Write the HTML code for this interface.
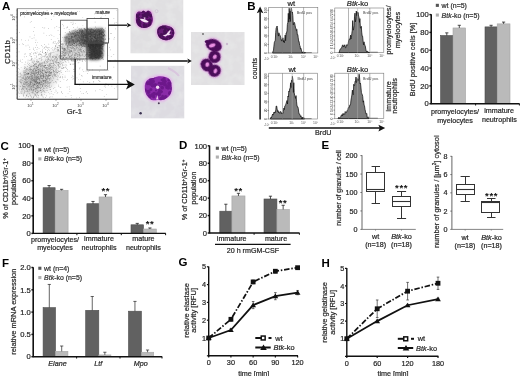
<!DOCTYPE html>
<html><head><meta charset="utf-8"><style>
html,body{margin:0;padding:0;background:#fff;width:520px;height:376px;overflow:hidden}
text[font-size^="6"],text[font-size^="7"],text[font-size^="8"]{stroke:#333;stroke-width:0.22px}
svg{display:block;filter:blur(0.4px)}
text{font-family:"Liberation Sans",sans-serif}
</style></head><body>
<svg width="520" height="376" viewBox="0 0 520 376">
<rect width="520" height="376" fill="#fff"/>
<text x="2.00" y="10.03" font-size="11.5" text-anchor="start" fill="#000" font-weight="bold" >A</text>
<defs><clipPath id="clipA"><rect x="17.8" y="9" width="99.6" height="89.6"/></clipPath><filter id="blur3" x="-50%" y="-50%" width="200%" height="200%"><feGaussianBlur stdDeviation="3"/></filter><filter id="blur2" x="-50%" y="-50%" width="200%" height="200%"><feGaussianBlur stdDeviation="1.8"/></filter><filter id="blur1" x="-50%" y="-50%" width="200%" height="200%"><feGaussianBlur stdDeviation="0.7"/></filter><filter id="blur05" x="-50%" y="-50%" width="200%" height="200%"><feGaussianBlur stdDeviation="0.45"/></filter></defs>
<g clip-path="url(#clipA)">
<g filter="url(#blur3)">
<ellipse cx="38" cy="78" rx="22" ry="15" fill="#d8d8d8" transform="rotate(-35 38 78)"/>
<ellipse cx="35" cy="80" rx="12" ry="9" fill="#c4c4c4" transform="rotate(-35 35 80)"/>
<ellipse cx="55" cy="60" rx="16" ry="7" fill="#e2e2e2" transform="rotate(-45 55 60)"/>
</g>
<g filter="url(#blur2)">
<path d="M64 40 C64 35 70 32 78 30 L101 28 C104 28.5 104.5 31 104.5 34 L104 45 L86 47 L74 47 C68 46.5 64 44 64 40 Z" fill="#8c8c8c"/>
<path d="M80 31 L101 28.5 C103.5 29 104 31 104 34 L104 45 L86 46 L80 44 Z" fill="#6c6c6c"/>
<path d="M87 42 L103 42 L103 55 Q102 60 96 60 L90 60 Q87 58 87 54 Z" fill="#404040"/>
<ellipse cx="75" cy="52" rx="13" ry="8" fill="#d4d4d4"/>
</g>
<path d="M89.6 32.6h.7v.7h-.7zM90.5 48.0h.7v.7h-.7zM45.0 71.6h.7v.7h-.7zM46.3 70.4h.7v.7h-.7zM69.7 42.1h.7v.7h-.7zM45.5 46.6h.7v.7h-.7zM113.5 66.7h.7v.7h-.7zM52.4 49.5h.7v.7h-.7zM48.0 74.5h.7v.7h-.7zM20.6 91.7h.7v.7h-.7zM78.1 29.2h.7v.7h-.7zM97.0 35.9h.7v.7h-.7zM73.3 30.6h.7v.7h-.7zM32.8 80.3h.7v.7h-.7zM85.8 46.5h.7v.7h-.7zM76.7 40.8h.7v.7h-.7zM36.3 70.6h.7v.7h-.7zM84.2 41.3h.7v.7h-.7zM84.2 28.2h.7v.7h-.7zM82.3 29.7h.7v.7h-.7zM95.7 36.8h.7v.7h-.7zM52.9 42.3h.7v.7h-.7zM34.9 81.7h.7v.7h-.7zM101.9 51.8h.7v.7h-.7zM100.9 34.2h.7v.7h-.7zM93.7 44.9h.7v.7h-.7zM48.1 66.7h.7v.7h-.7zM37.2 91.9h.7v.7h-.7zM77.4 38.7h.7v.7h-.7zM20.0 86.3h.7v.7h-.7zM101.8 90.2h.7v.7h-.7zM78.2 51.8h.7v.7h-.7zM61.7 52.7h.7v.7h-.7zM53.6 51.9h.7v.7h-.7zM91.5 52.3h.7v.7h-.7zM95.8 56.9h.7v.7h-.7zM101.9 30.4h.7v.7h-.7zM89.3 42.4h.7v.7h-.7zM59.9 81.3h.7v.7h-.7zM65.3 57.3h.7v.7h-.7zM60.5 70.3h.7v.7h-.7zM95.0 36.7h.7v.7h-.7zM75.7 54.8h.7v.7h-.7zM26.0 88.4h.7v.7h-.7zM54.8 74.2h.7v.7h-.7zM69.0 49.7h.7v.7h-.7zM31.0 73.6h.7v.7h-.7zM99.5 47.8h.7v.7h-.7zM79.7 55.2h.7v.7h-.7zM95.8 31.4h.7v.7h-.7zM36.4 75.6h.7v.7h-.7zM84.6 38.9h.7v.7h-.7zM89.8 38.9h.7v.7h-.7zM82.2 42.9h.7v.7h-.7zM99.8 34.0h.7v.7h-.7zM56.6 73.4h.7v.7h-.7zM97.2 42.1h.7v.7h-.7zM62.2 76.1h.7v.7h-.7zM49.7 54.2h.7v.7h-.7zM104.7 30.1h.7v.7h-.7zM75.9 37.0h.7v.7h-.7zM41.2 70.9h.7v.7h-.7zM36.3 86.0h.7v.7h-.7zM101.1 33.1h.7v.7h-.7zM72.0 31.9h.7v.7h-.7zM24.9 78.0h.7v.7h-.7zM65.9 58.1h.7v.7h-.7zM88.2 50.6h.7v.7h-.7zM93.0 58.2h.7v.7h-.7zM101.9 33.7h.7v.7h-.7zM98.8 53.4h.7v.7h-.7zM82.7 41.6h.7v.7h-.7zM89.3 29.6h.7v.7h-.7zM40.6 56.4h.7v.7h-.7zM41.8 69.7h.7v.7h-.7zM42.1 70.6h.7v.7h-.7zM86.1 31.8h.7v.7h-.7zM62.9 57.8h.7v.7h-.7zM59.1 63.3h.7v.7h-.7zM36.3 80.6h.7v.7h-.7zM18.1 71.7h.7v.7h-.7zM92.7 35.3h.7v.7h-.7zM65.4 60.7h.7v.7h-.7zM86.6 43.9h.7v.7h-.7zM89.3 36.0h.7v.7h-.7zM76.6 30.5h.7v.7h-.7zM86.7 47.2h.7v.7h-.7zM73.3 69.2h.7v.7h-.7zM47.6 47.3h.7v.7h-.7zM86.8 37.9h.7v.7h-.7zM65.7 61.9h.7v.7h-.7zM39.4 84.6h.7v.7h-.7zM60.3 34.5h.7v.7h-.7zM50.5 78.7h.7v.7h-.7zM34.4 80.0h.7v.7h-.7zM100.2 50.7h.7v.7h-.7zM25.5 83.1h.7v.7h-.7zM57.0 49.9h.7v.7h-.7zM28.6 80.1h.7v.7h-.7zM29.7 83.7h.7v.7h-.7zM66.1 50.3h.7v.7h-.7zM40.9 74.8h.7v.7h-.7zM34.6 78.1h.7v.7h-.7zM75.0 55.2h.7v.7h-.7zM74.4 56.8h.7v.7h-.7zM25.1 72.3h.7v.7h-.7zM63.1 25.6h.7v.7h-.7zM99.9 40.9h.7v.7h-.7zM73.8 41.0h.7v.7h-.7zM66.4 80.1h.7v.7h-.7zM78.6 36.3h.7v.7h-.7zM22.3 87.4h.7v.7h-.7zM89.5 28.6h.7v.7h-.7zM99.6 44.9h.7v.7h-.7zM68.5 39.9h.7v.7h-.7zM101.6 54.8h.7v.7h-.7zM59.8 64.6h.7v.7h-.7zM21.6 93.0h.7v.7h-.7zM94.8 53.5h.7v.7h-.7zM97.1 46.3h.7v.7h-.7zM82.0 32.4h.7v.7h-.7zM62.2 64.1h.7v.7h-.7zM78.4 35.9h.7v.7h-.7zM87.7 47.4h.7v.7h-.7zM95.6 55.2h.7v.7h-.7zM91.6 29.4h.7v.7h-.7zM99.6 45.7h.7v.7h-.7zM63.8 58.7h.7v.7h-.7zM97.6 40.5h.7v.7h-.7zM64.8 54.9h.7v.7h-.7zM47.5 69.1h.7v.7h-.7zM40.4 69.9h.7v.7h-.7zM78.5 37.2h.7v.7h-.7zM78.7 48.8h.7v.7h-.7zM81.8 30.1h.7v.7h-.7zM30.6 81.6h.7v.7h-.7zM41.5 64.4h.7v.7h-.7zM88.7 58.4h.7v.7h-.7zM96.3 40.4h.7v.7h-.7zM93.9 38.9h.7v.7h-.7zM97.2 40.8h.7v.7h-.7zM39.7 90.0h.7v.7h-.7zM45.1 77.7h.7v.7h-.7zM79.8 39.9h.7v.7h-.7zM81.7 45.7h.7v.7h-.7zM91.9 36.8h.7v.7h-.7zM49.8 61.4h.7v.7h-.7zM33.6 88.9h.7v.7h-.7zM37.3 90.5h.7v.7h-.7zM93.1 34.1h.7v.7h-.7zM103.4 38.6h.7v.7h-.7zM52.9 76.9h.7v.7h-.7zM75.9 44.9h.7v.7h-.7zM70.4 45.1h.7v.7h-.7zM46.1 79.0h.7v.7h-.7zM45.1 75.7h.7v.7h-.7zM114.2 37.1h.7v.7h-.7zM66.1 27.5h.7v.7h-.7zM82.2 45.6h.7v.7h-.7zM88.7 43.2h.7v.7h-.7zM42.4 85.9h.7v.7h-.7zM70.8 48.0h.7v.7h-.7zM71.6 42.7h.7v.7h-.7zM80.5 44.5h.7v.7h-.7zM102.8 32.5h.7v.7h-.7zM32.8 73.4h.7v.7h-.7zM75.2 34.6h.7v.7h-.7zM72.6 32.5h.7v.7h-.7zM39.1 82.2h.7v.7h-.7zM89.1 30.7h.7v.7h-.7zM73.4 37.2h.7v.7h-.7zM48.2 66.1h.7v.7h-.7zM102.3 47.8h.7v.7h-.7zM36.5 82.4h.7v.7h-.7zM102.5 43.6h.7v.7h-.7zM99.5 54.3h.7v.7h-.7zM36.7 76.7h.7v.7h-.7zM44.4 62.7h.7v.7h-.7zM88.7 33.3h.7v.7h-.7zM102.0 34.0h.7v.7h-.7zM73.8 57.2h.7v.7h-.7zM76.4 42.7h.7v.7h-.7zM102.8 44.2h.7v.7h-.7zM98.4 57.8h.7v.7h-.7zM95.5 47.5h.7v.7h-.7zM88.4 29.3h.7v.7h-.7zM95.0 38.1h.7v.7h-.7zM29.5 67.1h.7v.7h-.7zM83.4 71.2h.7v.7h-.7zM93.2 81.5h.7v.7h-.7zM55.1 65.2h.7v.7h-.7zM48.8 73.3h.7v.7h-.7zM71.2 36.6h.7v.7h-.7zM59.0 66.2h.7v.7h-.7zM45.6 72.3h.7v.7h-.7zM37.9 83.3h.7v.7h-.7zM79.8 31.2h.7v.7h-.7zM97.1 46.7h.7v.7h-.7zM79.2 59.7h.7v.7h-.7zM98.9 33.5h.7v.7h-.7zM42.9 79.8h.7v.7h-.7zM19.9 61.0h.7v.7h-.7zM41.1 72.3h.7v.7h-.7zM26.0 95.5h.7v.7h-.7zM90.8 43.7h.7v.7h-.7zM91.1 28.0h.7v.7h-.7zM56.4 70.9h.7v.7h-.7zM31.3 82.3h.7v.7h-.7zM97.8 35.5h.7v.7h-.7zM72.4 45.8h.7v.7h-.7zM27.4 76.6h.7v.7h-.7zM92.3 35.6h.7v.7h-.7zM35.1 80.7h.7v.7h-.7zM92.2 42.2h.7v.7h-.7zM110.9 33.0h.7v.7h-.7zM97.0 41.1h.7v.7h-.7zM100.6 41.5h.7v.7h-.7zM74.5 40.4h.7v.7h-.7zM84.9 43.8h.7v.7h-.7zM41.8 76.2h.7v.7h-.7zM45.7 74.7h.7v.7h-.7zM62.1 50.9h.7v.7h-.7zM22.9 83.8h.7v.7h-.7zM92.1 32.3h.7v.7h-.7zM81.0 39.8h.7v.7h-.7zM93.6 46.7h.7v.7h-.7zM42.1 78.6h.7v.7h-.7zM92.5 48.2h.7v.7h-.7zM88.1 28.8h.7v.7h-.7zM97.3 43.4h.7v.7h-.7zM96.6 50.9h.7v.7h-.7zM84.4 39.0h.7v.7h-.7zM47.6 57.9h.7v.7h-.7zM99.3 34.0h.7v.7h-.7zM32.5 71.1h.7v.7h-.7zM30.0 53.0h.7v.7h-.7zM35.0 80.6h.7v.7h-.7zM33.2 96.4h.7v.7h-.7zM58.7 50.8h.7v.7h-.7zM86.5 36.8h.7v.7h-.7zM87.0 41.2h.7v.7h-.7zM91.7 43.7h.7v.7h-.7zM45.2 67.2h.7v.7h-.7zM98.8 33.1h.7v.7h-.7zM36.8 66.9h.7v.7h-.7zM30.3 72.6h.7v.7h-.7zM23.9 75.4h.7v.7h-.7zM91.0 31.2h.7v.7h-.7zM95.8 47.7h.7v.7h-.7zM90.0 44.3h.7v.7h-.7zM92.2 58.5h.7v.7h-.7zM96.0 28.0h.7v.7h-.7zM20.3 59.7h.7v.7h-.7zM39.9 75.6h.7v.7h-.7zM87.7 39.2h.7v.7h-.7zM92.4 32.1h.7v.7h-.7zM40.8 66.3h.7v.7h-.7zM95.7 41.8h.7v.7h-.7zM94.9 33.9h.7v.7h-.7zM29.3 84.4h.7v.7h-.7zM86.8 53.5h.7v.7h-.7zM89.5 49.3h.7v.7h-.7zM89.0 29.4h.7v.7h-.7zM88.0 51.7h.7v.7h-.7zM90.7 42.3h.7v.7h-.7zM39.0 78.4h.7v.7h-.7zM59.2 57.7h.7v.7h-.7zM50.3 67.0h.7v.7h-.7zM25.8 70.3h.7v.7h-.7zM32.8 86.9h.7v.7h-.7zM57.5 47.1h.7v.7h-.7zM38.3 74.4h.7v.7h-.7zM101.0 47.6h.7v.7h-.7zM87.2 47.4h.7v.7h-.7zM91.7 41.4h.7v.7h-.7zM101.0 41.9h.7v.7h-.7zM29.2 76.0h.7v.7h-.7zM89.4 46.3h.7v.7h-.7zM95.7 36.3h.7v.7h-.7zM75.3 41.6h.7v.7h-.7zM88.1 31.9h.7v.7h-.7zM38.7 48.4h.7v.7h-.7zM94.8 44.8h.7v.7h-.7zM83.5 46.3h.7v.7h-.7zM101.7 32.1h.7v.7h-.7zM72.2 52.8h.7v.7h-.7zM94.6 44.4h.7v.7h-.7zM53.4 61.5h.7v.7h-.7zM27.0 91.1h.7v.7h-.7zM98.6 29.8h.7v.7h-.7zM71.8 50.9h.7v.7h-.7zM79.0 33.2h.7v.7h-.7zM45.4 49.2h.7v.7h-.7zM35.1 91.3h.7v.7h-.7zM90.9 54.7h.7v.7h-.7zM93.4 42.2h.7v.7h-.7zM69.6 49.8h.7v.7h-.7zM40.3 84.0h.7v.7h-.7zM91.7 44.2h.7v.7h-.7zM65.2 15.4h.7v.7h-.7zM92.0 58.8h.7v.7h-.7zM57.7 49.7h.7v.7h-.7zM25.0 74.2h.7v.7h-.7zM65.6 59.2h.7v.7h-.7zM74.9 44.9h.7v.7h-.7zM65.5 64.5h.7v.7h-.7zM73.0 40.7h.7v.7h-.7zM39.5 53.8h.7v.7h-.7zM84.2 40.2h.7v.7h-.7zM95.7 40.1h.7v.7h-.7zM75.0 52.6h.7v.7h-.7zM26.6 77.9h.7v.7h-.7zM86.5 52.0h.7v.7h-.7zM81.1 28.4h.7v.7h-.7zM89.6 50.0h.7v.7h-.7zM43.2 75.6h.7v.7h-.7zM55.6 51.4h.7v.7h-.7zM87.5 52.4h.7v.7h-.7zM91.4 57.9h.7v.7h-.7zM36.2 79.9h.7v.7h-.7zM90.5 29.0h.7v.7h-.7zM91.7 53.5h.7v.7h-.7zM87.5 48.6h.7v.7h-.7zM96.8 50.0h.7v.7h-.7zM26.5 71.5h.7v.7h-.7zM90.2 51.9h.7v.7h-.7zM54.1 59.0h.7v.7h-.7zM94.0 30.7h.7v.7h-.7zM102.7 48.4h.7v.7h-.7zM30.4 72.5h.7v.7h-.7zM61.2 72.2h.7v.7h-.7zM40.5 81.7h.7v.7h-.7zM34.2 74.8h.7v.7h-.7zM31.6 77.2h.7v.7h-.7zM51.1 65.9h.7v.7h-.7zM66.3 57.0h.7v.7h-.7zM36.8 83.5h.7v.7h-.7zM79.3 11.4h.7v.7h-.7zM66.8 86.7h.7v.7h-.7zM60.9 57.4h.7v.7h-.7zM103.0 40.1h.7v.7h-.7zM93.0 45.3h.7v.7h-.7zM52.3 60.8h.7v.7h-.7zM95.0 57.3h.7v.7h-.7zM93.6 54.3h.7v.7h-.7zM47.3 77.8h.7v.7h-.7zM102.5 35.1h.7v.7h-.7zM58.2 56.6h.7v.7h-.7zM90.0 42.9h.7v.7h-.7zM46.2 71.7h.7v.7h-.7zM80.9 45.3h.7v.7h-.7zM46.0 87.6h.7v.7h-.7zM29.6 88.5h.7v.7h-.7zM86.3 37.2h.7v.7h-.7zM87.7 42.9h.7v.7h-.7zM31.5 58.3h.7v.7h-.7zM36.6 49.0h.7v.7h-.7zM31.6 71.6h.7v.7h-.7zM90.4 32.8h.7v.7h-.7zM38.4 61.3h.7v.7h-.7zM66.4 64.8h.7v.7h-.7zM74.0 32.4h.7v.7h-.7zM47.0 56.4h.7v.7h-.7zM101.2 53.2h.7v.7h-.7zM90.0 41.4h.7v.7h-.7zM91.2 30.4h.7v.7h-.7zM74.7 37.0h.7v.7h-.7zM46.0 95.6h.7v.7h-.7zM84.9 28.8h.7v.7h-.7zM26.6 88.2h.7v.7h-.7zM76.1 37.1h.7v.7h-.7zM37.5 87.6h.7v.7h-.7zM92.3 35.4h.7v.7h-.7zM102.0 28.5h.7v.7h-.7zM87.8 38.4h.7v.7h-.7zM80.9 39.3h.7v.7h-.7zM35.8 69.7h.7v.7h-.7zM54.4 74.7h.7v.7h-.7zM88.9 58.6h.7v.7h-.7zM74.8 46.2h.7v.7h-.7zM62.5 64.9h.7v.7h-.7zM101.3 38.4h.7v.7h-.7zM101.8 58.7h.7v.7h-.7zM53.1 71.7h.7v.7h-.7zM101.8 57.5h.7v.7h-.7zM92.1 38.2h.7v.7h-.7zM92.0 45.3h.7v.7h-.7zM49.2 63.5h.7v.7h-.7zM48.0 75.4h.7v.7h-.7zM96.6 43.9h.7v.7h-.7zM50.1 54.5h.7v.7h-.7zM43.1 65.5h.7v.7h-.7zM86.6 54.2h.7v.7h-.7zM87.8 56.4h.7v.7h-.7zM74.8 56.8h.7v.7h-.7zM71.4 47.5h.7v.7h-.7zM102.3 41.9h.7v.7h-.7zM73.1 45.3h.7v.7h-.7zM38.5 82.8h.7v.7h-.7zM64.2 54.9h.7v.7h-.7zM58.0 71.6h.7v.7h-.7zM90.6 37.5h.7v.7h-.7zM58.3 62.1h.7v.7h-.7zM44.5 61.6h.7v.7h-.7zM30.9 59.8h.7v.7h-.7zM44.8 71.5h.7v.7h-.7zM107.6 55.4h.7v.7h-.7zM101.1 37.1h.7v.7h-.7zM76.4 35.9h.7v.7h-.7zM95.8 45.3h.7v.7h-.7zM44.6 79.8h.7v.7h-.7zM77.6 37.6h.7v.7h-.7zM87.8 45.3h.7v.7h-.7zM80.9 42.3h.7v.7h-.7zM98.8 51.9h.7v.7h-.7zM85.4 37.4h.7v.7h-.7zM101.3 51.6h.7v.7h-.7zM88.9 55.0h.7v.7h-.7zM53.6 74.9h.7v.7h-.7zM37.1 83.3h.7v.7h-.7zM90.4 39.3h.7v.7h-.7zM90.9 39.1h.7v.7h-.7zM91.7 49.3h.7v.7h-.7zM82.3 54.1h.7v.7h-.7zM29.0 60.4h.7v.7h-.7zM85.6 36.9h.7v.7h-.7zM89.9 46.0h.7v.7h-.7zM94.0 51.4h.7v.7h-.7zM71.4 37.5h.7v.7h-.7zM69.5 91.2h.7v.7h-.7zM90.9 43.5h.7v.7h-.7zM98.1 42.0h.7v.7h-.7zM56.8 92.9h.7v.7h-.7zM111.9 79.1h.7v.7h-.7zM92.9 39.8h.7v.7h-.7zM95.0 43.6h.7v.7h-.7zM95.0 43.3h.7v.7h-.7zM97.4 39.4h.7v.7h-.7zM81.8 29.0h.7v.7h-.7zM103.7 50.8h.7v.7h-.7zM43.8 80.7h.7v.7h-.7zM51.3 72.4h.7v.7h-.7zM53.7 71.3h.7v.7h-.7zM39.9 73.7h.7v.7h-.7zM100.3 46.9h.7v.7h-.7zM97.7 38.2h.7v.7h-.7zM97.7 49.3h.7v.7h-.7zM88.3 44.5h.7v.7h-.7zM90.0 36.0h.7v.7h-.7zM46.8 90.0h.7v.7h-.7zM73.1 33.2h.7v.7h-.7zM90.7 43.9h.7v.7h-.7zM98.3 29.9h.7v.7h-.7zM40.2 73.4h.7v.7h-.7zM103.1 39.1h.7v.7h-.7zM34.5 83.5h.7v.7h-.7zM102.9 32.7h.7v.7h-.7zM91.1 39.8h.7v.7h-.7zM98.6 48.6h.7v.7h-.7zM35.0 84.8h.7v.7h-.7zM47.5 56.8h.7v.7h-.7zM41.3 84.4h.7v.7h-.7zM70.6 44.5h.7v.7h-.7zM29.6 83.3h.7v.7h-.7zM79.1 97.2h.7v.7h-.7zM98.6 44.7h.7v.7h-.7zM93.5 32.3h.7v.7h-.7zM43.9 62.8h.7v.7h-.7zM59.9 49.7h.7v.7h-.7zM37.8 71.9h.7v.7h-.7zM100.5 31.9h.7v.7h-.7zM28.3 83.3h.7v.7h-.7zM91.8 31.6h.7v.7h-.7zM102.6 84.0h.7v.7h-.7zM74.0 48.3h.7v.7h-.7zM91.1 32.3h.7v.7h-.7zM96.9 43.8h.7v.7h-.7zM90.2 57.4h.7v.7h-.7zM87.5 35.2h.7v.7h-.7zM69.8 38.2h.7v.7h-.7zM92.4 43.9h.7v.7h-.7zM87.9 44.7h.7v.7h-.7zM70.5 58.9h.7v.7h-.7zM48.1 92.4h.7v.7h-.7zM86.5 48.5h.7v.7h-.7zM50.3 70.3h.7v.7h-.7zM44.7 76.1h.7v.7h-.7zM31.3 56.4h.7v.7h-.7zM92.5 34.7h.7v.7h-.7zM46.8 78.7h.7v.7h-.7zM90.6 47.1h.7v.7h-.7zM43.8 71.3h.7v.7h-.7zM76.9 34.6h.7v.7h-.7zM39.5 68.4h.7v.7h-.7zM34.3 67.5h.7v.7h-.7zM89.8 33.8h.7v.7h-.7zM86.7 34.9h.7v.7h-.7zM88.6 54.3h.7v.7h-.7zM69.3 44.6h.7v.7h-.7zM62.1 93.1h.7v.7h-.7zM87.8 44.8h.7v.7h-.7zM96.1 41.6h.7v.7h-.7zM91.8 29.4h.7v.7h-.7zM94.7 44.0h.7v.7h-.7zM62.0 53.8h.7v.7h-.7zM48.9 68.9h.7v.7h-.7zM70.8 41.2h.7v.7h-.7zM94.4 55.0h.7v.7h-.7zM82.4 55.1h.7v.7h-.7zM79.5 49.8h.7v.7h-.7zM41.5 94.9h.7v.7h-.7zM87.6 28.3h.7v.7h-.7zM94.7 46.7h.7v.7h-.7zM99.4 52.4h.7v.7h-.7zM85.0 44.8h.7v.7h-.7zM74.2 58.3h.7v.7h-.7zM60.7 56.4h.7v.7h-.7zM77.2 58.9h.7v.7h-.7zM31.2 59.4h.7v.7h-.7zM87.6 31.9h.7v.7h-.7zM85.9 29.1h.7v.7h-.7zM96.0 52.8h.7v.7h-.7zM38.8 58.5h.7v.7h-.7zM46.8 61.7h.7v.7h-.7zM91.5 49.9h.7v.7h-.7zM102.6 47.5h.7v.7h-.7zM36.3 86.3h.7v.7h-.7zM96.3 41.5h.7v.7h-.7zM77.4 54.6h.7v.7h-.7zM29.6 94.6h.7v.7h-.7zM104.0 40.9h.7v.7h-.7zM31.8 76.7h.7v.7h-.7zM34.0 34.7h.7v.7h-.7zM94.2 17.5h.7v.7h-.7zM93.9 41.2h.7v.7h-.7zM47.2 68.4h.7v.7h-.7zM34.1 81.2h.7v.7h-.7zM64.2 48.3h.7v.7h-.7zM51.1 73.5h.7v.7h-.7zM30.8 88.1h.7v.7h-.7zM88.1 32.8h.7v.7h-.7zM57.3 58.7h.7v.7h-.7zM88.5 32.7h.7v.7h-.7zM98.0 44.9h.7v.7h-.7zM103.8 35.1h.7v.7h-.7zM79.1 55.6h.7v.7h-.7zM85.6 45.5h.7v.7h-.7zM100.7 43.9h.7v.7h-.7zM37.2 79.4h.7v.7h-.7zM27.7 86.5h.7v.7h-.7zM45.9 82.9h.7v.7h-.7zM31.8 70.1h.7v.7h-.7zM97.9 45.1h.7v.7h-.7zM26.1 77.8h.7v.7h-.7zM30.8 86.0h.7v.7h-.7zM64.5 50.0h.7v.7h-.7zM99.0 43.8h.7v.7h-.7zM20.9 82.4h.7v.7h-.7zM96.3 34.2h.7v.7h-.7zM95.7 35.8h.7v.7h-.7zM85.7 91.9h.7v.7h-.7zM45.4 52.5h.7v.7h-.7zM60.7 43.1h.7v.7h-.7zM37.2 82.4h.7v.7h-.7zM95.2 46.4h.7v.7h-.7zM62.5 43.7h.7v.7h-.7zM42.8 56.1h.7v.7h-.7zM89.8 48.2h.7v.7h-.7zM55.9 82.6h.7v.7h-.7zM53.0 70.8h.7v.7h-.7zM36.3 44.7h.7v.7h-.7zM73.8 36.4h.7v.7h-.7zM55.1 75.4h.7v.7h-.7zM93.4 45.8h.7v.7h-.7zM57.9 65.1h.7v.7h-.7zM28.5 84.9h.7v.7h-.7zM56.4 26.3h.7v.7h-.7zM69.5 31.5h.7v.7h-.7zM97.2 39.4h.7v.7h-.7zM84.1 36.8h.7v.7h-.7zM63.7 45.9h.7v.7h-.7zM101.7 40.9h.7v.7h-.7zM99.0 54.2h.7v.7h-.7zM67.2 49.6h.7v.7h-.7zM45.5 91.9h.7v.7h-.7zM101.2 43.9h.7v.7h-.7zM60.1 58.5h.7v.7h-.7zM65.0 49.9h.7v.7h-.7zM62.2 65.6h.7v.7h-.7zM101.9 14.4h.7v.7h-.7zM81.5 92.9h.7v.7h-.7zM100.6 37.0h.7v.7h-.7zM17.5 84.9h.7v.7h-.7zM103.1 35.5h.7v.7h-.7zM53.5 82.1h.7v.7h-.7zM79.8 55.7h.7v.7h-.7zM93.9 37.3h.7v.7h-.7zM88.0 31.8h.7v.7h-.7zM74.6 36.5h.7v.7h-.7zM62.5 74.4h.7v.7h-.7zM84.2 33.7h.7v.7h-.7zM47.7 83.6h.7v.7h-.7zM89.7 54.1h.7v.7h-.7zM91.2 39.2h.7v.7h-.7zM89.1 52.4h.7v.7h-.7zM73.6 56.4h.7v.7h-.7zM69.8 34.1h.7v.7h-.7zM36.5 77.3h.7v.7h-.7zM92.4 34.8h.7v.7h-.7zM98.0 80.2h.7v.7h-.7zM35.5 88.5h.7v.7h-.7zM24.8 82.5h.7v.7h-.7zM92.4 31.8h.7v.7h-.7zM81.1 35.6h.7v.7h-.7zM81.0 41.5h.7v.7h-.7zM75.7 45.1h.7v.7h-.7zM51.8 96.6h.7v.7h-.7zM97.8 34.4h.7v.7h-.7zM89.7 57.5h.7v.7h-.7zM96.5 43.3h.7v.7h-.7zM87.6 54.1h.7v.7h-.7zM97.0 38.2h.7v.7h-.7zM90.7 34.0h.7v.7h-.7zM94.5 50.8h.7v.7h-.7zM101.8 38.2h.7v.7h-.7zM98.8 34.9h.7v.7h-.7zM63.8 52.5h.7v.7h-.7zM34.5 78.9h.7v.7h-.7zM76.8 47.2h.7v.7h-.7zM69.1 36.2h.7v.7h-.7zM65.5 37.5h.7v.7h-.7zM94.6 44.5h.7v.7h-.7zM35.2 80.7h.7v.7h-.7zM100.0 54.8h.7v.7h-.7zM56.4 43.7h.7v.7h-.7zM91.5 55.9h.7v.7h-.7zM18.3 91.7h.7v.7h-.7zM23.9 74.1h.7v.7h-.7zM74.3 43.3h.7v.7h-.7zM86.6 52.4h.7v.7h-.7zM94.8 38.0h.7v.7h-.7zM101.4 48.1h.7v.7h-.7zM59.0 62.6h.7v.7h-.7zM98.5 46.0h.7v.7h-.7zM56.1 57.5h.7v.7h-.7zM80.9 42.8h.7v.7h-.7zM25.4 76.8h.7v.7h-.7zM79.7 28.8h.7v.7h-.7zM101.5 40.5h.7v.7h-.7zM88.2 40.3h.7v.7h-.7zM42.8 74.7h.7v.7h-.7zM75.3 50.2h.7v.7h-.7zM72.3 43.9h.7v.7h-.7zM90.4 30.9h.7v.7h-.7zM31.4 91.9h.7v.7h-.7zM98.3 34.6h.7v.7h-.7zM20.2 82.3h.7v.7h-.7zM43.5 32.7h.7v.7h-.7zM99.3 58.0h.7v.7h-.7zM37.2 86.6h.7v.7h-.7zM88.1 34.4h.7v.7h-.7zM99.2 43.2h.7v.7h-.7zM92.8 45.6h.7v.7h-.7zM73.1 41.7h.7v.7h-.7zM90.3 40.1h.7v.7h-.7zM101.7 43.9h.7v.7h-.7zM38.4 86.2h.7v.7h-.7zM31.5 89.7h.7v.7h-.7zM18.8 81.4h.7v.7h-.7zM113.4 54.3h.7v.7h-.7zM27.7 74.1h.7v.7h-.7zM88.9 58.6h.7v.7h-.7zM96.8 36.0h.7v.7h-.7zM84.8 50.9h.7v.7h-.7zM52.7 71.7h.7v.7h-.7zM101.7 44.9h.7v.7h-.7zM74.7 36.6h.7v.7h-.7zM51.7 67.3h.7v.7h-.7zM64.9 32.2h.7v.7h-.7zM64.2 49.3h.7v.7h-.7zM81.2 51.2h.7v.7h-.7zM101.6 53.1h.7v.7h-.7zM89.3 54.0h.7v.7h-.7zM68.8 38.5h.7v.7h-.7zM83.9 31.8h.7v.7h-.7zM56.8 49.2h.7v.7h-.7zM26.7 74.1h.7v.7h-.7zM96.3 44.3h.7v.7h-.7zM96.5 45.1h.7v.7h-.7zM39.1 84.5h.7v.7h-.7zM84.6 29.0h.7v.7h-.7zM85.9 38.9h.7v.7h-.7zM20.6 79.4h.7v.7h-.7zM73.8 39.2h.7v.7h-.7zM45.2 78.5h.7v.7h-.7zM97.6 38.1h.7v.7h-.7zM87.8 39.0h.7v.7h-.7zM98.1 44.4h.7v.7h-.7zM20.3 74.6h.7v.7h-.7zM86.7 42.6h.7v.7h-.7zM51.3 58.8h.7v.7h-.7zM54.7 76.1h.7v.7h-.7zM79.2 45.8h.7v.7h-.7zM39.6 62.5h.7v.7h-.7zM96.8 44.8h.7v.7h-.7zM77.1 54.0h.7v.7h-.7zM95.3 34.1h.7v.7h-.7zM43.0 80.3h.7v.7h-.7zM57.3 47.6h.7v.7h-.7zM74.1 42.6h.7v.7h-.7zM74.2 44.6h.7v.7h-.7zM39.1 82.0h.7v.7h-.7zM87.8 29.9h.7v.7h-.7zM100.7 39.7h.7v.7h-.7zM57.3 58.0h.7v.7h-.7zM47.7 78.3h.7v.7h-.7zM99.0 56.6h.7v.7h-.7zM105.1 15.4h.7v.7h-.7zM87.1 31.4h.7v.7h-.7zM90.7 55.8h.7v.7h-.7zM91.4 42.1h.7v.7h-.7zM86.8 55.9h.7v.7h-.7zM91.4 39.7h.7v.7h-.7zM22.3 43.6h.7v.7h-.7zM94.6 44.3h.7v.7h-.7zM42.1 86.2h.7v.7h-.7zM96.7 32.0h.7v.7h-.7zM94.8 58.7h.7v.7h-.7zM75.2 22.9h.7v.7h-.7zM65.4 57.5h.7v.7h-.7zM86.5 58.5h.7v.7h-.7zM73.5 59.6h.7v.7h-.7zM97.2 41.2h.7v.7h-.7zM90.6 44.8h.7v.7h-.7zM35.1 47.2h.7v.7h-.7zM25.8 68.0h.7v.7h-.7zM49.9 63.8h.7v.7h-.7zM81.3 44.1h.7v.7h-.7zM66.2 35.9h.7v.7h-.7zM89.9 43.3h.7v.7h-.7zM35.4 76.3h.7v.7h-.7zM92.2 38.0h.7v.7h-.7zM100.0 33.3h.7v.7h-.7zM96.0 44.4h.7v.7h-.7zM70.1 58.6h.7v.7h-.7zM70.7 59.8h.7v.7h-.7zM74.8 53.8h.7v.7h-.7zM65.2 66.8h.7v.7h-.7zM87.0 45.8h.7v.7h-.7zM40.8 92.0h.7v.7h-.7zM94.3 36.9h.7v.7h-.7zM39.1 81.7h.7v.7h-.7zM77.9 43.5h.7v.7h-.7zM50.4 73.1h.7v.7h-.7zM102.2 53.0h.7v.7h-.7zM98.9 43.4h.7v.7h-.7zM75.8 38.8h.7v.7h-.7zM94.9 49.8h.7v.7h-.7zM87.5 33.5h.7v.7h-.7zM74.7 34.8h.7v.7h-.7zM52.9 69.5h.7v.7h-.7zM82.7 38.5h.7v.7h-.7zM25.0 87.6h.7v.7h-.7zM101.4 33.1h.7v.7h-.7zM28.3 72.9h.7v.7h-.7zM58.6 40.4h.7v.7h-.7zM34.2 83.9h.7v.7h-.7zM82.9 35.5h.7v.7h-.7zM90.6 36.5h.7v.7h-.7zM42.4 69.8h.7v.7h-.7zM87.1 73.2h.7v.7h-.7zM31.6 76.1h.7v.7h-.7zM69.3 41.1h.7v.7h-.7zM29.8 88.7h.7v.7h-.7zM90.4 45.7h.7v.7h-.7zM58.5 41.5h.7v.7h-.7zM88.6 56.4h.7v.7h-.7zM96.9 32.0h.7v.7h-.7zM54.1 71.1h.7v.7h-.7zM103.7 38.8h.7v.7h-.7zM98.2 45.9h.7v.7h-.7zM89.2 50.0h.7v.7h-.7zM100.6 45.0h.7v.7h-.7zM96.4 49.7h.7v.7h-.7zM74.2 55.3h.7v.7h-.7zM99.0 80.8h.7v.7h-.7zM63.5 52.2h.7v.7h-.7zM37.7 76.7h.7v.7h-.7zM84.7 50.9h.7v.7h-.7zM74.2 45.0h.7v.7h-.7zM57.9 44.9h.7v.7h-.7zM40.8 95.4h.7v.7h-.7zM96.4 39.3h.7v.7h-.7zM31.6 59.6h.7v.7h-.7zM48.8 82.5h.7v.7h-.7zM29.2 53.5h.7v.7h-.7zM96.4 58.1h.7v.7h-.7zM86.0 35.5h.7v.7h-.7zM86.7 32.9h.7v.7h-.7zM94.6 43.7h.7v.7h-.7zM49.3 68.3h.7v.7h-.7zM102.8 56.3h.7v.7h-.7zM92.2 42.4h.7v.7h-.7zM50.3 74.4h.7v.7h-.7zM101.7 41.1h.7v.7h-.7zM100.5 53.6h.7v.7h-.7zM49.0 74.7h.7v.7h-.7zM67.2 14.8h.7v.7h-.7zM99.0 30.6h.7v.7h-.7zM76.0 52.7h.7v.7h-.7zM33.6 89.4h.7v.7h-.7zM82.0 39.5h.7v.7h-.7zM70.8 59.9h.7v.7h-.7zM97.0 44.1h.7v.7h-.7zM99.6 81.1h.7v.7h-.7zM75.5 61.3h.7v.7h-.7zM52.9 55.7h.7v.7h-.7zM69.1 31.4h.7v.7h-.7zM83.9 34.5h.7v.7h-.7zM103.0 31.9h.7v.7h-.7zM89.9 42.6h.7v.7h-.7zM85.9 37.7h.7v.7h-.7zM87.8 43.8h.7v.7h-.7zM76.3 34.1h.7v.7h-.7zM100.8 56.9h.7v.7h-.7zM105.2 43.4h.7v.7h-.7zM81.1 28.8h.7v.7h-.7zM37.2 81.7h.7v.7h-.7zM72.9 42.8h.7v.7h-.7zM99.5 42.2h.7v.7h-.7zM33.1 31.2h.7v.7h-.7zM42.2 72.8h.7v.7h-.7zM95.4 43.0h.7v.7h-.7zM80.5 35.3h.7v.7h-.7zM103.6 29.5h.7v.7h-.7zM68.0 54.9h.7v.7h-.7zM41.4 59.4h.7v.7h-.7zM38.1 71.2h.7v.7h-.7zM90.1 29.5h.7v.7h-.7zM83.7 45.3h.7v.7h-.7zM88.6 37.9h.7v.7h-.7zM59.3 67.0h.7v.7h-.7zM40.7 84.4h.7v.7h-.7zM30.2 80.6h.7v.7h-.7zM46.9 59.9h.7v.7h-.7zM85.0 29.3h.7v.7h-.7zM99.6 40.8h.7v.7h-.7zM81.2 40.0h.7v.7h-.7zM101.8 51.7h.7v.7h-.7zM90.4 34.3h.7v.7h-.7zM90.9 38.2h.7v.7h-.7zM77.6 35.4h.7v.7h-.7zM44.6 73.9h.7v.7h-.7zM25.1 61.7h.7v.7h-.7zM85.7 70.7h.7v.7h-.7zM36.2 86.6h.7v.7h-.7zM91.5 51.8h.7v.7h-.7zM73.3 60.4h.7v.7h-.7z" fill="#2a2a2a" fill-opacity="0.38"/>
<path d="M48.9 64.3h.7v.7h-.7zM77.2 11.2h.7v.7h-.7zM31.2 52.4h.7v.7h-.7zM93.7 33.2h.7v.7h-.7zM98.2 40.9h.7v.7h-.7zM40.3 54.3h.7v.7h-.7zM69.9 47.0h.7v.7h-.7zM63.8 50.8h.7v.7h-.7zM18.0 59.9h.7v.7h-.7zM98.4 36.7h.7v.7h-.7zM40.0 71.7h.7v.7h-.7zM80.8 38.6h.7v.7h-.7zM83.1 57.9h.7v.7h-.7zM49.6 60.1h.7v.7h-.7zM97.3 42.8h.7v.7h-.7zM97.9 47.2h.7v.7h-.7zM92.5 30.8h.7v.7h-.7zM95.7 53.9h.7v.7h-.7zM39.2 87.1h.7v.7h-.7zM97.6 31.2h.7v.7h-.7zM88.9 57.8h.7v.7h-.7zM97.2 34.6h.7v.7h-.7zM90.8 45.5h.7v.7h-.7zM89.9 47.3h.7v.7h-.7zM43.4 62.5h.7v.7h-.7zM89.1 47.3h.7v.7h-.7zM87.6 40.7h.7v.7h-.7zM62.1 62.5h.7v.7h-.7zM90.7 44.7h.7v.7h-.7zM81.9 39.2h.7v.7h-.7zM66.9 60.1h.7v.7h-.7zM85.0 35.0h.7v.7h-.7zM65.5 49.4h.7v.7h-.7zM93.8 42.5h.7v.7h-.7zM45.2 84.8h.7v.7h-.7zM88.2 46.2h.7v.7h-.7zM55.1 81.0h.7v.7h-.7zM36.0 76.0h.7v.7h-.7zM50.7 72.1h.7v.7h-.7zM90.4 32.8h.7v.7h-.7zM56.3 62.7h.7v.7h-.7zM94.4 56.6h.7v.7h-.7zM78.3 78.9h.7v.7h-.7zM93.7 36.3h.7v.7h-.7zM27.8 70.4h.7v.7h-.7zM86.9 43.1h.7v.7h-.7zM42.4 89.3h.7v.7h-.7zM88.7 31.8h.7v.7h-.7zM78.7 28.2h.7v.7h-.7zM69.7 50.8h.7v.7h-.7zM83.5 51.8h.7v.7h-.7zM34.6 79.0h.7v.7h-.7zM88.2 45.9h.7v.7h-.7zM34.0 84.5h.7v.7h-.7zM82.1 40.5h.7v.7h-.7zM42.4 90.7h.7v.7h-.7zM78.2 44.9h.7v.7h-.7zM43.0 77.0h.7v.7h-.7zM88.6 36.1h.7v.7h-.7zM32.4 72.9h.7v.7h-.7zM32.7 84.9h.7v.7h-.7zM88.4 28.8h.7v.7h-.7zM32.1 78.7h.7v.7h-.7zM38.7 78.7h.7v.7h-.7zM79.3 32.4h.7v.7h-.7zM89.3 52.1h.7v.7h-.7zM62.0 43.5h.7v.7h-.7zM92.1 52.8h.7v.7h-.7zM34.6 77.8h.7v.7h-.7zM92.8 49.4h.7v.7h-.7zM71.5 77.0h.7v.7h-.7zM48.9 35.1h.7v.7h-.7zM76.2 44.3h.7v.7h-.7zM90.3 31.2h.7v.7h-.7zM88.1 44.9h.7v.7h-.7zM103.1 30.5h.7v.7h-.7zM41.7 94.8h.7v.7h-.7zM82.2 30.7h.7v.7h-.7zM75.3 48.7h.7v.7h-.7zM89.8 28.8h.7v.7h-.7zM43.2 74.3h.7v.7h-.7zM31.1 78.0h.7v.7h-.7zM95.1 41.7h.7v.7h-.7zM26.1 84.7h.7v.7h-.7zM86.9 52.2h.7v.7h-.7zM79.5 30.7h.7v.7h-.7zM97.8 52.4h.7v.7h-.7zM18.7 51.5h.7v.7h-.7zM33.7 73.0h.7v.7h-.7zM44.6 83.8h.7v.7h-.7zM99.5 41.2h.7v.7h-.7zM111.5 85.8h.7v.7h-.7zM104.7 31.5h.7v.7h-.7zM43.1 75.3h.7v.7h-.7zM36.0 66.5h.7v.7h-.7zM91.5 29.1h.7v.7h-.7zM35.5 81.0h.7v.7h-.7zM33.3 47.8h.7v.7h-.7zM36.7 87.6h.7v.7h-.7zM94.3 56.7h.7v.7h-.7zM34.5 87.1h.7v.7h-.7zM97.1 34.0h.7v.7h-.7zM75.7 31.1h.7v.7h-.7zM100.7 43.4h.7v.7h-.7zM95.7 48.4h.7v.7h-.7zM85.8 29.5h.7v.7h-.7zM44.3 90.8h.7v.7h-.7zM31.2 59.3h.7v.7h-.7zM94.7 33.2h.7v.7h-.7zM101.4 44.5h.7v.7h-.7zM102.3 31.2h.7v.7h-.7zM64.5 49.5h.7v.7h-.7zM87.8 39.2h.7v.7h-.7zM45.8 68.1h.7v.7h-.7zM62.5 56.7h.7v.7h-.7zM64.5 36.6h.7v.7h-.7zM47.4 77.1h.7v.7h-.7zM64.3 56.0h.7v.7h-.7zM78.2 32.6h.7v.7h-.7zM82.6 31.4h.7v.7h-.7zM100.6 30.9h.7v.7h-.7zM81.8 32.7h.7v.7h-.7zM94.9 42.1h.7v.7h-.7zM94.7 37.5h.7v.7h-.7zM79.9 29.8h.7v.7h-.7zM89.9 43.6h.7v.7h-.7zM36.7 78.8h.7v.7h-.7zM35.9 87.8h.7v.7h-.7zM36.8 72.4h.7v.7h-.7zM54.5 92.4h.7v.7h-.7zM91.1 38.1h.7v.7h-.7zM64.9 60.9h.7v.7h-.7zM42.4 73.0h.7v.7h-.7zM75.0 35.1h.7v.7h-.7zM40.8 57.6h.7v.7h-.7zM85.1 47.9h.7v.7h-.7zM79.5 31.2h.7v.7h-.7zM98.9 29.5h.7v.7h-.7zM40.4 87.7h.7v.7h-.7zM87.0 44.0h.7v.7h-.7zM24.9 75.8h.7v.7h-.7zM33.7 68.5h.7v.7h-.7zM63.5 51.3h.7v.7h-.7zM39.6 71.3h.7v.7h-.7zM89.2 54.8h.7v.7h-.7zM102.1 48.0h.7v.7h-.7zM91.4 54.8h.7v.7h-.7zM99.7 48.7h.7v.7h-.7zM43.0 77.7h.7v.7h-.7zM78.3 37.8h.7v.7h-.7zM66.0 52.0h.7v.7h-.7zM33.8 83.8h.7v.7h-.7zM101.9 49.5h.7v.7h-.7zM35.6 71.7h.7v.7h-.7zM25.5 77.4h.7v.7h-.7zM45.4 52.0h.7v.7h-.7zM64.4 48.7h.7v.7h-.7zM89.5 33.9h.7v.7h-.7zM67.7 33.5h.7v.7h-.7zM92.3 36.2h.7v.7h-.7zM79.2 84.9h.7v.7h-.7zM96.0 44.1h.7v.7h-.7zM35.2 88.5h.7v.7h-.7zM34.6 57.8h.7v.7h-.7zM68.6 46.8h.7v.7h-.7zM93.0 43.3h.7v.7h-.7zM69.3 42.8h.7v.7h-.7zM84.0 29.1h.7v.7h-.7zM82.5 46.0h.7v.7h-.7zM43.7 67.1h.7v.7h-.7zM100.9 41.1h.7v.7h-.7zM54.4 49.1h.7v.7h-.7zM60.3 52.4h.7v.7h-.7zM66.8 70.7h.7v.7h-.7zM68.8 29.1h.7v.7h-.7zM26.7 84.7h.7v.7h-.7zM94.8 41.1h.7v.7h-.7zM88.3 43.4h.7v.7h-.7zM102.0 38.5h.7v.7h-.7zM69.3 41.5h.7v.7h-.7zM25.8 82.6h.7v.7h-.7zM102.2 44.2h.7v.7h-.7zM92.8 30.1h.7v.7h-.7zM62.6 48.2h.7v.7h-.7zM95.6 44.6h.7v.7h-.7zM86.5 38.2h.7v.7h-.7zM32.3 90.5h.7v.7h-.7zM32.9 65.0h.7v.7h-.7zM49.2 84.6h.7v.7h-.7zM97.1 45.8h.7v.7h-.7zM42.4 27.0h.7v.7h-.7zM65.8 44.1h.7v.7h-.7zM95.0 30.9h.7v.7h-.7zM75.6 57.8h.7v.7h-.7zM102.2 38.9h.7v.7h-.7zM34.5 64.5h.7v.7h-.7zM81.5 34.5h.7v.7h-.7zM99.5 44.4h.7v.7h-.7zM83.3 50.0h.7v.7h-.7zM48.4 65.3h.7v.7h-.7zM88.3 46.4h.7v.7h-.7zM20.4 82.6h.7v.7h-.7zM60.4 66.5h.7v.7h-.7zM44.0 79.9h.7v.7h-.7zM103.3 29.5h.7v.7h-.7zM82.4 32.2h.7v.7h-.7zM95.2 48.1h.7v.7h-.7zM95.2 32.9h.7v.7h-.7zM35.1 95.0h.7v.7h-.7zM70.0 33.6h.7v.7h-.7zM99.2 54.5h.7v.7h-.7zM80.4 42.8h.7v.7h-.7zM78.2 44.2h.7v.7h-.7zM95.1 30.5h.7v.7h-.7zM68.0 38.8h.7v.7h-.7zM97.7 40.6h.7v.7h-.7zM40.6 70.9h.7v.7h-.7zM55.2 56.9h.7v.7h-.7zM73.9 33.1h.7v.7h-.7zM27.7 44.7h.7v.7h-.7zM97.6 43.2h.7v.7h-.7zM47.4 82.5h.7v.7h-.7zM77.9 35.3h.7v.7h-.7zM92.5 36.3h.7v.7h-.7zM63.7 56.9h.7v.7h-.7zM93.1 46.4h.7v.7h-.7zM85.3 40.3h.7v.7h-.7zM85.0 55.4h.7v.7h-.7zM89.2 57.5h.7v.7h-.7zM102.2 38.1h.7v.7h-.7zM69.7 45.3h.7v.7h-.7zM100.5 54.3h.7v.7h-.7zM24.2 68.3h.7v.7h-.7zM96.7 41.9h.7v.7h-.7zM31.1 78.6h.7v.7h-.7zM53.0 63.5h.7v.7h-.7zM87.5 41.6h.7v.7h-.7zM37.7 88.0h.7v.7h-.7zM36.4 89.6h.7v.7h-.7zM56.0 56.6h.7v.7h-.7zM82.7 41.9h.7v.7h-.7zM53.6 41.1h.7v.7h-.7zM38.2 61.1h.7v.7h-.7zM31.7 61.7h.7v.7h-.7zM98.9 46.6h.7v.7h-.7zM37.5 69.8h.7v.7h-.7zM92.7 53.8h.7v.7h-.7zM81.4 34.6h.7v.7h-.7zM97.8 47.1h.7v.7h-.7zM83.1 39.9h.7v.7h-.7zM93.1 42.2h.7v.7h-.7zM87.6 28.3h.7v.7h-.7zM98.2 43.4h.7v.7h-.7zM93.7 43.7h.7v.7h-.7zM95.8 44.2h.7v.7h-.7zM85.1 33.7h.7v.7h-.7zM64.3 54.8h.7v.7h-.7zM22.2 88.3h.7v.7h-.7zM79.7 30.1h.7v.7h-.7zM95.4 27.2h.7v.7h-.7zM57.3 42.4h.7v.7h-.7zM24.8 67.1h.7v.7h-.7zM102.7 55.4h.7v.7h-.7zM32.3 86.4h.7v.7h-.7zM93.5 45.9h.7v.7h-.7zM83.2 38.7h.7v.7h-.7zM37.7 92.1h.7v.7h-.7zM103.3 34.8h.7v.7h-.7zM84.4 41.3h.7v.7h-.7zM103.5 32.5h.7v.7h-.7zM34.8 94.3h.7v.7h-.7zM32.1 75.4h.7v.7h-.7zM86.8 50.9h.7v.7h-.7zM87.6 38.8h.7v.7h-.7zM94.3 49.9h.7v.7h-.7zM68.9 45.6h.7v.7h-.7zM30.3 70.4h.7v.7h-.7zM35.5 81.7h.7v.7h-.7zM28.6 85.1h.7v.7h-.7zM69.7 32.3h.7v.7h-.7zM26.0 80.7h.7v.7h-.7zM93.4 50.7h.7v.7h-.7zM38.0 72.9h.7v.7h-.7zM96.4 57.3h.7v.7h-.7zM35.9 83.0h.7v.7h-.7zM84.1 40.0h.7v.7h-.7zM82.0 35.0h.7v.7h-.7zM95.5 56.3h.7v.7h-.7zM28.0 64.1h.7v.7h-.7zM20.3 80.8h.7v.7h-.7zM78.8 30.8h.7v.7h-.7zM89.8 39.5h.7v.7h-.7zM94.1 40.1h.7v.7h-.7zM27.2 73.1h.7v.7h-.7zM40.1 53.7h.7v.7h-.7zM27.2 90.3h.7v.7h-.7zM26.1 95.0h.7v.7h-.7zM38.8 78.1h.7v.7h-.7zM60.7 51.3h.7v.7h-.7zM41.2 82.1h.7v.7h-.7zM102.0 57.8h.7v.7h-.7zM72.3 46.7h.7v.7h-.7zM22.0 78.3h.7v.7h-.7zM23.7 70.2h.7v.7h-.7zM19.6 85.8h.7v.7h-.7zM97.1 41.7h.7v.7h-.7zM34.0 68.3h.7v.7h-.7zM35.4 70.5h.7v.7h-.7zM82.2 59.9h.7v.7h-.7zM57.9 49.2h.7v.7h-.7zM42.9 70.3h.7v.7h-.7zM71.7 45.9h.7v.7h-.7zM95.5 52.2h.7v.7h-.7zM46.0 57.2h.7v.7h-.7zM30.8 79.2h.7v.7h-.7zM97.7 46.9h.7v.7h-.7zM37.7 85.0h.7v.7h-.7zM31.4 77.5h.7v.7h-.7zM18.4 68.0h.7v.7h-.7zM101.0 33.0h.7v.7h-.7zM35.7 69.7h.7v.7h-.7zM94.7 35.5h.7v.7h-.7zM53.3 60.5h.7v.7h-.7zM56.3 60.4h.7v.7h-.7zM35.5 72.2h.7v.7h-.7zM98.7 43.1h.7v.7h-.7zM83.1 33.0h.7v.7h-.7zM84.4 39.6h.7v.7h-.7zM86.6 58.4h.7v.7h-.7zM79.2 38.2h.7v.7h-.7zM88.7 33.7h.7v.7h-.7zM98.6 36.6h.7v.7h-.7zM92.0 45.0h.7v.7h-.7zM45.2 74.1h.7v.7h-.7zM92.6 31.0h.7v.7h-.7zM82.5 30.2h.7v.7h-.7zM101.8 39.7h.7v.7h-.7zM94.5 45.6h.7v.7h-.7zM69.6 43.6h.7v.7h-.7zM18.6 79.5h.7v.7h-.7zM92.9 44.6h.7v.7h-.7zM57.7 79.6h.7v.7h-.7zM75.4 59.8h.7v.7h-.7zM53.7 74.2h.7v.7h-.7zM104.9 38.7h.7v.7h-.7zM97.3 56.8h.7v.7h-.7zM76.2 48.1h.7v.7h-.7zM72.2 37.3h.7v.7h-.7zM27.3 66.3h.7v.7h-.7zM93.8 36.0h.7v.7h-.7zM87.7 39.5h.7v.7h-.7zM102.1 46.3h.7v.7h-.7zM76.2 42.9h.7v.7h-.7zM90.4 37.8h.7v.7h-.7zM91.2 55.9h.7v.7h-.7zM102.9 42.2h.7v.7h-.7zM47.6 78.6h.7v.7h-.7zM63.2 44.2h.7v.7h-.7zM79.2 42.2h.7v.7h-.7zM60.2 55.4h.7v.7h-.7zM86.8 52.8h.7v.7h-.7zM32.9 70.4h.7v.7h-.7zM86.0 42.5h.7v.7h-.7zM72.9 39.4h.7v.7h-.7zM88.9 42.9h.7v.7h-.7zM81.1 33.6h.7v.7h-.7zM95.4 35.7h.7v.7h-.7zM94.7 43.2h.7v.7h-.7zM27.6 93.4h.7v.7h-.7zM38.3 66.6h.7v.7h-.7zM89.7 50.2h.7v.7h-.7zM102.6 54.5h.7v.7h-.7zM94.6 31.2h.7v.7h-.7zM89.8 40.5h.7v.7h-.7zM42.9 84.1h.7v.7h-.7zM57.6 62.0h.7v.7h-.7zM44.4 56.6h.7v.7h-.7zM50.4 52.8h.7v.7h-.7zM32.7 97.7h.7v.7h-.7zM37.6 67.1h.7v.7h-.7zM83.4 41.5h.7v.7h-.7zM90.3 43.3h.7v.7h-.7zM53.5 15.8h.7v.7h-.7zM101.0 37.7h.7v.7h-.7zM78.1 40.8h.7v.7h-.7zM97.0 54.0h.7v.7h-.7zM87.7 46.2h.7v.7h-.7zM100.4 17.3h.7v.7h-.7zM38.8 64.9h.7v.7h-.7zM94.2 55.8h.7v.7h-.7zM103.0 58.7h.7v.7h-.7zM85.7 43.2h.7v.7h-.7zM95.6 39.8h.7v.7h-.7zM96.7 43.7h.7v.7h-.7zM42.8 80.8h.7v.7h-.7zM57.2 59.7h.7v.7h-.7zM103.1 41.1h.7v.7h-.7zM30.4 87.6h.7v.7h-.7zM87.0 93.3h.7v.7h-.7zM82.1 35.8h.7v.7h-.7zM95.6 46.2h.7v.7h-.7zM19.7 73.3h.7v.7h-.7zM101.8 30.9h.7v.7h-.7zM35.7 93.6h.7v.7h-.7zM40.2 63.3h.7v.7h-.7zM86.0 43.2h.7v.7h-.7zM90.2 47.4h.7v.7h-.7zM73.3 40.5h.7v.7h-.7zM82.7 42.2h.7v.7h-.7zM90.9 30.6h.7v.7h-.7zM83.9 46.3h.7v.7h-.7zM73.6 71.3h.7v.7h-.7zM69.6 51.8h.7v.7h-.7zM98.8 40.0h.7v.7h-.7zM91.4 40.2h.7v.7h-.7zM73.8 68.7h.7v.7h-.7zM76.5 45.3h.7v.7h-.7zM51.5 65.7h.7v.7h-.7zM94.7 56.6h.7v.7h-.7zM88.4 42.1h.7v.7h-.7zM93.2 49.5h.7v.7h-.7zM48.4 75.7h.7v.7h-.7zM87.8 45.9h.7v.7h-.7zM96.2 43.8h.7v.7h-.7zM88.4 36.3h.7v.7h-.7zM74.9 44.4h.7v.7h-.7zM43.2 83.7h.7v.7h-.7zM74.0 50.2h.7v.7h-.7zM46.9 67.1h.7v.7h-.7zM77.2 55.9h.7v.7h-.7zM33.2 85.9h.7v.7h-.7zM31.2 74.6h.7v.7h-.7zM90.7 31.7h.7v.7h-.7zM47.7 85.9h.7v.7h-.7zM100.8 58.3h.7v.7h-.7zM99.0 56.8h.7v.7h-.7zM85.8 37.6h.7v.7h-.7zM44.6 72.7h.7v.7h-.7zM64.2 47.9h.7v.7h-.7zM47.5 47.8h.7v.7h-.7zM82.2 31.6h.7v.7h-.7zM99.6 54.4h.7v.7h-.7zM98.2 37.9h.7v.7h-.7zM41.5 68.9h.7v.7h-.7zM62.7 52.7h.7v.7h-.7zM91.6 45.5h.7v.7h-.7zM98.8 31.5h.7v.7h-.7zM78.1 34.6h.7v.7h-.7zM100.4 50.4h.7v.7h-.7zM85.5 54.3h.7v.7h-.7zM100.3 43.0h.7v.7h-.7zM99.6 53.3h.7v.7h-.7zM87.0 37.3h.7v.7h-.7zM44.8 81.5h.7v.7h-.7zM79.0 42.9h.7v.7h-.7zM41.4 78.3h.7v.7h-.7zM53.3 70.2h.7v.7h-.7zM58.3 62.6h.7v.7h-.7zM92.5 51.7h.7v.7h-.7zM30.3 74.0h.7v.7h-.7zM43.7 67.5h.7v.7h-.7zM28.5 89.2h.7v.7h-.7zM94.0 53.0h.7v.7h-.7zM68.0 45.2h.7v.7h-.7zM58.3 43.2h.7v.7h-.7zM95.3 47.2h.7v.7h-.7zM24.2 90.5h.7v.7h-.7zM49.7 65.8h.7v.7h-.7zM74.2 35.7h.7v.7h-.7zM50.7 67.5h.7v.7h-.7zM43.7 69.8h.7v.7h-.7zM78.0 41.1h.7v.7h-.7zM95.3 48.8h.7v.7h-.7zM97.0 56.3h.7v.7h-.7zM101.4 56.0h.7v.7h-.7zM95.0 43.5h.7v.7h-.7zM84.4 51.8h.7v.7h-.7zM96.5 44.7h.7v.7h-.7zM87.7 43.2h.7v.7h-.7zM99.6 31.4h.7v.7h-.7zM43.3 96.8h.7v.7h-.7zM62.0 58.3h.7v.7h-.7zM103.8 36.2h.7v.7h-.7zM93.8 52.8h.7v.7h-.7zM85.6 51.9h.7v.7h-.7zM85.9 36.7h.7v.7h-.7zM90.2 45.2h.7v.7h-.7zM38.6 97.8h.7v.7h-.7zM100.1 56.4h.7v.7h-.7zM95.5 44.8h.7v.7h-.7zM101.5 43.5h.7v.7h-.7zM42.5 66.0h.7v.7h-.7zM31.9 60.7h.7v.7h-.7zM101.3 44.4h.7v.7h-.7zM93.2 44.2h.7v.7h-.7zM37.5 76.2h.7v.7h-.7zM101.1 34.0h.7v.7h-.7zM36.2 67.8h.7v.7h-.7zM51.2 63.4h.7v.7h-.7zM101.3 35.7h.7v.7h-.7zM92.3 53.9h.7v.7h-.7zM40.2 90.1h.7v.7h-.7zM68.9 86.6h.7v.7h-.7zM94.6 43.3h.7v.7h-.7zM90.8 45.0h.7v.7h-.7zM62.7 55.1h.7v.7h-.7zM86.3 40.8h.7v.7h-.7zM40.7 75.8h.7v.7h-.7zM82.6 43.1h.7v.7h-.7zM71.7 33.3h.7v.7h-.7zM89.7 39.5h.7v.7h-.7zM64.7 52.5h.7v.7h-.7zM67.7 93.4h.7v.7h-.7zM18.8 87.8h.7v.7h-.7zM48.9 71.0h.7v.7h-.7zM44.1 66.0h.7v.7h-.7zM76.8 44.3h.7v.7h-.7zM43.8 84.9h.7v.7h-.7zM61.6 53.3h.7v.7h-.7zM80.7 55.3h.7v.7h-.7zM46.7 68.7h.7v.7h-.7zM85.7 35.7h.7v.7h-.7zM67.6 58.1h.7v.7h-.7zM83.4 34.7h.7v.7h-.7zM91.5 33.6h.7v.7h-.7zM88.6 57.9h.7v.7h-.7zM95.6 34.4h.7v.7h-.7zM69.2 49.4h.7v.7h-.7zM103.1 41.8h.7v.7h-.7zM116.4 10.4h.7v.7h-.7zM87.0 53.9h.7v.7h-.7zM39.2 79.8h.7v.7h-.7zM80.1 40.2h.7v.7h-.7zM28.9 98.3h.7v.7h-.7zM83.2 32.9h.7v.7h-.7zM102.9 49.5h.7v.7h-.7zM87.8 43.6h.7v.7h-.7zM37.5 81.7h.7v.7h-.7zM89.5 52.3h.7v.7h-.7zM30.7 75.7h.7v.7h-.7zM100.5 50.8h.7v.7h-.7zM95.5 52.7h.7v.7h-.7zM96.3 31.9h.7v.7h-.7zM42.5 55.8h.7v.7h-.7zM103.3 41.4h.7v.7h-.7zM95.6 41.2h.7v.7h-.7zM89.3 40.6h.7v.7h-.7zM100.4 30.0h.7v.7h-.7zM32.4 78.1h.7v.7h-.7zM113.6 38.8h.7v.7h-.7zM41.9 96.6h.7v.7h-.7zM94.1 36.6h.7v.7h-.7zM20.7 81.4h.7v.7h-.7zM36.8 67.0h.7v.7h-.7zM64.9 39.8h.7v.7h-.7zM98.4 44.3h.7v.7h-.7zM33.3 90.4h.7v.7h-.7zM86.6 41.0h.7v.7h-.7zM90.3 36.0h.7v.7h-.7zM46.0 72.2h.7v.7h-.7zM90.8 44.1h.7v.7h-.7zM53.0 78.4h.7v.7h-.7zM102.1 55.7h.7v.7h-.7zM92.1 53.7h.7v.7h-.7zM97.6 43.2h.7v.7h-.7zM98.9 52.9h.7v.7h-.7zM90.4 36.2h.7v.7h-.7zM95.8 42.8h.7v.7h-.7zM71.2 36.2h.7v.7h-.7zM94.1 53.9h.7v.7h-.7zM32.1 92.4h.7v.7h-.7zM62.2 24.0h.7v.7h-.7zM100.7 28.9h.7v.7h-.7zM45.7 63.2h.7v.7h-.7zM36.7 60.8h.7v.7h-.7zM96.5 52.9h.7v.7h-.7zM88.6 28.8h.7v.7h-.7zM89.0 33.2h.7v.7h-.7zM87.6 49.6h.7v.7h-.7zM71.2 50.6h.7v.7h-.7zM59.6 45.8h.7v.7h-.7zM23.4 88.6h.7v.7h-.7zM84.8 33.7h.7v.7h-.7zM100.7 36.0h.7v.7h-.7zM83.3 43.6h.7v.7h-.7zM94.6 35.7h.7v.7h-.7zM31.1 86.6h.7v.7h-.7zM93.7 31.6h.7v.7h-.7zM78.3 32.8h.7v.7h-.7zM49.8 56.0h.7v.7h-.7zM103.3 38.2h.7v.7h-.7zM68.1 38.0h.7v.7h-.7zM90.1 36.5h.7v.7h-.7zM79.9 43.7h.7v.7h-.7zM30.7 64.7h.7v.7h-.7zM100.3 51.4h.7v.7h-.7zM44.2 94.4h.7v.7h-.7zM53.6 35.9h.7v.7h-.7zM24.9 67.3h.7v.7h-.7zM21.9 88.7h.7v.7h-.7zM72.9 23.5h.7v.7h-.7zM63.5 67.5h.7v.7h-.7zM33.7 82.9h.7v.7h-.7zM81.5 32.8h.7v.7h-.7zM36.3 61.6h.7v.7h-.7zM99.6 49.9h.7v.7h-.7zM95.3 53.2h.7v.7h-.7zM101.5 51.7h.7v.7h-.7zM89.3 54.7h.7v.7h-.7zM110.0 49.6h.7v.7h-.7zM86.8 35.9h.7v.7h-.7zM22.9 94.3h.7v.7h-.7zM38.7 71.8h.7v.7h-.7zM48.5 68.6h.7v.7h-.7zM69.3 50.8h.7v.7h-.7zM60.5 45.4h.7v.7h-.7zM41.5 61.9h.7v.7h-.7zM90.6 40.8h.7v.7h-.7zM59.3 55.6h.7v.7h-.7zM99.2 44.9h.7v.7h-.7zM39.5 82.9h.7v.7h-.7zM104.0 39.3h.7v.7h-.7zM22.5 80.1h.7v.7h-.7zM30.5 56.3h.7v.7h-.7zM34.8 64.1h.7v.7h-.7zM75.2 65.7h.7v.7h-.7zM55.2 56.9h.7v.7h-.7zM55.3 62.0h.7v.7h-.7zM90.4 43.1h.7v.7h-.7zM115.2 28.6h.7v.7h-.7zM94.4 33.4h.7v.7h-.7zM85.1 49.9h.7v.7h-.7zM76.9 26.8h.7v.7h-.7zM42.4 46.6h.7v.7h-.7zM105.6 83.3h.7v.7h-.7zM101.0 44.7h.7v.7h-.7zM92.7 32.7h.7v.7h-.7zM55.0 73.9h.7v.7h-.7zM102.8 57.1h.7v.7h-.7zM88.3 49.9h.7v.7h-.7zM93.9 48.8h.7v.7h-.7zM78.4 45.4h.7v.7h-.7zM95.9 52.2h.7v.7h-.7zM83.8 41.9h.7v.7h-.7zM45.2 80.5h.7v.7h-.7zM90.7 48.2h.7v.7h-.7zM87.6 44.3h.7v.7h-.7zM99.3 45.4h.7v.7h-.7zM46.8 87.7h.7v.7h-.7zM89.5 36.3h.7v.7h-.7zM22.9 78.2h.7v.7h-.7zM95.7 48.0h.7v.7h-.7zM102.0 34.6h.7v.7h-.7zM85.0 41.0h.7v.7h-.7zM56.1 61.8h.7v.7h-.7zM30.5 69.3h.7v.7h-.7zM22.2 59.4h.7v.7h-.7zM93.9 37.0h.7v.7h-.7zM80.8 36.4h.7v.7h-.7zM82.4 30.1h.7v.7h-.7zM81.1 38.0h.7v.7h-.7zM96.2 43.8h.7v.7h-.7zM32.9 85.0h.7v.7h-.7zM97.8 31.8h.7v.7h-.7zM71.9 39.3h.7v.7h-.7zM37.1 92.4h.7v.7h-.7zM91.8 43.8h.7v.7h-.7zM96.5 43.8h.7v.7h-.7zM93.7 37.4h.7v.7h-.7zM88.4 34.4h.7v.7h-.7zM67.6 38.4h.7v.7h-.7zM94.5 56.0h.7v.7h-.7zM49.5 82.4h.7v.7h-.7zM84.8 33.8h.7v.7h-.7zM52.7 59.5h.7v.7h-.7zM48.4 49.0h.7v.7h-.7zM95.2 48.5h.7v.7h-.7zM91.5 47.0h.7v.7h-.7zM90.1 39.1h.7v.7h-.7zM38.1 54.1h.7v.7h-.7zM37.6 82.2h.7v.7h-.7zM36.8 93.2h.7v.7h-.7zM24.0 72.4h.7v.7h-.7zM97.7 45.9h.7v.7h-.7zM85.0 38.4h.7v.7h-.7zM34.5 79.9h.7v.7h-.7zM23.7 70.0h.7v.7h-.7zM99.6 47.1h.7v.7h-.7zM88.5 46.1h.7v.7h-.7zM76.7 34.0h.7v.7h-.7zM87.4 41.3h.7v.7h-.7zM92.5 45.9h.7v.7h-.7zM76.4 38.2h.7v.7h-.7zM35.2 69.2h.7v.7h-.7zM95.7 54.0h.7v.7h-.7zM94.7 47.8h.7v.7h-.7zM29.6 67.6h.7v.7h-.7zM64.8 37.6h.7v.7h-.7zM61.1 68.1h.7v.7h-.7zM49.3 73.2h.7v.7h-.7zM47.1 76.1h.7v.7h-.7zM58.8 45.6h.7v.7h-.7zM72.1 44.0h.7v.7h-.7zM96.6 31.8h.7v.7h-.7zM33.7 37.5h.7v.7h-.7zM80.4 35.9h.7v.7h-.7zM43.3 88.3h.7v.7h-.7zM87.7 44.1h.7v.7h-.7zM81.0 75.3h.7v.7h-.7zM66.2 51.6h.7v.7h-.7zM31.1 76.2h.7v.7h-.7zM88.2 54.8h.7v.7h-.7zM33.2 79.8h.7v.7h-.7zM96.3 40.1h.7v.7h-.7zM87.9 51.0h.7v.7h-.7zM96.9 43.1h.7v.7h-.7zM91.7 49.1h.7v.7h-.7zM74.4 43.3h.7v.7h-.7zM94.7 30.2h.7v.7h-.7zM71.0 57.6h.7v.7h-.7zM45.4 77.5h.7v.7h-.7zM63.3 57.3h.7v.7h-.7zM98.9 56.9h.7v.7h-.7zM45.4 71.9h.7v.7h-.7zM91.7 35.3h.7v.7h-.7zM95.1 40.5h.7v.7h-.7zM83.3 36.2h.7v.7h-.7zM100.7 29.7h.7v.7h-.7zM98.6 55.1h.7v.7h-.7zM51.2 68.9h.7v.7h-.7zM78.6 61.9h.7v.7h-.7zM84.1 43.0h.7v.7h-.7zM35.0 76.9h.7v.7h-.7zM72.3 54.1h.7v.7h-.7zM96.1 35.3h.7v.7h-.7zM89.8 58.4h.7v.7h-.7zM75.7 35.1h.7v.7h-.7zM82.8 45.4h.7v.7h-.7zM91.3 33.6h.7v.7h-.7zM93.2 50.9h.7v.7h-.7zM49.5 74.7h.7v.7h-.7zM62.4 44.3h.7v.7h-.7zM56.7 55.4h.7v.7h-.7zM36.3 63.4h.7v.7h-.7zM74.4 63.6h.7v.7h-.7zM89.5 40.6h.7v.7h-.7zM42.4 75.0h.7v.7h-.7zM32.1 66.4h.7v.7h-.7zM54.4 75.4h.7v.7h-.7zM74.2 48.7h.7v.7h-.7zM101.3 35.9h.7v.7h-.7zM79.0 54.1h.7v.7h-.7zM97.7 54.8h.7v.7h-.7zM94.1 33.9h.7v.7h-.7zM97.8 57.3h.7v.7h-.7zM36.5 68.0h.7v.7h-.7zM45.2 82.4h.7v.7h-.7zM39.8 68.0h.7v.7h-.7zM87.7 29.1h.7v.7h-.7zM100.4 30.2h.7v.7h-.7zM94.4 51.2h.7v.7h-.7zM43.2 82.9h.7v.7h-.7zM97.6 29.3h.7v.7h-.7zM90.8 32.8h.7v.7h-.7zM101.1 33.9h.7v.7h-.7zM48.3 58.3h.7v.7h-.7zM99.0 43.9h.7v.7h-.7zM91.0 32.3h.7v.7h-.7zM99.3 34.7h.7v.7h-.7zM88.3 29.3h.7v.7h-.7zM72.0 42.2h.7v.7h-.7zM71.2 51.3h.7v.7h-.7zM99.1 30.8h.7v.7h-.7zM63.7 67.3h.7v.7h-.7zM70.3 64.3h.7v.7h-.7zM91.2 45.3h.7v.7h-.7zM33.9 60.8h.7v.7h-.7zM40.4 76.3h.7v.7h-.7zM76.6 42.8h.7v.7h-.7zM43.4 88.3h.7v.7h-.7zM67.4 47.3h.7v.7h-.7zM95.6 29.8h.7v.7h-.7zM55.7 71.2h.7v.7h-.7zM59.1 59.6h.7v.7h-.7zM104.7 85.2h.7v.7h-.7zM90.5 57.2h.7v.7h-.7zM82.2 41.9h.7v.7h-.7zM69.0 31.3h.7v.7h-.7zM93.1 33.8h.7v.7h-.7zM101.7 53.0h.7v.7h-.7zM78.0 52.1h.7v.7h-.7zM46.7 56.0h.7v.7h-.7zM60.0 53.7h.7v.7h-.7zM21.0 77.4h.7v.7h-.7zM84.8 49.2h.7v.7h-.7zM90.7 47.9h.7v.7h-.7zM41.8 75.5h.7v.7h-.7zM65.5 95.9h.7v.7h-.7zM18.9 43.9h.7v.7h-.7zM55.6 72.3h.7v.7h-.7zM83.6 43.4h.7v.7h-.7zM36.2 56.8h.7v.7h-.7zM40.3 77.2h.7v.7h-.7zM96.7 29.6h.7v.7h-.7zM23.0 95.7h.7v.7h-.7zM87.0 30.3h.7v.7h-.7zM88.4 40.6h.7v.7h-.7zM77.1 40.8h.7v.7h-.7zM48.7 72.4h.7v.7h-.7zM96.8 39.6h.7v.7h-.7zM77.2 32.2h.7v.7h-.7zM26.9 82.3h.7v.7h-.7zM57.8 63.7h.7v.7h-.7zM63.1 54.0h.7v.7h-.7zM99.0 37.8h.7v.7h-.7zM60.7 55.6h.7v.7h-.7zM58.2 50.2h.7v.7h-.7zM64.6 55.7h.7v.7h-.7zM37.1 74.7h.7v.7h-.7zM48.8 85.8h.7v.7h-.7zM103.7 34.3h.7v.7h-.7zM92.2 33.4h.7v.7h-.7zM79.8 60.0h.7v.7h-.7zM79.4 32.5h.7v.7h-.7zM37.7 85.1h.7v.7h-.7zM49.4 66.1h.7v.7h-.7zM33.8 82.5h.7v.7h-.7zM85.2 29.9h.7v.7h-.7zM95.3 41.8h.7v.7h-.7zM98.1 33.3h.7v.7h-.7zM97.0 35.5h.7v.7h-.7zM61.0 44.3h.7v.7h-.7zM100.8 42.6h.7v.7h-.7zM36.5 79.3h.7v.7h-.7zM96.1 50.1h.7v.7h-.7zM29.5 55.0h.7v.7h-.7zM40.2 80.7h.7v.7h-.7zM20.0 76.1h.7v.7h-.7zM90.7 29.5h.7v.7h-.7zM46.2 34.9h.7v.7h-.7zM21.6 78.6h.7v.7h-.7zM37.0 77.0h.7v.7h-.7zM58.7 40.4h.7v.7h-.7zM96.6 53.5h.7v.7h-.7zM87.4 40.4h.7v.7h-.7zM77.4 47.4h.7v.7h-.7zM100.8 38.9h.7v.7h-.7zM108.2 38.6h.7v.7h-.7zM61.9 55.2h.7v.7h-.7zM45.7 53.6h.7v.7h-.7zM35.2 94.5h.7v.7h-.7zM96.9 43.5h.7v.7h-.7zM85.4 28.7h.7v.7h-.7zM101.6 41.6h.7v.7h-.7zM96.0 38.4h.7v.7h-.7zM27.5 80.9h.7v.7h-.7zM100.0 30.2h.7v.7h-.7zM65.4 44.7h.7v.7h-.7z" fill="#2a2a2a" fill-opacity="0.38"/>
<path d="M97.7 39.8h.7v.7h-.7zM98.7 40.9h.7v.7h-.7zM84.3 34.7h.7v.7h-.7zM66.1 36.8h.7v.7h-.7zM85.5 37.8h.7v.7h-.7zM27.7 83.6h.7v.7h-.7zM55.9 69.6h.7v.7h-.7zM99.8 41.7h.7v.7h-.7zM102.4 35.6h.7v.7h-.7zM22.0 77.3h.7v.7h-.7zM84.0 46.1h.7v.7h-.7zM88.8 44.9h.7v.7h-.7zM87.7 53.3h.7v.7h-.7zM34.5 71.0h.7v.7h-.7zM94.6 45.0h.7v.7h-.7zM52.8 94.1h.7v.7h-.7zM75.7 38.8h.7v.7h-.7zM40.1 64.5h.7v.7h-.7zM86.0 53.8h.7v.7h-.7zM46.4 73.1h.7v.7h-.7zM79.3 37.0h.7v.7h-.7zM37.8 65.1h.7v.7h-.7zM88.9 47.4h.7v.7h-.7zM84.1 43.1h.7v.7h-.7zM85.5 56.9h.7v.7h-.7zM99.2 41.8h.7v.7h-.7zM69.9 32.6h.7v.7h-.7zM76.5 40.5h.7v.7h-.7zM32.3 70.1h.7v.7h-.7zM99.4 48.5h.7v.7h-.7zM92.7 41.3h.7v.7h-.7zM51.5 35.2h.7v.7h-.7zM99.9 45.1h.7v.7h-.7zM34.7 84.0h.7v.7h-.7zM62.9 56.5h.7v.7h-.7zM75.7 46.7h.7v.7h-.7zM34.1 83.9h.7v.7h-.7zM43.4 87.6h.7v.7h-.7zM93.3 45.9h.7v.7h-.7zM70.6 55.6h.7v.7h-.7zM67.5 34.1h.7v.7h-.7zM97.7 43.2h.7v.7h-.7zM93.5 57.5h.7v.7h-.7zM101.0 31.1h.7v.7h-.7zM34.6 82.4h.7v.7h-.7zM100.0 44.4h.7v.7h-.7zM99.2 46.6h.7v.7h-.7zM46.6 75.1h.7v.7h-.7zM47.2 86.0h.7v.7h-.7zM93.3 42.0h.7v.7h-.7zM99.9 58.7h.7v.7h-.7zM47.1 51.8h.7v.7h-.7zM53.4 62.0h.7v.7h-.7zM33.9 27.2h.7v.7h-.7zM56.0 59.7h.7v.7h-.7zM71.0 50.6h.7v.7h-.7zM64.6 48.3h.7v.7h-.7zM36.3 66.3h.7v.7h-.7zM98.3 30.9h.7v.7h-.7zM68.6 33.1h.7v.7h-.7zM87.2 29.5h.7v.7h-.7zM42.0 70.0h.7v.7h-.7zM32.3 85.4h.7v.7h-.7zM44.3 67.4h.7v.7h-.7zM73.1 34.1h.7v.7h-.7zM91.9 41.8h.7v.7h-.7zM62.8 45.5h.7v.7h-.7zM92.6 53.5h.7v.7h-.7zM93.7 31.4h.7v.7h-.7zM97.7 44.4h.7v.7h-.7zM89.3 29.7h.7v.7h-.7zM88.8 40.0h.7v.7h-.7zM59.8 60.8h.7v.7h-.7zM82.0 40.4h.7v.7h-.7zM83.8 36.5h.7v.7h-.7zM38.6 77.4h.7v.7h-.7zM91.9 57.9h.7v.7h-.7zM36.1 81.1h.7v.7h-.7zM89.7 58.9h.7v.7h-.7zM48.7 85.5h.7v.7h-.7zM94.5 34.1h.7v.7h-.7zM25.3 79.4h.7v.7h-.7zM99.4 34.1h.7v.7h-.7zM47.4 71.8h.7v.7h-.7zM42.3 64.9h.7v.7h-.7zM63.7 49.0h.7v.7h-.7zM30.1 95.4h.7v.7h-.7zM52.4 76.4h.7v.7h-.7zM37.7 87.0h.7v.7h-.7zM40.0 71.0h.7v.7h-.7zM103.5 35.2h.7v.7h-.7zM87.3 46.4h.7v.7h-.7zM42.8 73.7h.7v.7h-.7zM98.6 51.5h.7v.7h-.7zM57.0 72.1h.7v.7h-.7zM36.1 81.3h.7v.7h-.7zM45.4 54.3h.7v.7h-.7zM94.8 55.5h.7v.7h-.7zM75.2 59.6h.7v.7h-.7zM101.1 34.3h.7v.7h-.7zM72.7 21.8h.7v.7h-.7zM38.8 77.4h.7v.7h-.7zM38.4 77.8h.7v.7h-.7zM101.9 31.7h.7v.7h-.7zM92.5 29.6h.7v.7h-.7zM24.6 64.1h.7v.7h-.7zM87.5 43.2h.7v.7h-.7zM50.9 72.2h.7v.7h-.7zM84.2 34.6h.7v.7h-.7zM59.2 56.0h.7v.7h-.7zM99.5 32.0h.7v.7h-.7zM85.6 40.2h.7v.7h-.7zM23.6 73.6h.7v.7h-.7zM98.3 43.5h.7v.7h-.7zM76.8 34.1h.7v.7h-.7zM88.5 34.3h.7v.7h-.7zM56.8 13.9h.7v.7h-.7zM62.6 57.1h.7v.7h-.7zM35.4 78.9h.7v.7h-.7zM61.0 63.4h.7v.7h-.7zM58.5 71.0h.7v.7h-.7zM86.5 46.8h.7v.7h-.7zM82.9 81.6h.7v.7h-.7zM96.1 39.5h.7v.7h-.7zM25.6 84.4h.7v.7h-.7zM78.8 40.2h.7v.7h-.7zM88.9 37.5h.7v.7h-.7zM57.7 64.1h.7v.7h-.7zM88.2 31.0h.7v.7h-.7zM32.8 78.5h.7v.7h-.7zM23.3 77.0h.7v.7h-.7zM101.5 33.1h.7v.7h-.7zM69.4 57.4h.7v.7h-.7zM50.0 89.2h.7v.7h-.7zM68.2 42.0h.7v.7h-.7zM67.3 79.3h.7v.7h-.7zM82.9 35.9h.7v.7h-.7zM108.2 70.4h.7v.7h-.7zM77.3 37.0h.7v.7h-.7zM53.7 71.7h.7v.7h-.7zM95.0 44.1h.7v.7h-.7zM94.1 37.8h.7v.7h-.7zM98.9 37.9h.7v.7h-.7zM97.4 51.1h.7v.7h-.7zM66.4 37.1h.7v.7h-.7zM82.2 34.1h.7v.7h-.7zM36.2 88.1h.7v.7h-.7zM65.7 43.3h.7v.7h-.7zM57.7 30.1h.7v.7h-.7zM85.9 31.3h.7v.7h-.7zM92.0 48.1h.7v.7h-.7zM36.6 59.1h.7v.7h-.7zM94.2 35.9h.7v.7h-.7zM55.0 67.4h.7v.7h-.7zM75.8 53.6h.7v.7h-.7zM100.6 32.2h.7v.7h-.7zM66.4 57.0h.7v.7h-.7zM57.9 68.0h.7v.7h-.7zM89.4 44.0h.7v.7h-.7zM51.7 65.6h.7v.7h-.7zM63.0 52.1h.7v.7h-.7zM85.3 37.6h.7v.7h-.7zM50.0 73.2h.7v.7h-.7zM61.5 67.6h.7v.7h-.7zM18.3 76.5h.7v.7h-.7zM40.9 77.4h.7v.7h-.7zM57.4 77.6h.7v.7h-.7zM80.4 34.0h.7v.7h-.7zM48.6 77.9h.7v.7h-.7zM58.7 41.7h.7v.7h-.7zM36.4 76.7h.7v.7h-.7zM74.2 46.4h.7v.7h-.7zM98.7 31.3h.7v.7h-.7zM59.9 71.5h.7v.7h-.7zM97.3 36.9h.7v.7h-.7zM49.3 74.9h.7v.7h-.7zM79.4 55.0h.7v.7h-.7zM41.7 64.7h.7v.7h-.7zM88.3 44.1h.7v.7h-.7zM73.0 60.9h.7v.7h-.7zM83.4 33.4h.7v.7h-.7zM59.4 55.2h.7v.7h-.7zM92.9 45.5h.7v.7h-.7zM29.6 36.6h.7v.7h-.7zM82.0 36.1h.7v.7h-.7zM39.2 73.9h.7v.7h-.7zM25.7 78.0h.7v.7h-.7zM65.6 56.9h.7v.7h-.7zM93.1 55.9h.7v.7h-.7zM68.5 51.6h.7v.7h-.7zM33.4 71.4h.7v.7h-.7zM59.2 71.2h.7v.7h-.7zM93.1 35.4h.7v.7h-.7zM62.3 68.2h.7v.7h-.7zM45.1 75.7h.7v.7h-.7zM95.1 26.4h.7v.7h-.7zM96.1 52.6h.7v.7h-.7zM107.9 85.3h.7v.7h-.7zM36.8 82.8h.7v.7h-.7zM40.4 73.0h.7v.7h-.7zM80.6 42.6h.7v.7h-.7zM80.3 30.2h.7v.7h-.7zM56.7 54.0h.7v.7h-.7zM86.0 91.2h.7v.7h-.7zM55.7 81.6h.7v.7h-.7zM38.5 65.6h.7v.7h-.7zM62.8 57.4h.7v.7h-.7zM71.3 55.0h.7v.7h-.7zM103.6 30.7h.7v.7h-.7zM89.3 51.7h.7v.7h-.7zM93.1 29.9h.7v.7h-.7zM102.7 44.4h.7v.7h-.7zM19.8 76.8h.7v.7h-.7zM85.9 54.0h.7v.7h-.7zM101.9 47.2h.7v.7h-.7zM80.1 42.3h.7v.7h-.7zM101.0 36.8h.7v.7h-.7zM84.7 34.8h.7v.7h-.7zM92.9 50.3h.7v.7h-.7zM80.9 36.3h.7v.7h-.7zM64.3 50.1h.7v.7h-.7zM101.5 37.3h.7v.7h-.7zM102.7 53.7h.7v.7h-.7zM21.7 62.3h.7v.7h-.7zM91.6 43.4h.7v.7h-.7zM93.4 52.6h.7v.7h-.7zM37.1 67.5h.7v.7h-.7zM86.7 34.4h.7v.7h-.7zM18.7 93.3h.7v.7h-.7zM86.0 41.0h.7v.7h-.7zM35.1 42.1h.7v.7h-.7zM56.5 43.0h.7v.7h-.7zM88.0 33.8h.7v.7h-.7zM56.9 47.3h.7v.7h-.7zM24.4 73.9h.7v.7h-.7zM97.5 37.8h.7v.7h-.7zM75.8 42.0h.7v.7h-.7zM69.5 56.4h.7v.7h-.7zM31.7 38.3h.7v.7h-.7zM53.2 88.3h.7v.7h-.7zM99.1 33.3h.7v.7h-.7zM31.4 72.1h.7v.7h-.7zM95.3 43.5h.7v.7h-.7zM100.1 46.1h.7v.7h-.7zM48.0 73.9h.7v.7h-.7zM28.2 77.7h.7v.7h-.7zM99.3 70.7h.7v.7h-.7zM59.8 64.2h.7v.7h-.7zM26.5 73.5h.7v.7h-.7zM27.7 84.1h.7v.7h-.7zM101.0 34.0h.7v.7h-.7zM94.4 46.9h.7v.7h-.7zM80.1 79.4h.7v.7h-.7zM95.1 29.0h.7v.7h-.7zM88.2 35.2h.7v.7h-.7zM31.2 89.0h.7v.7h-.7zM24.1 67.8h.7v.7h-.7zM62.3 45.3h.7v.7h-.7zM95.8 57.6h.7v.7h-.7zM89.6 30.1h.7v.7h-.7zM102.5 43.3h.7v.7h-.7zM103.6 38.2h.7v.7h-.7zM51.4 69.3h.7v.7h-.7zM94.9 36.1h.7v.7h-.7zM93.1 51.1h.7v.7h-.7zM103.0 45.8h.7v.7h-.7zM99.8 47.8h.7v.7h-.7zM35.9 84.6h.7v.7h-.7zM37.2 67.3h.7v.7h-.7zM102.8 49.9h.7v.7h-.7zM73.2 40.5h.7v.7h-.7zM78.9 53.2h.7v.7h-.7zM87.1 38.8h.7v.7h-.7zM79.6 41.6h.7v.7h-.7zM25.6 82.2h.7v.7h-.7zM93.7 52.0h.7v.7h-.7zM75.9 47.3h.7v.7h-.7zM94.8 49.4h.7v.7h-.7zM35.5 73.4h.7v.7h-.7zM23.6 87.3h.7v.7h-.7zM76.5 46.4h.7v.7h-.7zM27.6 83.8h.7v.7h-.7zM87.2 33.6h.7v.7h-.7zM71.7 33.3h.7v.7h-.7zM48.8 78.6h.7v.7h-.7zM97.3 45.5h.7v.7h-.7zM91.9 44.7h.7v.7h-.7zM103.7 44.0h.7v.7h-.7zM64.1 53.0h.7v.7h-.7zM101.0 43.9h.7v.7h-.7zM72.2 30.6h.7v.7h-.7zM61.2 91.1h.7v.7h-.7zM93.4 46.6h.7v.7h-.7zM76.6 32.1h.7v.7h-.7zM99.6 57.4h.7v.7h-.7zM28.8 77.7h.7v.7h-.7zM42.1 71.6h.7v.7h-.7zM94.7 43.4h.7v.7h-.7zM88.3 45.8h.7v.7h-.7zM75.9 39.4h.7v.7h-.7zM92.7 39.4h.7v.7h-.7zM38.0 76.4h.7v.7h-.7zM87.5 37.0h.7v.7h-.7zM99.9 48.1h.7v.7h-.7zM51.9 57.2h.7v.7h-.7zM59.1 73.5h.7v.7h-.7zM96.2 40.5h.7v.7h-.7zM47.2 65.1h.7v.7h-.7zM100.6 40.2h.7v.7h-.7zM76.0 38.7h.7v.7h-.7zM55.7 72.1h.7v.7h-.7zM79.5 53.7h.7v.7h-.7zM56.8 79.3h.7v.7h-.7zM37.6 71.6h.7v.7h-.7zM46.7 69.2h.7v.7h-.7zM102.5 36.6h.7v.7h-.7zM82.7 37.9h.7v.7h-.7zM43.9 61.1h.7v.7h-.7zM95.3 31.9h.7v.7h-.7zM24.7 73.5h.7v.7h-.7zM104.0 34.5h.7v.7h-.7zM100.0 55.0h.7v.7h-.7zM48.6 54.7h.7v.7h-.7zM86.6 33.0h.7v.7h-.7zM63.6 43.2h.7v.7h-.7zM99.4 35.7h.7v.7h-.7zM30.7 84.8h.7v.7h-.7zM87.5 44.1h.7v.7h-.7zM33.0 74.4h.7v.7h-.7zM36.9 74.1h.7v.7h-.7zM99.1 33.6h.7v.7h-.7zM101.0 41.1h.7v.7h-.7zM71.7 36.7h.7v.7h-.7zM56.8 46.8h.7v.7h-.7zM92.0 45.8h.7v.7h-.7zM20.7 91.6h.7v.7h-.7zM42.1 52.3h.7v.7h-.7zM92.6 48.0h.7v.7h-.7zM95.6 30.2h.7v.7h-.7zM71.9 30.7h.7v.7h-.7zM96.2 46.2h.7v.7h-.7zM91.2 28.3h.7v.7h-.7zM96.0 40.3h.7v.7h-.7zM37.7 77.8h.7v.7h-.7zM86.7 40.9h.7v.7h-.7zM95.6 33.4h.7v.7h-.7zM89.7 43.4h.7v.7h-.7zM38.2 69.6h.7v.7h-.7zM96.9 35.1h.7v.7h-.7zM44.1 62.3h.7v.7h-.7zM33.5 89.6h.7v.7h-.7zM30.3 82.8h.7v.7h-.7zM97.8 57.7h.7v.7h-.7zM52.1 60.3h.7v.7h-.7zM20.6 79.1h.7v.7h-.7zM97.0 30.1h.7v.7h-.7zM25.2 84.4h.7v.7h-.7zM28.0 73.2h.7v.7h-.7zM18.8 93.3h.7v.7h-.7zM92.3 42.3h.7v.7h-.7zM73.8 45.5h.7v.7h-.7zM39.5 80.4h.7v.7h-.7zM103.4 31.8h.7v.7h-.7zM65.6 53.7h.7v.7h-.7zM18.9 89.5h.7v.7h-.7zM26.7 83.7h.7v.7h-.7zM71.4 48.5h.7v.7h-.7zM23.8 75.5h.7v.7h-.7zM40.7 76.1h.7v.7h-.7zM25.6 45.5h.7v.7h-.7zM89.9 33.5h.7v.7h-.7zM102.9 58.7h.7v.7h-.7zM75.6 38.4h.7v.7h-.7zM29.2 63.0h.7v.7h-.7zM94.2 47.3h.7v.7h-.7zM34.6 76.4h.7v.7h-.7zM51.1 19.0h.7v.7h-.7zM22.3 85.7h.7v.7h-.7zM90.5 33.2h.7v.7h-.7zM42.3 62.5h.7v.7h-.7zM50.5 53.6h.7v.7h-.7zM82.3 30.1h.7v.7h-.7zM98.2 45.5h.7v.7h-.7zM88.0 46.0h.7v.7h-.7zM100.5 28.8h.7v.7h-.7zM63.2 67.0h.7v.7h-.7zM75.9 31.7h.7v.7h-.7zM98.5 40.4h.7v.7h-.7zM110.9 56.3h.7v.7h-.7zM97.5 43.4h.7v.7h-.7zM77.4 32.0h.7v.7h-.7zM93.9 51.3h.7v.7h-.7zM56.0 68.2h.7v.7h-.7zM29.9 69.0h.7v.7h-.7zM60.7 41.2h.7v.7h-.7zM86.3 41.5h.7v.7h-.7zM35.6 65.4h.7v.7h-.7zM74.6 54.0h.7v.7h-.7zM95.2 58.8h.7v.7h-.7zM81.4 32.8h.7v.7h-.7zM90.3 32.6h.7v.7h-.7zM83.6 35.1h.7v.7h-.7zM92.5 47.0h.7v.7h-.7zM56.6 73.8h.7v.7h-.7zM79.9 44.5h.7v.7h-.7zM60.1 76.2h.7v.7h-.7zM45.3 65.0h.7v.7h-.7zM40.4 82.8h.7v.7h-.7zM38.4 54.7h.7v.7h-.7zM96.8 45.0h.7v.7h-.7zM93.6 34.2h.7v.7h-.7zM26.3 91.4h.7v.7h-.7zM41.9 68.3h.7v.7h-.7zM39.0 54.4h.7v.7h-.7zM96.7 49.4h.7v.7h-.7zM68.7 52.1h.7v.7h-.7zM75.5 35.6h.7v.7h-.7zM60.3 56.5h.7v.7h-.7zM93.0 44.0h.7v.7h-.7zM102.2 47.3h.7v.7h-.7zM67.4 33.4h.7v.7h-.7zM63.8 55.3h.7v.7h-.7zM75.5 29.7h.7v.7h-.7zM75.8 53.6h.7v.7h-.7zM45.4 77.5h.7v.7h-.7zM90.6 43.9h.7v.7h-.7zM82.9 37.2h.7v.7h-.7zM93.8 47.8h.7v.7h-.7zM96.7 43.6h.7v.7h-.7zM99.8 52.9h.7v.7h-.7zM33.1 89.9h.7v.7h-.7zM86.4 41.6h.7v.7h-.7zM93.5 48.2h.7v.7h-.7zM89.7 57.8h.7v.7h-.7zM100.6 29.0h.7v.7h-.7zM62.1 67.9h.7v.7h-.7zM63.3 57.0h.7v.7h-.7zM80.8 46.8h.7v.7h-.7zM45.3 97.1h.7v.7h-.7zM87.4 28.6h.7v.7h-.7zM99.4 46.4h.7v.7h-.7zM99.3 53.0h.7v.7h-.7zM91.0 44.5h.7v.7h-.7zM64.9 59.3h.7v.7h-.7zM92.9 29.8h.7v.7h-.7zM52.0 68.7h.7v.7h-.7zM49.5 72.4h.7v.7h-.7zM43.7 53.3h.7v.7h-.7zM79.6 67.5h.7v.7h-.7zM88.7 52.8h.7v.7h-.7zM27.0 76.6h.7v.7h-.7zM30.7 66.0h.7v.7h-.7zM71.5 60.5h.7v.7h-.7zM31.5 79.7h.7v.7h-.7zM45.7 78.6h.7v.7h-.7zM94.8 32.3h.7v.7h-.7zM78.9 53.9h.7v.7h-.7zM79.4 36.4h.7v.7h-.7zM91.7 44.8h.7v.7h-.7zM77.8 62.6h.7v.7h-.7zM71.0 30.7h.7v.7h-.7zM71.5 54.8h.7v.7h-.7zM101.4 31.8h.7v.7h-.7zM60.0 52.2h.7v.7h-.7zM96.7 57.9h.7v.7h-.7zM100.8 41.4h.7v.7h-.7zM87.2 52.9h.7v.7h-.7zM87.5 58.9h.7v.7h-.7zM74.3 56.9h.7v.7h-.7zM52.5 63.4h.7v.7h-.7zM68.7 57.3h.7v.7h-.7zM95.4 50.7h.7v.7h-.7zM55.5 58.8h.7v.7h-.7zM65.5 48.3h.7v.7h-.7zM29.6 71.4h.7v.7h-.7zM69.4 52.9h.7v.7h-.7zM74.3 60.8h.7v.7h-.7zM98.8 31.7h.7v.7h-.7zM40.8 90.1h.7v.7h-.7zM101.0 29.3h.7v.7h-.7zM98.9 52.0h.7v.7h-.7zM55.2 69.5h.7v.7h-.7zM95.2 35.4h.7v.7h-.7zM97.4 43.5h.7v.7h-.7zM91.2 36.5h.7v.7h-.7zM68.3 48.7h.7v.7h-.7zM70.9 38.9h.7v.7h-.7zM91.8 49.3h.7v.7h-.7zM87.7 35.3h.7v.7h-.7zM35.8 53.1h.7v.7h-.7zM94.7 30.1h.7v.7h-.7zM94.4 45.4h.7v.7h-.7zM94.3 31.6h.7v.7h-.7zM99.6 32.3h.7v.7h-.7zM93.6 40.7h.7v.7h-.7zM78.2 49.7h.7v.7h-.7zM100.3 33.2h.7v.7h-.7zM76.1 57.6h.7v.7h-.7zM101.0 40.1h.7v.7h-.7zM62.8 47.4h.7v.7h-.7zM35.8 63.4h.7v.7h-.7zM94.5 34.0h.7v.7h-.7zM52.9 70.0h.7v.7h-.7zM81.5 31.5h.7v.7h-.7zM103.8 31.4h.7v.7h-.7zM84.3 41.6h.7v.7h-.7zM88.0 37.1h.7v.7h-.7zM102.5 46.3h.7v.7h-.7zM82.7 51.1h.7v.7h-.7zM99.8 41.3h.7v.7h-.7zM29.0 85.5h.7v.7h-.7zM100.3 47.2h.7v.7h-.7zM68.0 48.9h.7v.7h-.7zM81.9 52.5h.7v.7h-.7zM43.1 76.5h.7v.7h-.7zM86.7 42.8h.7v.7h-.7zM84.6 40.2h.7v.7h-.7zM102.2 48.7h.7v.7h-.7zM96.8 37.2h.7v.7h-.7zM83.0 36.6h.7v.7h-.7zM23.2 72.4h.7v.7h-.7zM30.4 54.2h.7v.7h-.7zM101.9 36.1h.7v.7h-.7zM91.3 43.7h.7v.7h-.7zM102.9 45.7h.7v.7h-.7zM91.1 29.1h.7v.7h-.7zM38.8 52.7h.7v.7h-.7zM38.1 84.2h.7v.7h-.7zM87.3 46.8h.7v.7h-.7zM35.1 77.6h.7v.7h-.7zM40.8 75.3h.7v.7h-.7zM87.3 29.4h.7v.7h-.7zM69.5 57.3h.7v.7h-.7zM38.6 64.5h.7v.7h-.7zM100.4 33.0h.7v.7h-.7zM30.9 96.6h.7v.7h-.7zM78.7 42.9h.7v.7h-.7zM29.5 84.4h.7v.7h-.7zM78.9 49.5h.7v.7h-.7zM76.7 39.7h.7v.7h-.7zM21.6 80.4h.7v.7h-.7zM94.0 42.9h.7v.7h-.7zM85.2 40.1h.7v.7h-.7zM28.5 85.4h.7v.7h-.7zM54.7 58.3h.7v.7h-.7zM27.2 62.9h.7v.7h-.7zM60.6 55.1h.7v.7h-.7zM50.4 68.5h.7v.7h-.7zM50.0 56.7h.7v.7h-.7zM67.0 26.6h.7v.7h-.7zM99.9 46.5h.7v.7h-.7zM91.7 50.9h.7v.7h-.7zM101.8 44.4h.7v.7h-.7zM92.3 46.4h.7v.7h-.7zM86.2 54.0h.7v.7h-.7zM93.5 50.8h.7v.7h-.7zM64.5 46.8h.7v.7h-.7zM18.9 76.5h.7v.7h-.7zM84.8 30.7h.7v.7h-.7zM101.1 37.5h.7v.7h-.7zM97.5 50.5h.7v.7h-.7zM46.3 69.3h.7v.7h-.7zM88.6 43.9h.7v.7h-.7zM88.0 41.9h.7v.7h-.7zM97.9 31.5h.7v.7h-.7zM87.6 35.2h.7v.7h-.7zM100.0 44.5h.7v.7h-.7zM74.9 35.8h.7v.7h-.7zM97.5 43.9h.7v.7h-.7zM36.4 60.7h.7v.7h-.7zM88.4 40.0h.7v.7h-.7zM73.2 32.8h.7v.7h-.7zM53.3 57.0h.7v.7h-.7zM47.0 80.8h.7v.7h-.7zM103.9 40.3h.7v.7h-.7zM87.8 58.8h.7v.7h-.7zM45.4 85.8h.7v.7h-.7zM34.7 94.4h.7v.7h-.7zM100.4 45.4h.7v.7h-.7zM65.6 66.7h.7v.7h-.7zM98.0 55.1h.7v.7h-.7zM52.3 56.5h.7v.7h-.7zM55.6 89.8h.7v.7h-.7zM51.0 72.6h.7v.7h-.7zM50.3 75.0h.7v.7h-.7zM86.6 58.8h.7v.7h-.7zM36.5 78.0h.7v.7h-.7zM92.2 43.0h.7v.7h-.7zM72.7 40.2h.7v.7h-.7zM95.5 37.8h.7v.7h-.7zM44.2 66.5h.7v.7h-.7zM49.1 49.9h.7v.7h-.7zM95.2 44.8h.7v.7h-.7zM86.2 34.3h.7v.7h-.7zM82.9 36.1h.7v.7h-.7zM26.6 94.2h.7v.7h-.7zM75.3 53.2h.7v.7h-.7zM96.1 28.9h.7v.7h-.7zM101.2 44.4h.7v.7h-.7zM91.0 57.6h.7v.7h-.7zM89.0 29.4h.7v.7h-.7zM92.9 58.0h.7v.7h-.7zM94.2 54.1h.7v.7h-.7zM51.9 75.5h.7v.7h-.7zM33.1 71.1h.7v.7h-.7zM39.5 69.8h.7v.7h-.7zM98.2 34.3h.7v.7h-.7zM66.4 41.3h.7v.7h-.7zM34.7 63.7h.7v.7h-.7zM92.6 31.6h.7v.7h-.7zM92.0 37.5h.7v.7h-.7zM33.7 81.3h.7v.7h-.7zM97.2 34.6h.7v.7h-.7zM103.3 33.2h.7v.7h-.7zM83.3 41.9h.7v.7h-.7zM87.9 32.5h.7v.7h-.7zM97.8 35.4h.7v.7h-.7zM93.8 48.5h.7v.7h-.7zM35.7 73.1h.7v.7h-.7zM57.3 50.7h.7v.7h-.7zM97.8 36.4h.7v.7h-.7zM99.4 39.7h.7v.7h-.7zM92.3 55.6h.7v.7h-.7zM39.3 83.2h.7v.7h-.7zM101.1 45.4h.7v.7h-.7zM74.3 51.8h.7v.7h-.7zM96.8 36.5h.7v.7h-.7zM76.4 34.9h.7v.7h-.7zM42.3 84.3h.7v.7h-.7zM95.7 30.9h.7v.7h-.7zM102.0 56.8h.7v.7h-.7zM98.7 43.4h.7v.7h-.7zM74.8 29.1h.7v.7h-.7zM81.0 33.3h.7v.7h-.7zM91.3 41.6h.7v.7h-.7zM90.1 48.1h.7v.7h-.7zM57.7 62.0h.7v.7h-.7zM89.2 43.0h.7v.7h-.7zM96.6 42.6h.7v.7h-.7zM91.9 32.0h.7v.7h-.7zM77.2 33.1h.7v.7h-.7zM26.2 56.3h.7v.7h-.7zM102.8 42.6h.7v.7h-.7zM23.8 78.8h.7v.7h-.7zM89.7 57.0h.7v.7h-.7zM76.6 40.3h.7v.7h-.7zM23.0 75.8h.7v.7h-.7zM77.0 49.7h.7v.7h-.7zM77.2 32.7h.7v.7h-.7zM81.9 34.7h.7v.7h-.7zM24.7 91.0h.7v.7h-.7zM90.9 34.3h.7v.7h-.7zM65.2 49.5h.7v.7h-.7zM86.8 40.5h.7v.7h-.7zM102.0 41.6h.7v.7h-.7zM75.8 48.8h.7v.7h-.7zM62.6 47.9h.7v.7h-.7zM72.9 60.6h.7v.7h-.7zM82.5 59.0h.7v.7h-.7zM34.5 55.4h.7v.7h-.7zM61.3 56.4h.7v.7h-.7zM94.5 37.4h.7v.7h-.7zM32.2 83.6h.7v.7h-.7zM79.2 68.5h.7v.7h-.7zM36.5 66.0h.7v.7h-.7zM85.4 35.6h.7v.7h-.7zM94.3 37.1h.7v.7h-.7zM87.8 71.2h.7v.7h-.7zM85.0 42.1h.7v.7h-.7zM95.3 39.4h.7v.7h-.7zM33.1 90.7h.7v.7h-.7zM68.4 12.2h.7v.7h-.7zM98.9 47.7h.7v.7h-.7zM91.9 44.5h.7v.7h-.7zM98.1 58.3h.7v.7h-.7zM101.2 47.7h.7v.7h-.7zM75.1 35.2h.7v.7h-.7zM67.2 69.2h.7v.7h-.7zM46.1 85.0h.7v.7h-.7zM96.8 57.6h.7v.7h-.7zM45.8 80.7h.7v.7h-.7zM88.8 52.2h.7v.7h-.7zM73.4 30.6h.7v.7h-.7zM98.4 33.6h.7v.7h-.7zM102.7 55.3h.7v.7h-.7zM54.5 60.6h.7v.7h-.7zM100.5 57.4h.7v.7h-.7zM81.6 40.9h.7v.7h-.7zM58.8 27.1h.7v.7h-.7zM82.6 36.1h.7v.7h-.7zM86.2 30.3h.7v.7h-.7zM92.6 43.8h.7v.7h-.7zM62.2 47.8h.7v.7h-.7zM101.2 45.8h.7v.7h-.7zM49.9 65.2h.7v.7h-.7zM98.5 39.6h.7v.7h-.7zM90.3 34.5h.7v.7h-.7zM23.9 56.6h.7v.7h-.7zM46.2 72.5h.7v.7h-.7zM40.0 89.7h.7v.7h-.7zM81.4 45.1h.7v.7h-.7zM28.4 86.6h.7v.7h-.7zM80.2 49.2h.7v.7h-.7zM93.2 48.0h.7v.7h-.7zM33.5 59.7h.7v.7h-.7zM29.3 46.7h.7v.7h-.7zM96.0 30.7h.7v.7h-.7zM38.8 69.1h.7v.7h-.7zM87.4 32.3h.7v.7h-.7zM89.2 34.1h.7v.7h-.7zM94.2 34.0h.7v.7h-.7zM49.8 67.6h.7v.7h-.7zM46.2 76.0h.7v.7h-.7zM78.1 32.0h.7v.7h-.7zM24.9 97.5h.7v.7h-.7zM70.2 41.1h.7v.7h-.7zM40.3 77.7h.7v.7h-.7zM83.3 28.6h.7v.7h-.7zM68.1 53.4h.7v.7h-.7zM60.9 59.5h.7v.7h-.7zM92.3 48.1h.7v.7h-.7zM72.8 41.1h.7v.7h-.7zM60.6 62.7h.7v.7h-.7zM94.9 43.2h.7v.7h-.7zM27.6 72.2h.7v.7h-.7zM83.3 93.3h.7v.7h-.7zM93.5 39.7h.7v.7h-.7zM33.8 76.7h.7v.7h-.7zM19.2 96.4h.7v.7h-.7zM88.9 29.8h.7v.7h-.7zM85.6 44.2h.7v.7h-.7zM79.4 30.1h.7v.7h-.7zM88.9 57.7h.7v.7h-.7zM98.9 43.3h.7v.7h-.7zM43.1 81.1h.7v.7h-.7zM41.6 81.4h.7v.7h-.7zM102.0 34.8h.7v.7h-.7zM96.0 44.1h.7v.7h-.7zM100.2 50.4h.7v.7h-.7zM37.1 86.8h.7v.7h-.7zM95.1 45.5h.7v.7h-.7zM51.8 66.8h.7v.7h-.7zM89.7 46.1h.7v.7h-.7zM23.6 88.5h.7v.7h-.7zM86.2 44.1h.7v.7h-.7zM84.2 42.0h.7v.7h-.7zM59.6 47.8h.7v.7h-.7zM101.2 51.6h.7v.7h-.7zM94.8 40.5h.7v.7h-.7zM99.3 52.6h.7v.7h-.7zM94.1 45.1h.7v.7h-.7zM40.1 69.2h.7v.7h-.7zM90.1 43.3h.7v.7h-.7zM81.8 60.6h.7v.7h-.7zM90.6 54.0h.7v.7h-.7zM94.8 52.8h.7v.7h-.7zM28.7 80.9h.7v.7h-.7zM80.7 47.5h.7v.7h-.7zM96.1 37.7h.7v.7h-.7zM79.6 34.5h.7v.7h-.7zM97.9 55.9h.7v.7h-.7zM44.0 91.8h.7v.7h-.7zM52.2 80.0h.7v.7h-.7zM42.3 85.8h.7v.7h-.7zM46.7 10.1h.7v.7h-.7zM98.4 51.5h.7v.7h-.7zM42.1 84.9h.7v.7h-.7zM52.2 75.7h.7v.7h-.7zM55.5 56.7h.7v.7h-.7zM33.7 61.1h.7v.7h-.7zM47.8 58.9h.7v.7h-.7zM45.0 55.2h.7v.7h-.7zM84.8 40.7h.7v.7h-.7zM47.5 76.9h.7v.7h-.7zM89.9 30.2h.7v.7h-.7zM93.3 32.0h.7v.7h-.7zM45.3 80.0h.7v.7h-.7zM104.1 33.7h.7v.7h-.7zM85.1 55.6h.7v.7h-.7zM89.9 31.4h.7v.7h-.7zM71.9 39.0h.7v.7h-.7zM91.6 42.6h.7v.7h-.7zM48.4 43.8h.7v.7h-.7zM81.7 32.5h.7v.7h-.7zM95.4 38.6h.7v.7h-.7zM79.9 38.3h.7v.7h-.7zM94.6 39.7h.7v.7h-.7zM21.8 88.0h.7v.7h-.7zM32.5 92.9h.7v.7h-.7zM90.6 42.3h.7v.7h-.7zM50.9 71.5h.7v.7h-.7zM84.9 40.0h.7v.7h-.7zM72.6 52.4h.7v.7h-.7zM33.7 66.0h.7v.7h-.7zM83.9 30.9h.7v.7h-.7zM106.3 93.9h.7v.7h-.7zM69.7 39.0h.7v.7h-.7zM41.8 80.0h.7v.7h-.7zM85.2 58.2h.7v.7h-.7zM93.0 32.3h.7v.7h-.7zM94.6 50.4h.7v.7h-.7zM33.4 65.8h.7v.7h-.7zM116.5 86.5h.7v.7h-.7zM86.6 34.7h.7v.7h-.7zM67.3 45.1h.7v.7h-.7zM95.3 46.1h.7v.7h-.7zM62.4 37.1h.7v.7h-.7zM63.0 67.8h.7v.7h-.7zM34.7 73.3h.7v.7h-.7zM99.4 43.0h.7v.7h-.7zM86.8 34.2h.7v.7h-.7zM84.4 60.0h.7v.7h-.7zM65.3 48.9h.7v.7h-.7zM40.6 58.2h.7v.7h-.7zM94.5 31.0h.7v.7h-.7zM79.4 29.5h.7v.7h-.7zM36.8 72.2h.7v.7h-.7zM40.1 88.1h.7v.7h-.7zM49.2 97.5h.7v.7h-.7zM89.8 43.3h.7v.7h-.7zM28.1 39.8h.7v.7h-.7zM101.8 32.2h.7v.7h-.7zM83.0 43.5h.7v.7h-.7zM80.2 48.8h.7v.7h-.7zM96.3 50.5h.7v.7h-.7zM76.1 41.3h.7v.7h-.7zM53.6 14.1h.7v.7h-.7zM71.0 96.9h.7v.7h-.7zM71.6 40.6h.7v.7h-.7zM33.2 86.4h.7v.7h-.7zM86.4 31.4h.7v.7h-.7zM22.0 85.3h.7v.7h-.7zM48.9 75.5h.7v.7h-.7zM29.9 76.1h.7v.7h-.7zM29.8 82.3h.7v.7h-.7zM79.4 73.7h.7v.7h-.7zM91.9 47.0h.7v.7h-.7zM65.9 45.4h.7v.7h-.7zM97.4 50.6h.7v.7h-.7zM98.4 55.3h.7v.7h-.7zM95.6 49.5h.7v.7h-.7zM27.9 96.6h.7v.7h-.7zM50.8 80.8h.7v.7h-.7zM93.5 39.7h.7v.7h-.7zM70.1 56.0h.7v.7h-.7zM88.5 49.4h.7v.7h-.7zM103.2 43.9h.7v.7h-.7zM97.6 53.7h.7v.7h-.7zM29.9 21.9h.7v.7h-.7zM90.0 46.9h.7v.7h-.7zM75.8 35.8h.7v.7h-.7zM53.7 65.4h.7v.7h-.7zM86.5 54.3h.7v.7h-.7zM33.2 83.7h.7v.7h-.7zM100.1 40.4h.7v.7h-.7zM72.0 48.0h.7v.7h-.7zM94.0 30.2h.7v.7h-.7z" fill="#2a2a2a" fill-opacity="0.38"/>
<path d="M71.5 38.6h.7v.7h-.7zM36.3 83.6h.7v.7h-.7zM63.5 78.9h.7v.7h-.7zM55.1 56.5h.7v.7h-.7zM98.9 45.6h.7v.7h-.7zM88.3 56.5h.7v.7h-.7zM71.3 60.0h.7v.7h-.7zM45.1 71.2h.7v.7h-.7zM90.3 39.6h.7v.7h-.7zM84.6 34.5h.7v.7h-.7zM95.1 42.7h.7v.7h-.7zM103.2 31.9h.7v.7h-.7zM77.0 30.0h.7v.7h-.7zM88.0 57.8h.7v.7h-.7zM92.2 69.6h.7v.7h-.7zM87.6 53.7h.7v.7h-.7zM95.0 36.9h.7v.7h-.7zM82.4 43.6h.7v.7h-.7zM98.0 40.6h.7v.7h-.7zM88.3 32.6h.7v.7h-.7zM70.5 44.1h.7v.7h-.7zM54.8 56.1h.7v.7h-.7zM36.8 51.7h.7v.7h-.7zM23.0 44.2h.7v.7h-.7zM20.0 72.8h.7v.7h-.7zM101.1 48.6h.7v.7h-.7zM94.8 50.3h.7v.7h-.7zM91.6 50.8h.7v.7h-.7zM91.0 57.4h.7v.7h-.7zM45.8 53.6h.7v.7h-.7zM64.9 52.6h.7v.7h-.7zM80.1 37.4h.7v.7h-.7zM72.4 44.0h.7v.7h-.7zM48.9 87.1h.7v.7h-.7zM85.9 34.1h.7v.7h-.7zM85.3 39.2h.7v.7h-.7zM44.4 27.4h.7v.7h-.7zM38.4 99.1h.7v.7h-.7zM92.7 46.1h.7v.7h-.7zM76.5 44.9h.7v.7h-.7zM70.6 37.9h.7v.7h-.7zM92.3 46.0h.7v.7h-.7zM74.7 30.8h.7v.7h-.7zM72.2 36.4h.7v.7h-.7zM36.6 89.8h.7v.7h-.7zM100.8 33.7h.7v.7h-.7zM44.9 82.1h.7v.7h-.7zM88.5 58.7h.7v.7h-.7zM92.6 47.6h.7v.7h-.7zM90.2 31.2h.7v.7h-.7zM97.8 53.5h.7v.7h-.7zM97.0 51.0h.7v.7h-.7zM62.4 47.6h.7v.7h-.7zM68.0 43.5h.7v.7h-.7zM94.5 37.2h.7v.7h-.7zM28.7 69.1h.7v.7h-.7zM37.9 62.0h.7v.7h-.7zM96.9 39.2h.7v.7h-.7zM97.3 30.3h.7v.7h-.7zM80.2 51.4h.7v.7h-.7zM81.5 31.0h.7v.7h-.7zM49.9 82.5h.7v.7h-.7zM77.2 32.4h.7v.7h-.7zM97.1 52.0h.7v.7h-.7zM96.9 38.7h.7v.7h-.7zM88.0 43.5h.7v.7h-.7zM36.2 77.7h.7v.7h-.7zM87.6 43.9h.7v.7h-.7zM29.7 84.9h.7v.7h-.7zM70.8 57.8h.7v.7h-.7zM85.8 42.6h.7v.7h-.7zM98.7 44.7h.7v.7h-.7zM44.5 65.0h.7v.7h-.7zM50.5 77.9h.7v.7h-.7zM80.8 49.4h.7v.7h-.7zM39.1 63.5h.7v.7h-.7zM89.7 28.6h.7v.7h-.7zM41.1 54.8h.7v.7h-.7zM72.9 48.1h.7v.7h-.7zM81.5 31.0h.7v.7h-.7zM47.3 70.8h.7v.7h-.7zM98.7 32.4h.7v.7h-.7zM96.1 38.7h.7v.7h-.7zM37.3 85.3h.7v.7h-.7zM90.0 48.5h.7v.7h-.7zM89.5 32.9h.7v.7h-.7zM61.9 46.1h.7v.7h-.7zM34.5 94.7h.7v.7h-.7zM101.9 57.9h.7v.7h-.7zM79.3 40.8h.7v.7h-.7zM99.8 48.0h.7v.7h-.7zM89.8 37.2h.7v.7h-.7zM87.9 46.4h.7v.7h-.7zM98.8 56.7h.7v.7h-.7zM63.1 49.9h.7v.7h-.7zM86.1 30.4h.7v.7h-.7zM86.6 55.3h.7v.7h-.7zM35.1 63.2h.7v.7h-.7zM90.0 30.9h.7v.7h-.7zM99.9 45.1h.7v.7h-.7zM35.0 52.7h.7v.7h-.7zM94.3 37.2h.7v.7h-.7zM64.6 41.3h.7v.7h-.7zM37.8 86.4h.7v.7h-.7zM91.9 38.2h.7v.7h-.7zM32.9 78.9h.7v.7h-.7zM95.6 46.6h.7v.7h-.7zM102.0 43.4h.7v.7h-.7zM97.8 43.3h.7v.7h-.7zM91.1 37.9h.7v.7h-.7zM74.0 34.8h.7v.7h-.7zM92.4 49.9h.7v.7h-.7zM74.4 36.1h.7v.7h-.7zM65.9 38.0h.7v.7h-.7zM44.8 70.1h.7v.7h-.7zM35.5 68.0h.7v.7h-.7zM37.7 68.4h.7v.7h-.7zM89.5 41.0h.7v.7h-.7zM87.5 50.5h.7v.7h-.7zM95.4 57.1h.7v.7h-.7zM24.5 81.0h.7v.7h-.7zM81.0 31.2h.7v.7h-.7zM47.2 61.8h.7v.7h-.7zM103.3 29.1h.7v.7h-.7zM101.6 28.4h.7v.7h-.7zM82.4 16.9h.7v.7h-.7zM91.6 53.0h.7v.7h-.7zM45.1 52.1h.7v.7h-.7zM81.6 40.1h.7v.7h-.7zM86.5 34.6h.7v.7h-.7zM96.8 33.3h.7v.7h-.7zM77.2 59.8h.7v.7h-.7zM79.7 48.9h.7v.7h-.7zM96.0 30.9h.7v.7h-.7zM79.5 59.0h.7v.7h-.7zM101.7 38.0h.7v.7h-.7zM96.7 57.2h.7v.7h-.7zM81.3 30.1h.7v.7h-.7zM99.8 65.8h.7v.7h-.7zM86.8 45.0h.7v.7h-.7zM77.2 58.5h.7v.7h-.7zM98.2 55.2h.7v.7h-.7zM77.5 44.1h.7v.7h-.7zM73.2 27.0h.7v.7h-.7zM99.6 36.1h.7v.7h-.7zM66.0 68.3h.7v.7h-.7zM101.1 41.9h.7v.7h-.7zM43.4 73.5h.7v.7h-.7zM90.3 42.1h.7v.7h-.7zM81.2 35.8h.7v.7h-.7zM78.2 40.1h.7v.7h-.7zM49.3 82.9h.7v.7h-.7zM37.6 97.3h.7v.7h-.7zM58.9 45.2h.7v.7h-.7zM96.0 48.6h.7v.7h-.7zM104.1 69.4h.7v.7h-.7zM105.2 38.8h.7v.7h-.7zM70.1 52.6h.7v.7h-.7zM35.5 80.6h.7v.7h-.7zM87.3 36.1h.7v.7h-.7zM92.2 38.6h.7v.7h-.7zM89.1 49.7h.7v.7h-.7zM97.2 52.8h.7v.7h-.7zM89.5 35.8h.7v.7h-.7zM32.8 85.0h.7v.7h-.7zM99.7 56.8h.7v.7h-.7zM90.1 55.1h.7v.7h-.7zM48.8 55.5h.7v.7h-.7zM71.2 33.8h.7v.7h-.7zM87.2 38.4h.7v.7h-.7zM86.4 43.1h.7v.7h-.7zM86.4 36.3h.7v.7h-.7zM24.5 71.5h.7v.7h-.7zM85.3 46.4h.7v.7h-.7zM98.2 49.4h.7v.7h-.7zM79.4 40.2h.7v.7h-.7zM70.5 47.2h.7v.7h-.7zM101.9 56.9h.7v.7h-.7zM59.8 77.0h.7v.7h-.7zM103.5 29.8h.7v.7h-.7zM32.5 72.0h.7v.7h-.7zM33.9 63.8h.7v.7h-.7zM88.5 34.5h.7v.7h-.7zM26.3 68.8h.7v.7h-.7zM102.2 34.4h.7v.7h-.7zM29.8 78.4h.7v.7h-.7zM67.9 46.7h.7v.7h-.7zM100.3 44.4h.7v.7h-.7zM24.1 83.6h.7v.7h-.7zM86.2 56.0h.7v.7h-.7zM97.6 44.6h.7v.7h-.7zM57.8 49.3h.7v.7h-.7zM28.8 67.7h.7v.7h-.7zM70.1 50.3h.7v.7h-.7zM88.2 55.2h.7v.7h-.7zM94.1 48.3h.7v.7h-.7zM48.7 71.0h.7v.7h-.7zM31.7 83.8h.7v.7h-.7zM85.5 41.3h.7v.7h-.7zM89.9 28.6h.7v.7h-.7zM91.6 33.7h.7v.7h-.7zM28.5 77.5h.7v.7h-.7zM99.8 38.8h.7v.7h-.7zM44.3 47.5h.7v.7h-.7zM72.9 42.4h.7v.7h-.7zM79.0 30.0h.7v.7h-.7zM72.5 40.5h.7v.7h-.7zM53.5 50.5h.7v.7h-.7zM92.9 44.3h.7v.7h-.7zM76.7 43.9h.7v.7h-.7zM91.0 45.0h.7v.7h-.7zM98.0 29.8h.7v.7h-.7zM88.8 51.5h.7v.7h-.7zM23.5 86.2h.7v.7h-.7zM45.9 71.8h.7v.7h-.7zM85.1 47.4h.7v.7h-.7zM33.5 87.1h.7v.7h-.7zM87.0 39.5h.7v.7h-.7zM60.9 44.1h.7v.7h-.7zM85.1 40.5h.7v.7h-.7zM96.0 44.0h.7v.7h-.7zM66.2 53.4h.7v.7h-.7zM95.1 46.0h.7v.7h-.7zM96.5 40.5h.7v.7h-.7zM89.5 32.7h.7v.7h-.7zM91.0 41.1h.7v.7h-.7zM102.0 49.3h.7v.7h-.7zM26.1 79.4h.7v.7h-.7zM97.5 28.5h.7v.7h-.7zM74.4 31.8h.7v.7h-.7zM67.1 48.1h.7v.7h-.7zM78.4 32.4h.7v.7h-.7zM73.8 47.9h.7v.7h-.7zM102.6 43.4h.7v.7h-.7zM56.5 61.4h.7v.7h-.7zM91.0 35.3h.7v.7h-.7zM100.3 55.4h.7v.7h-.7zM87.1 49.4h.7v.7h-.7zM94.7 46.9h.7v.7h-.7zM104.5 35.2h.7v.7h-.7zM79.1 46.8h.7v.7h-.7zM72.8 43.0h.7v.7h-.7zM27.7 59.7h.7v.7h-.7zM41.0 94.0h.7v.7h-.7zM46.6 74.7h.7v.7h-.7zM89.9 44.1h.7v.7h-.7zM33.1 49.3h.7v.7h-.7zM38.9 58.1h.7v.7h-.7zM90.8 54.1h.7v.7h-.7zM23.5 77.8h.7v.7h-.7zM92.1 43.5h.7v.7h-.7zM81.4 39.1h.7v.7h-.7zM99.7 51.5h.7v.7h-.7zM84.4 41.7h.7v.7h-.7zM61.6 59.0h.7v.7h-.7zM83.1 45.0h.7v.7h-.7zM79.4 44.7h.7v.7h-.7zM65.1 53.2h.7v.7h-.7zM82.0 37.4h.7v.7h-.7zM93.2 43.0h.7v.7h-.7zM79.1 57.0h.7v.7h-.7zM59.5 34.2h.7v.7h-.7zM105.3 27.7h.7v.7h-.7zM32.8 89.0h.7v.7h-.7zM94.5 43.8h.7v.7h-.7zM87.3 29.2h.7v.7h-.7zM25.6 74.8h.7v.7h-.7zM98.3 43.1h.7v.7h-.7zM95.0 55.0h.7v.7h-.7zM50.6 58.7h.7v.7h-.7zM33.9 75.8h.7v.7h-.7zM99.2 36.6h.7v.7h-.7zM78.1 35.1h.7v.7h-.7zM99.9 44.4h.7v.7h-.7zM32.9 65.6h.7v.7h-.7zM75.1 31.3h.7v.7h-.7zM72.2 57.1h.7v.7h-.7zM89.5 52.1h.7v.7h-.7zM48.3 28.2h.7v.7h-.7zM102.5 45.9h.7v.7h-.7zM50.1 72.1h.7v.7h-.7zM100.4 36.1h.7v.7h-.7zM100.0 31.6h.7v.7h-.7zM33.8 84.1h.7v.7h-.7zM52.8 42.7h.7v.7h-.7zM18.6 98.3h.7v.7h-.7zM65.3 55.0h.7v.7h-.7zM82.7 33.7h.7v.7h-.7zM86.5 43.3h.7v.7h-.7zM91.5 39.9h.7v.7h-.7zM103.9 96.3h.7v.7h-.7zM68.3 13.0h.7v.7h-.7zM20.1 15.7h.7v.7h-.7zM100.7 43.6h.7v.7h-.7zM40.3 64.8h.7v.7h-.7zM95.0 38.0h.7v.7h-.7zM55.4 75.6h.7v.7h-.7zM92.7 54.8h.7v.7h-.7zM90.7 53.3h.7v.7h-.7zM86.2 36.7h.7v.7h-.7zM53.1 65.1h.7v.7h-.7zM82.6 37.6h.7v.7h-.7zM81.3 32.6h.7v.7h-.7zM88.7 34.0h.7v.7h-.7zM97.7 46.0h.7v.7h-.7zM35.2 70.7h.7v.7h-.7zM40.3 51.1h.7v.7h-.7zM80.8 32.1h.7v.7h-.7zM45.3 72.1h.7v.7h-.7zM83.0 35.1h.7v.7h-.7zM81.9 46.0h.7v.7h-.7zM78.4 40.2h.7v.7h-.7zM21.6 89.8h.7v.7h-.7zM30.0 77.8h.7v.7h-.7zM91.5 29.9h.7v.7h-.7zM100.2 51.2h.7v.7h-.7zM80.1 38.7h.7v.7h-.7zM80.6 44.8h.7v.7h-.7zM102.9 45.6h.7v.7h-.7zM100.3 37.9h.7v.7h-.7zM92.4 34.1h.7v.7h-.7zM90.1 36.2h.7v.7h-.7zM99.6 41.1h.7v.7h-.7zM102.3 46.2h.7v.7h-.7zM68.8 41.6h.7v.7h-.7zM79.0 41.6h.7v.7h-.7zM85.4 33.9h.7v.7h-.7zM95.1 42.9h.7v.7h-.7zM98.6 50.9h.7v.7h-.7zM43.7 76.8h.7v.7h-.7zM58.6 47.3h.7v.7h-.7zM64.7 75.8h.7v.7h-.7zM69.3 42.2h.7v.7h-.7zM77.8 36.3h.7v.7h-.7zM33.4 69.7h.7v.7h-.7zM88.7 39.5h.7v.7h-.7zM99.4 35.7h.7v.7h-.7zM76.6 77.6h.7v.7h-.7zM26.1 73.3h.7v.7h-.7zM76.5 36.3h.7v.7h-.7zM80.7 29.3h.7v.7h-.7zM38.5 82.6h.7v.7h-.7zM95.6 45.9h.7v.7h-.7zM76.7 39.8h.7v.7h-.7zM54.6 43.2h.7v.7h-.7zM85.5 40.9h.7v.7h-.7zM29.2 89.1h.7v.7h-.7zM41.5 57.4h.7v.7h-.7zM36.4 80.5h.7v.7h-.7zM64.7 51.3h.7v.7h-.7zM57.3 72.3h.7v.7h-.7zM102.1 31.9h.7v.7h-.7zM89.4 34.8h.7v.7h-.7zM86.9 43.5h.7v.7h-.7zM24.4 53.7h.7v.7h-.7zM38.2 76.5h.7v.7h-.7zM74.1 43.3h.7v.7h-.7zM72.8 38.9h.7v.7h-.7zM58.4 50.6h.7v.7h-.7zM34.6 71.9h.7v.7h-.7zM32.1 77.8h.7v.7h-.7zM98.9 36.1h.7v.7h-.7zM86.8 43.5h.7v.7h-.7zM86.8 43.6h.7v.7h-.7zM84.6 40.4h.7v.7h-.7zM21.8 91.6h.7v.7h-.7zM115.8 22.1h.7v.7h-.7zM31.0 86.6h.7v.7h-.7zM64.9 43.8h.7v.7h-.7zM66.0 43.0h.7v.7h-.7zM43.6 76.0h.7v.7h-.7zM35.3 90.6h.7v.7h-.7zM42.2 51.8h.7v.7h-.7zM97.1 37.3h.7v.7h-.7zM53.1 63.1h.7v.7h-.7zM94.8 29.0h.7v.7h-.7zM79.9 37.7h.7v.7h-.7zM95.7 48.0h.7v.7h-.7zM91.7 41.0h.7v.7h-.7zM91.0 35.1h.7v.7h-.7zM85.8 43.7h.7v.7h-.7zM46.7 59.2h.7v.7h-.7zM33.8 93.0h.7v.7h-.7zM102.6 40.6h.7v.7h-.7zM93.8 31.6h.7v.7h-.7zM99.6 89.2h.7v.7h-.7zM84.3 28.3h.7v.7h-.7zM91.0 40.4h.7v.7h-.7zM59.0 41.8h.7v.7h-.7zM94.8 37.7h.7v.7h-.7zM38.1 71.2h.7v.7h-.7zM93.9 34.8h.7v.7h-.7zM91.6 41.6h.7v.7h-.7zM103.1 35.3h.7v.7h-.7zM97.0 31.1h.7v.7h-.7zM54.3 47.8h.7v.7h-.7zM80.7 39.2h.7v.7h-.7zM93.8 39.9h.7v.7h-.7zM28.2 73.0h.7v.7h-.7zM103.0 34.9h.7v.7h-.7zM56.6 61.9h.7v.7h-.7zM86.7 32.4h.7v.7h-.7zM78.6 48.4h.7v.7h-.7zM101.3 33.2h.7v.7h-.7zM36.8 92.3h.7v.7h-.7zM96.9 37.7h.7v.7h-.7zM94.5 52.9h.7v.7h-.7zM67.6 50.5h.7v.7h-.7zM99.0 32.5h.7v.7h-.7zM91.7 34.3h.7v.7h-.7zM49.1 82.8h.7v.7h-.7zM32.1 98.2h.7v.7h-.7zM85.9 34.2h.7v.7h-.7zM68.8 34.4h.7v.7h-.7zM93.1 35.7h.7v.7h-.7zM25.8 70.9h.7v.7h-.7zM29.5 69.7h.7v.7h-.7zM28.0 73.6h.7v.7h-.7zM25.4 79.2h.7v.7h-.7zM44.4 46.9h.7v.7h-.7zM36.1 95.5h.7v.7h-.7zM57.5 38.4h.7v.7h-.7zM35.6 66.6h.7v.7h-.7zM44.9 72.3h.7v.7h-.7zM109.1 47.1h.7v.7h-.7zM98.1 50.6h.7v.7h-.7zM72.2 33.0h.7v.7h-.7zM88.0 55.7h.7v.7h-.7zM27.8 70.4h.7v.7h-.7zM31.4 69.1h.7v.7h-.7zM41.2 63.0h.7v.7h-.7zM47.4 64.8h.7v.7h-.7zM72.1 32.7h.7v.7h-.7zM95.3 34.0h.7v.7h-.7zM93.0 40.8h.7v.7h-.7zM102.6 43.5h.7v.7h-.7zM99.3 50.1h.7v.7h-.7zM73.8 36.5h.7v.7h-.7zM98.9 44.9h.7v.7h-.7zM78.2 54.4h.7v.7h-.7zM62.5 47.5h.7v.7h-.7zM81.3 46.7h.7v.7h-.7zM77.2 34.7h.7v.7h-.7zM71.3 37.2h.7v.7h-.7zM98.0 58.7h.7v.7h-.7zM95.7 34.8h.7v.7h-.7zM71.0 50.5h.7v.7h-.7zM34.9 91.5h.7v.7h-.7zM93.4 29.1h.7v.7h-.7zM29.1 65.2h.7v.7h-.7zM34.7 81.1h.7v.7h-.7zM30.3 66.4h.7v.7h-.7zM77.3 39.8h.7v.7h-.7zM27.4 68.6h.7v.7h-.7zM43.9 81.7h.7v.7h-.7zM47.2 50.3h.7v.7h-.7zM93.4 42.6h.7v.7h-.7zM89.8 52.3h.7v.7h-.7zM83.5 35.2h.7v.7h-.7zM75.5 33.3h.7v.7h-.7zM87.8 28.6h.7v.7h-.7zM39.0 79.2h.7v.7h-.7zM90.1 39.7h.7v.7h-.7zM85.4 32.0h.7v.7h-.7zM31.2 71.4h.7v.7h-.7zM95.0 90.6h.7v.7h-.7zM38.0 72.1h.7v.7h-.7zM102.6 43.9h.7v.7h-.7zM42.3 49.5h.7v.7h-.7zM54.5 57.9h.7v.7h-.7zM101.4 29.6h.7v.7h-.7zM103.3 42.2h.7v.7h-.7zM84.8 33.5h.7v.7h-.7zM102.1 43.9h.7v.7h-.7zM23.0 89.4h.7v.7h-.7zM29.0 93.2h.7v.7h-.7zM96.7 51.0h.7v.7h-.7zM91.4 43.0h.7v.7h-.7zM74.8 40.6h.7v.7h-.7zM27.0 76.6h.7v.7h-.7zM97.0 53.0h.7v.7h-.7zM92.4 44.6h.7v.7h-.7zM80.5 58.7h.7v.7h-.7zM61.3 55.6h.7v.7h-.7zM77.1 41.1h.7v.7h-.7zM85.9 59.9h.7v.7h-.7zM98.3 37.6h.7v.7h-.7zM102.1 41.5h.7v.7h-.7zM72.0 33.9h.7v.7h-.7zM63.8 54.2h.7v.7h-.7zM95.5 44.1h.7v.7h-.7zM100.4 37.2h.7v.7h-.7zM34.6 71.9h.7v.7h-.7zM92.9 45.2h.7v.7h-.7zM33.0 97.6h.7v.7h-.7zM30.0 79.4h.7v.7h-.7zM76.3 32.1h.7v.7h-.7zM21.0 39.5h.7v.7h-.7zM110.0 60.5h.7v.7h-.7zM34.8 52.0h.7v.7h-.7zM98.8 39.0h.7v.7h-.7zM40.8 87.2h.7v.7h-.7zM71.5 36.0h.7v.7h-.7zM91.1 51.4h.7v.7h-.7zM25.6 69.2h.7v.7h-.7zM85.7 58.6h.7v.7h-.7zM99.0 30.6h.7v.7h-.7zM56.4 76.2h.7v.7h-.7zM100.0 45.2h.7v.7h-.7zM89.7 30.8h.7v.7h-.7zM101.0 35.5h.7v.7h-.7zM87.3 43.5h.7v.7h-.7zM89.5 38.1h.7v.7h-.7zM89.9 29.5h.7v.7h-.7zM39.0 82.8h.7v.7h-.7zM100.1 37.3h.7v.7h-.7zM49.0 80.0h.7v.7h-.7zM76.2 45.1h.7v.7h-.7zM73.2 39.7h.7v.7h-.7zM95.8 54.0h.7v.7h-.7zM58.4 86.3h.7v.7h-.7zM60.6 58.5h.7v.7h-.7zM45.0 86.0h.7v.7h-.7zM101.1 41.0h.7v.7h-.7zM99.3 34.8h.7v.7h-.7zM30.6 95.7h.7v.7h-.7zM32.9 85.1h.7v.7h-.7zM75.0 42.0h.7v.7h-.7zM50.4 82.3h.7v.7h-.7zM96.0 34.2h.7v.7h-.7zM27.8 91.5h.7v.7h-.7zM32.6 87.6h.7v.7h-.7zM90.8 44.9h.7v.7h-.7zM66.9 51.2h.7v.7h-.7zM88.3 56.2h.7v.7h-.7zM40.9 60.0h.7v.7h-.7zM94.5 51.7h.7v.7h-.7zM31.0 66.4h.7v.7h-.7zM38.1 64.6h.7v.7h-.7zM84.6 43.1h.7v.7h-.7zM25.0 53.5h.7v.7h-.7zM99.3 46.9h.7v.7h-.7zM61.7 46.8h.7v.7h-.7zM42.9 83.1h.7v.7h-.7zM56.6 72.4h.7v.7h-.7zM86.6 35.3h.7v.7h-.7zM102.6 37.6h.7v.7h-.7zM98.3 56.3h.7v.7h-.7zM33.7 73.5h.7v.7h-.7zM78.2 54.5h.7v.7h-.7zM96.4 50.4h.7v.7h-.7zM72.1 39.9h.7v.7h-.7zM99.1 34.1h.7v.7h-.7zM24.5 86.6h.7v.7h-.7zM37.4 69.2h.7v.7h-.7zM68.0 42.5h.7v.7h-.7zM99.3 56.2h.7v.7h-.7zM68.3 53.9h.7v.7h-.7zM99.9 51.6h.7v.7h-.7zM45.3 65.1h.7v.7h-.7zM94.8 47.6h.7v.7h-.7zM55.2 46.6h.7v.7h-.7zM96.3 31.0h.7v.7h-.7zM96.2 38.8h.7v.7h-.7zM48.0 76.5h.7v.7h-.7zM93.4 39.8h.7v.7h-.7zM50.9 48.4h.7v.7h-.7zM63.8 45.4h.7v.7h-.7zM82.5 43.8h.7v.7h-.7zM57.6 75.0h.7v.7h-.7zM37.3 47.2h.7v.7h-.7zM93.4 36.0h.7v.7h-.7zM31.6 58.2h.7v.7h-.7zM41.1 93.8h.7v.7h-.7zM97.7 39.0h.7v.7h-.7zM50.0 60.0h.7v.7h-.7zM21.6 75.5h.7v.7h-.7zM95.6 33.1h.7v.7h-.7zM83.5 39.0h.7v.7h-.7zM87.2 36.8h.7v.7h-.7zM88.3 49.8h.7v.7h-.7zM89.8 45.7h.7v.7h-.7zM77.8 48.2h.7v.7h-.7zM76.9 51.6h.7v.7h-.7zM24.5 66.2h.7v.7h-.7zM79.3 33.3h.7v.7h-.7zM95.5 55.2h.7v.7h-.7zM100.9 16.7h.7v.7h-.7zM99.5 40.9h.7v.7h-.7zM99.1 37.0h.7v.7h-.7zM46.7 61.7h.7v.7h-.7zM94.9 51.8h.7v.7h-.7zM91.7 38.1h.7v.7h-.7zM61.8 56.1h.7v.7h-.7zM67.2 52.6h.7v.7h-.7zM74.9 33.0h.7v.7h-.7zM63.7 54.5h.7v.7h-.7zM70.7 22.0h.7v.7h-.7zM87.4 50.3h.7v.7h-.7zM103.1 39.8h.7v.7h-.7zM92.8 44.8h.7v.7h-.7zM37.7 66.5h.7v.7h-.7zM52.1 47.4h.7v.7h-.7zM93.9 34.5h.7v.7h-.7zM40.5 75.2h.7v.7h-.7zM93.4 39.5h.7v.7h-.7zM88.2 44.5h.7v.7h-.7zM92.7 45.6h.7v.7h-.7zM91.0 37.8h.7v.7h-.7zM73.3 47.4h.7v.7h-.7zM36.5 79.0h.7v.7h-.7zM90.6 41.1h.7v.7h-.7zM41.0 65.3h.7v.7h-.7zM98.2 29.5h.7v.7h-.7zM86.3 43.5h.7v.7h-.7zM61.2 92.0h.7v.7h-.7zM93.2 51.6h.7v.7h-.7zM86.9 50.4h.7v.7h-.7zM95.0 35.2h.7v.7h-.7zM103.4 35.1h.7v.7h-.7zM99.4 31.4h.7v.7h-.7zM62.7 59.6h.7v.7h-.7zM85.7 33.4h.7v.7h-.7zM21.3 89.0h.7v.7h-.7zM93.2 36.8h.7v.7h-.7zM94.6 49.0h.7v.7h-.7zM48.4 73.8h.7v.7h-.7zM43.1 66.1h.7v.7h-.7zM96.3 44.7h.7v.7h-.7zM39.1 82.1h.7v.7h-.7zM24.3 16.5h.7v.7h-.7zM55.5 45.4h.7v.7h-.7zM90.9 37.2h.7v.7h-.7zM67.4 12.7h.7v.7h-.7zM48.7 75.5h.7v.7h-.7zM28.5 73.6h.7v.7h-.7zM92.6 45.2h.7v.7h-.7zM86.8 39.5h.7v.7h-.7zM45.9 67.1h.7v.7h-.7zM73.8 33.5h.7v.7h-.7zM86.0 30.0h.7v.7h-.7zM37.0 94.6h.7v.7h-.7zM34.5 79.6h.7v.7h-.7zM93.3 40.3h.7v.7h-.7zM97.0 44.6h.7v.7h-.7zM91.7 49.6h.7v.7h-.7zM89.8 51.7h.7v.7h-.7zM100.1 51.8h.7v.7h-.7zM36.1 96.6h.7v.7h-.7zM100.0 39.9h.7v.7h-.7zM101.2 53.2h.7v.7h-.7zM66.8 46.0h.7v.7h-.7zM93.1 38.7h.7v.7h-.7zM98.4 37.3h.7v.7h-.7zM49.3 74.9h.7v.7h-.7zM87.4 53.7h.7v.7h-.7zM101.3 56.8h.7v.7h-.7zM92.3 58.3h.7v.7h-.7zM99.9 55.9h.7v.7h-.7zM74.6 37.5h.7v.7h-.7zM42.0 64.7h.7v.7h-.7zM38.4 78.1h.7v.7h-.7zM48.2 59.1h.7v.7h-.7zM45.8 90.4h.7v.7h-.7zM57.7 70.1h.7v.7h-.7zM89.9 33.4h.7v.7h-.7zM37.0 41.9h.7v.7h-.7zM89.6 27.4h.7v.7h-.7zM98.8 32.4h.7v.7h-.7zM40.8 72.1h.7v.7h-.7zM88.1 38.3h.7v.7h-.7zM33.8 72.0h.7v.7h-.7zM27.6 61.7h.7v.7h-.7zM99.5 34.1h.7v.7h-.7zM48.6 72.2h.7v.7h-.7zM23.5 92.8h.7v.7h-.7zM97.0 41.9h.7v.7h-.7zM103.2 35.9h.7v.7h-.7zM98.2 42.1h.7v.7h-.7zM69.5 56.2h.7v.7h-.7zM83.7 29.8h.7v.7h-.7zM44.3 70.1h.7v.7h-.7zM84.0 40.8h.7v.7h-.7zM48.4 76.0h.7v.7h-.7zM21.2 81.9h.7v.7h-.7zM92.3 41.9h.7v.7h-.7zM51.6 73.9h.7v.7h-.7zM69.9 45.0h.7v.7h-.7zM80.5 31.4h.7v.7h-.7zM21.4 74.5h.7v.7h-.7zM76.9 41.1h.7v.7h-.7zM89.6 41.8h.7v.7h-.7zM91.9 33.6h.7v.7h-.7zM100.8 28.3h.7v.7h-.7zM68.4 44.3h.7v.7h-.7zM27.2 98.2h.7v.7h-.7zM43.1 80.8h.7v.7h-.7zM96.0 39.1h.7v.7h-.7zM88.3 52.3h.7v.7h-.7zM23.8 93.1h.7v.7h-.7zM66.4 42.3h.7v.7h-.7zM102.5 43.9h.7v.7h-.7zM46.2 54.2h.7v.7h-.7zM26.5 95.6h.7v.7h-.7zM49.1 78.3h.7v.7h-.7zM90.5 58.4h.7v.7h-.7zM48.2 81.8h.7v.7h-.7zM88.9 47.7h.7v.7h-.7zM43.8 28.4h.7v.7h-.7zM95.4 41.3h.7v.7h-.7zM100.6 56.3h.7v.7h-.7zM74.5 70.9h.7v.7h-.7zM67.4 35.9h.7v.7h-.7zM34.1 49.9h.7v.7h-.7zM72.4 36.3h.7v.7h-.7zM81.9 37.7h.7v.7h-.7zM74.3 54.8h.7v.7h-.7zM66.2 33.7h.7v.7h-.7zM85.6 30.0h.7v.7h-.7zM49.4 65.8h.7v.7h-.7zM63.0 59.3h.7v.7h-.7zM92.5 32.4h.7v.7h-.7zM101.9 51.9h.7v.7h-.7zM102.2 44.4h.7v.7h-.7zM97.0 37.1h.7v.7h-.7zM92.6 49.8h.7v.7h-.7zM29.6 81.8h.7v.7h-.7zM68.8 70.8h.7v.7h-.7zM62.5 76.9h.7v.7h-.7zM83.8 46.0h.7v.7h-.7zM98.1 58.4h.7v.7h-.7zM93.5 47.2h.7v.7h-.7zM47.0 83.7h.7v.7h-.7zM79.5 28.5h.7v.7h-.7zM94.4 48.2h.7v.7h-.7zM95.2 46.2h.7v.7h-.7zM36.9 77.4h.7v.7h-.7zM33.3 91.9h.7v.7h-.7zM101.4 32.2h.7v.7h-.7zM49.9 87.0h.7v.7h-.7zM63.1 62.0h.7v.7h-.7zM26.7 73.5h.7v.7h-.7zM97.7 45.7h.7v.7h-.7zM96.2 32.2h.7v.7h-.7zM81.4 34.7h.7v.7h-.7zM33.8 68.6h.7v.7h-.7zM104.3 36.9h.7v.7h-.7zM59.8 10.9h.7v.7h-.7zM83.8 42.9h.7v.7h-.7zM46.3 78.4h.7v.7h-.7zM96.3 42.6h.7v.7h-.7zM79.6 46.6h.7v.7h-.7zM95.4 40.0h.7v.7h-.7zM95.7 44.3h.7v.7h-.7zM98.6 32.5h.7v.7h-.7zM92.9 40.6h.7v.7h-.7zM89.1 29.8h.7v.7h-.7zM77.8 37.4h.7v.7h-.7zM94.7 57.0h.7v.7h-.7zM99.9 37.4h.7v.7h-.7zM19.4 80.8h.7v.7h-.7zM48.3 53.7h.7v.7h-.7zM91.9 30.4h.7v.7h-.7zM85.9 40.3h.7v.7h-.7zM90.5 58.5h.7v.7h-.7zM78.3 39.0h.7v.7h-.7zM47.7 57.5h.7v.7h-.7zM39.8 76.1h.7v.7h-.7zM86.7 46.6h.7v.7h-.7zM100.4 55.4h.7v.7h-.7zM100.7 52.9h.7v.7h-.7zM93.9 48.8h.7v.7h-.7zM29.5 69.7h.7v.7h-.7zM101.5 45.6h.7v.7h-.7zM91.3 34.8h.7v.7h-.7zM68.3 60.5h.7v.7h-.7zM96.6 45.0h.7v.7h-.7zM38.2 64.9h.7v.7h-.7zM100.7 43.3h.7v.7h-.7zM99.8 46.4h.7v.7h-.7zM100.4 45.5h.7v.7h-.7zM92.2 43.6h.7v.7h-.7zM62.9 48.8h.7v.7h-.7zM36.0 55.7h.7v.7h-.7zM40.6 66.2h.7v.7h-.7zM42.3 68.6h.7v.7h-.7zM32.9 89.1h.7v.7h-.7zM22.9 71.6h.7v.7h-.7zM46.0 81.8h.7v.7h-.7zM34.2 74.0h.7v.7h-.7zM93.4 52.2h.7v.7h-.7zM99.0 39.5h.7v.7h-.7zM103.0 31.6h.7v.7h-.7zM84.7 30.1h.7v.7h-.7zM81.1 51.7h.7v.7h-.7zM87.9 41.8h.7v.7h-.7zM88.8 38.5h.7v.7h-.7zM96.2 37.7h.7v.7h-.7zM101.1 39.6h.7v.7h-.7zM89.0 45.2h.7v.7h-.7zM97.1 52.2h.7v.7h-.7zM32.5 62.0h.7v.7h-.7zM57.7 64.8h.7v.7h-.7zM94.8 34.0h.7v.7h-.7zM44.4 85.7h.7v.7h-.7zM90.7 38.7h.7v.7h-.7zM53.6 73.4h.7v.7h-.7zM89.1 48.1h.7v.7h-.7zM72.5 78.8h.7v.7h-.7zM80.2 91.4h.7v.7h-.7zM50.0 54.7h.7v.7h-.7zM79.4 32.3h.7v.7h-.7zM82.5 40.2h.7v.7h-.7zM81.3 44.1h.7v.7h-.7zM60.3 46.0h.7v.7h-.7zM100.1 34.5h.7v.7h-.7zM50.9 39.1h.7v.7h-.7zM30.2 84.3h.7v.7h-.7zM99.2 38.4h.7v.7h-.7zM24.2 81.5h.7v.7h-.7zM102.3 32.3h.7v.7h-.7zM88.1 45.2h.7v.7h-.7zM97.3 32.1h.7v.7h-.7zM81.9 33.9h.7v.7h-.7zM31.3 88.7h.7v.7h-.7zM70.9 32.5h.7v.7h-.7zM98.2 29.0h.7v.7h-.7zM82.6 31.4h.7v.7h-.7zM48.8 71.8h.7v.7h-.7zM83.3 40.0h.7v.7h-.7zM91.4 41.8h.7v.7h-.7zM87.5 28.6h.7v.7h-.7zM92.0 50.2h.7v.7h-.7zM32.5 80.2h.7v.7h-.7zM67.4 56.8h.7v.7h-.7zM89.2 45.5h.7v.7h-.7zM97.5 40.3h.7v.7h-.7zM32.1 77.9h.7v.7h-.7zM19.0 32.1h.7v.7h-.7zM75.8 45.7h.7v.7h-.7zM29.0 90.5h.7v.7h-.7zM81.8 75.8h.7v.7h-.7zM25.1 70.4h.7v.7h-.7zM99.3 33.0h.7v.7h-.7zM43.5 47.9h.7v.7h-.7zM62.7 51.5h.7v.7h-.7zM29.4 77.4h.7v.7h-.7zM93.4 43.6h.7v.7h-.7zM24.2 84.3h.7v.7h-.7zM96.8 51.1h.7v.7h-.7zM68.7 51.2h.7v.7h-.7zM50.0 77.0h.7v.7h-.7zM100.1 38.1h.7v.7h-.7zM92.5 29.2h.7v.7h-.7zM100.7 41.6h.7v.7h-.7zM98.1 40.1h.7v.7h-.7zM94.7 41.9h.7v.7h-.7z" fill="#2a2a2a" fill-opacity="0.38"/>
<path d="M48.8 63.8h.7v.7h-.7zM99.0 37.6h.7v.7h-.7zM36.8 85.3h.7v.7h-.7zM96.3 37.9h.7v.7h-.7zM87.8 51.6h.7v.7h-.7zM91.7 45.8h.7v.7h-.7zM70.5 63.8h.7v.7h-.7zM55.0 41.5h.7v.7h-.7zM91.3 45.0h.7v.7h-.7zM91.7 53.9h.7v.7h-.7zM62.6 49.5h.7v.7h-.7zM72.7 63.6h.7v.7h-.7zM81.8 36.8h.7v.7h-.7zM91.7 32.0h.7v.7h-.7zM49.8 71.7h.7v.7h-.7zM85.4 43.5h.7v.7h-.7zM89.8 41.7h.7v.7h-.7zM37.4 85.2h.7v.7h-.7zM87.9 35.8h.7v.7h-.7zM95.0 38.0h.7v.7h-.7zM46.0 61.2h.7v.7h-.7zM53.8 55.8h.7v.7h-.7zM96.4 45.8h.7v.7h-.7zM87.2 28.5h.7v.7h-.7zM84.3 32.8h.7v.7h-.7zM45.1 81.0h.7v.7h-.7zM35.2 70.1h.7v.7h-.7zM101.7 41.9h.7v.7h-.7zM71.2 34.5h.7v.7h-.7zM87.3 44.1h.7v.7h-.7zM88.9 48.4h.7v.7h-.7zM94.0 36.3h.7v.7h-.7zM75.2 33.7h.7v.7h-.7zM98.9 49.7h.7v.7h-.7zM97.0 35.0h.7v.7h-.7zM33.4 69.6h.7v.7h-.7zM102.7 43.3h.7v.7h-.7zM36.6 79.4h.7v.7h-.7zM69.4 51.9h.7v.7h-.7zM76.7 33.0h.7v.7h-.7zM26.6 82.1h.7v.7h-.7zM48.3 82.9h.7v.7h-.7zM93.4 81.5h.7v.7h-.7zM28.3 76.7h.7v.7h-.7zM102.2 29.6h.7v.7h-.7zM36.6 78.3h.7v.7h-.7zM38.1 90.7h.7v.7h-.7zM62.3 60.4h.7v.7h-.7zM45.7 45.7h.7v.7h-.7zM90.5 44.2h.7v.7h-.7zM39.6 79.8h.7v.7h-.7zM52.2 56.1h.7v.7h-.7zM47.6 71.2h.7v.7h-.7zM96.2 51.6h.7v.7h-.7zM97.4 53.9h.7v.7h-.7zM99.7 39.7h.7v.7h-.7zM95.6 43.5h.7v.7h-.7zM85.3 36.4h.7v.7h-.7zM87.9 44.7h.7v.7h-.7zM38.8 70.2h.7v.7h-.7zM89.1 55.1h.7v.7h-.7zM81.7 30.0h.7v.7h-.7zM89.7 45.1h.7v.7h-.7zM73.2 33.7h.7v.7h-.7zM104.9 35.6h.7v.7h-.7zM96.7 50.0h.7v.7h-.7zM80.9 50.6h.7v.7h-.7zM64.1 59.2h.7v.7h-.7zM85.1 46.1h.7v.7h-.7zM84.5 39.6h.7v.7h-.7zM86.5 31.4h.7v.7h-.7zM71.9 40.8h.7v.7h-.7zM50.2 62.8h.7v.7h-.7zM83.0 32.6h.7v.7h-.7zM38.0 94.9h.7v.7h-.7zM100.3 40.5h.7v.7h-.7zM104.1 30.8h.7v.7h-.7zM20.8 66.9h.7v.7h-.7zM90.4 42.1h.7v.7h-.7zM38.3 69.3h.7v.7h-.7zM86.7 49.7h.7v.7h-.7zM47.6 72.3h.7v.7h-.7zM31.0 80.4h.7v.7h-.7zM45.4 65.3h.7v.7h-.7zM25.2 39.9h.7v.7h-.7zM87.8 30.2h.7v.7h-.7zM97.7 57.3h.7v.7h-.7zM35.6 39.8h.7v.7h-.7zM95.9 56.8h.7v.7h-.7zM98.9 29.1h.7v.7h-.7zM77.4 60.0h.7v.7h-.7zM97.7 52.5h.7v.7h-.7zM99.9 28.2h.7v.7h-.7zM70.6 43.1h.7v.7h-.7zM91.2 46.1h.7v.7h-.7zM60.6 48.2h.7v.7h-.7zM33.6 73.1h.7v.7h-.7zM74.4 57.5h.7v.7h-.7zM68.6 40.7h.7v.7h-.7zM97.9 37.2h.7v.7h-.7zM69.4 38.5h.7v.7h-.7zM95.5 57.6h.7v.7h-.7zM55.4 70.5h.7v.7h-.7zM46.7 66.9h.7v.7h-.7zM99.3 43.8h.7v.7h-.7zM51.2 85.7h.7v.7h-.7zM81.9 30.7h.7v.7h-.7zM96.5 43.2h.7v.7h-.7zM24.3 92.2h.7v.7h-.7zM46.0 75.3h.7v.7h-.7zM32.8 76.8h.7v.7h-.7zM41.1 77.9h.7v.7h-.7zM94.8 52.5h.7v.7h-.7zM102.7 37.8h.7v.7h-.7zM31.3 56.6h.7v.7h-.7zM36.1 64.1h.7v.7h-.7zM76.9 41.5h.7v.7h-.7zM93.2 49.6h.7v.7h-.7zM88.2 38.4h.7v.7h-.7zM72.1 75.5h.7v.7h-.7zM88.2 33.1h.7v.7h-.7zM99.4 30.8h.7v.7h-.7zM56.3 56.7h.7v.7h-.7zM45.5 55.7h.7v.7h-.7zM50.7 63.0h.7v.7h-.7zM72.8 58.7h.7v.7h-.7zM82.9 38.0h.7v.7h-.7zM30.4 98.0h.7v.7h-.7zM96.8 31.7h.7v.7h-.7zM97.6 42.1h.7v.7h-.7zM39.6 74.0h.7v.7h-.7zM40.2 85.7h.7v.7h-.7zM50.8 52.2h.7v.7h-.7zM49.5 93.5h.7v.7h-.7zM94.1 30.6h.7v.7h-.7zM44.3 55.8h.7v.7h-.7zM37.5 85.4h.7v.7h-.7zM100.1 44.3h.7v.7h-.7zM28.9 76.7h.7v.7h-.7zM55.3 45.0h.7v.7h-.7zM90.6 56.8h.7v.7h-.7zM85.0 35.5h.7v.7h-.7zM92.4 28.5h.7v.7h-.7zM88.5 39.4h.7v.7h-.7zM62.1 48.6h.7v.7h-.7zM81.8 41.8h.7v.7h-.7zM102.6 44.2h.7v.7h-.7zM75.0 35.5h.7v.7h-.7zM102.2 43.0h.7v.7h-.7zM71.4 45.1h.7v.7h-.7zM58.3 84.8h.7v.7h-.7zM91.0 35.2h.7v.7h-.7zM33.0 63.3h.7v.7h-.7zM34.8 74.3h.7v.7h-.7zM79.4 35.8h.7v.7h-.7zM33.2 71.9h.7v.7h-.7zM42.9 90.7h.7v.7h-.7zM45.5 80.4h.7v.7h-.7zM92.7 40.9h.7v.7h-.7zM103.9 34.0h.7v.7h-.7zM48.4 68.3h.7v.7h-.7zM100.1 37.6h.7v.7h-.7zM60.6 61.6h.7v.7h-.7zM86.9 37.8h.7v.7h-.7zM38.7 90.9h.7v.7h-.7zM90.1 58.1h.7v.7h-.7zM97.3 46.6h.7v.7h-.7zM61.9 51.4h.7v.7h-.7zM88.3 49.6h.7v.7h-.7zM100.6 38.9h.7v.7h-.7zM41.8 67.3h.7v.7h-.7zM94.5 41.3h.7v.7h-.7zM26.0 88.8h.7v.7h-.7zM73.4 77.9h.7v.7h-.7zM95.3 36.4h.7v.7h-.7zM100.4 43.8h.7v.7h-.7zM74.4 40.7h.7v.7h-.7zM68.4 40.7h.7v.7h-.7zM100.9 40.1h.7v.7h-.7zM93.0 49.7h.7v.7h-.7zM81.0 45.1h.7v.7h-.7zM96.4 29.7h.7v.7h-.7zM73.0 47.2h.7v.7h-.7zM87.6 41.2h.7v.7h-.7zM54.4 27.5h.7v.7h-.7zM36.0 92.2h.7v.7h-.7zM96.6 32.9h.7v.7h-.7zM94.1 44.7h.7v.7h-.7zM42.7 73.3h.7v.7h-.7zM65.6 39.5h.7v.7h-.7zM71.6 59.3h.7v.7h-.7zM43.3 76.4h.7v.7h-.7zM40.8 87.4h.7v.7h-.7zM45.4 58.7h.7v.7h-.7zM80.0 42.8h.7v.7h-.7zM55.8 90.9h.7v.7h-.7zM86.5 45.0h.7v.7h-.7zM32.0 72.9h.7v.7h-.7zM71.8 60.9h.7v.7h-.7zM79.2 43.3h.7v.7h-.7zM41.6 58.9h.7v.7h-.7zM102.6 41.4h.7v.7h-.7zM68.2 43.6h.7v.7h-.7zM82.4 47.9h.7v.7h-.7zM74.5 35.7h.7v.7h-.7zM99.6 54.7h.7v.7h-.7zM97.5 38.4h.7v.7h-.7zM34.4 64.1h.7v.7h-.7zM92.4 51.5h.7v.7h-.7zM45.1 60.0h.7v.7h-.7zM25.2 71.7h.7v.7h-.7zM94.7 54.4h.7v.7h-.7zM94.6 34.5h.7v.7h-.7zM109.0 38.6h.7v.7h-.7zM96.0 32.6h.7v.7h-.7zM98.6 28.1h.7v.7h-.7zM98.9 58.6h.7v.7h-.7zM69.8 51.3h.7v.7h-.7zM31.3 97.4h.7v.7h-.7zM79.7 45.1h.7v.7h-.7zM31.4 81.5h.7v.7h-.7zM64.7 77.3h.7v.7h-.7zM93.2 51.3h.7v.7h-.7zM93.2 45.0h.7v.7h-.7zM95.6 53.3h.7v.7h-.7zM103.1 39.2h.7v.7h-.7zM100.9 34.4h.7v.7h-.7zM102.0 30.6h.7v.7h-.7zM36.5 81.7h.7v.7h-.7zM44.4 87.9h.7v.7h-.7zM44.0 44.2h.7v.7h-.7zM53.7 74.2h.7v.7h-.7zM85.8 31.0h.7v.7h-.7zM114.0 22.7h.7v.7h-.7zM43.8 69.2h.7v.7h-.7zM30.0 82.6h.7v.7h-.7zM79.4 59.6h.7v.7h-.7zM80.9 28.5h.7v.7h-.7zM33.5 62.4h.7v.7h-.7zM90.2 30.2h.7v.7h-.7zM105.2 86.7h.7v.7h-.7zM83.3 43.1h.7v.7h-.7zM38.4 72.3h.7v.7h-.7zM81.3 30.7h.7v.7h-.7zM97.6 42.1h.7v.7h-.7zM101.6 40.9h.7v.7h-.7zM89.3 47.0h.7v.7h-.7zM72.4 44.6h.7v.7h-.7zM102.6 35.7h.7v.7h-.7zM94.8 21.7h.7v.7h-.7zM59.1 57.0h.7v.7h-.7zM60.9 46.0h.7v.7h-.7zM83.0 36.8h.7v.7h-.7zM99.5 37.2h.7v.7h-.7zM23.4 86.2h.7v.7h-.7zM45.6 68.1h.7v.7h-.7zM62.6 47.8h.7v.7h-.7zM34.6 78.8h.7v.7h-.7zM49.2 65.2h.7v.7h-.7zM44.6 83.1h.7v.7h-.7zM86.7 50.1h.7v.7h-.7zM99.3 33.6h.7v.7h-.7zM90.6 31.7h.7v.7h-.7zM35.8 82.7h.7v.7h-.7zM96.7 54.5h.7v.7h-.7zM85.6 37.2h.7v.7h-.7zM78.9 43.0h.7v.7h-.7zM38.8 82.5h.7v.7h-.7zM97.3 36.9h.7v.7h-.7zM86.1 41.0h.7v.7h-.7zM72.7 64.2h.7v.7h-.7zM84.0 56.1h.7v.7h-.7zM33.6 84.8h.7v.7h-.7zM92.4 43.5h.7v.7h-.7zM102.6 36.1h.7v.7h-.7zM49.8 96.6h.7v.7h-.7zM27.4 86.6h.7v.7h-.7zM96.2 42.0h.7v.7h-.7zM90.7 29.6h.7v.7h-.7zM76.6 53.5h.7v.7h-.7zM88.6 54.0h.7v.7h-.7zM39.8 64.2h.7v.7h-.7zM68.5 61.9h.7v.7h-.7zM43.6 75.5h.7v.7h-.7zM51.4 92.9h.7v.7h-.7zM80.4 43.2h.7v.7h-.7zM34.8 75.2h.7v.7h-.7zM70.6 50.9h.7v.7h-.7zM43.8 80.1h.7v.7h-.7zM38.3 87.1h.7v.7h-.7zM81.0 37.2h.7v.7h-.7zM90.1 35.5h.7v.7h-.7zM101.5 52.0h.7v.7h-.7zM65.1 71.2h.7v.7h-.7zM82.4 43.4h.7v.7h-.7zM92.2 57.4h.7v.7h-.7zM100.2 37.9h.7v.7h-.7zM92.9 33.2h.7v.7h-.7zM58.4 66.3h.7v.7h-.7zM80.0 47.9h.7v.7h-.7zM71.9 40.4h.7v.7h-.7zM61.8 43.6h.7v.7h-.7zM73.5 42.0h.7v.7h-.7zM39.2 63.4h.7v.7h-.7zM72.7 43.1h.7v.7h-.7zM87.4 47.8h.7v.7h-.7zM79.8 38.9h.7v.7h-.7zM67.7 45.8h.7v.7h-.7zM98.9 54.9h.7v.7h-.7zM38.9 87.2h.7v.7h-.7zM37.4 73.9h.7v.7h-.7zM41.0 91.8h.7v.7h-.7zM95.2 46.6h.7v.7h-.7zM30.8 66.6h.7v.7h-.7zM86.8 29.5h.7v.7h-.7zM94.3 54.0h.7v.7h-.7zM41.2 53.9h.7v.7h-.7zM93.9 28.6h.7v.7h-.7zM68.1 34.6h.7v.7h-.7zM31.5 78.7h.7v.7h-.7zM102.5 53.3h.7v.7h-.7zM103.6 40.8h.7v.7h-.7zM91.9 48.9h.7v.7h-.7zM74.4 32.4h.7v.7h-.7zM91.3 58.3h.7v.7h-.7zM40.4 84.7h.7v.7h-.7zM37.9 78.7h.7v.7h-.7zM26.9 68.9h.7v.7h-.7zM71.3 40.3h.7v.7h-.7zM45.9 79.7h.7v.7h-.7zM83.3 50.0h.7v.7h-.7zM90.9 32.7h.7v.7h-.7zM98.4 44.5h.7v.7h-.7zM89.6 28.7h.7v.7h-.7zM54.3 64.3h.7v.7h-.7zM92.4 29.3h.7v.7h-.7zM59.8 58.3h.7v.7h-.7zM97.9 42.4h.7v.7h-.7zM76.5 45.2h.7v.7h-.7zM79.0 43.6h.7v.7h-.7zM94.6 51.9h.7v.7h-.7zM83.6 36.8h.7v.7h-.7zM85.0 34.0h.7v.7h-.7zM56.3 59.4h.7v.7h-.7zM82.2 44.4h.7v.7h-.7zM99.0 43.6h.7v.7h-.7zM27.1 79.3h.7v.7h-.7zM102.4 31.0h.7v.7h-.7zM81.7 45.8h.7v.7h-.7zM104.2 44.5h.7v.7h-.7zM93.6 41.3h.7v.7h-.7zM101.1 32.3h.7v.7h-.7zM41.8 69.8h.7v.7h-.7zM29.7 86.3h.7v.7h-.7zM101.6 37.6h.7v.7h-.7zM30.7 89.8h.7v.7h-.7zM101.4 45.1h.7v.7h-.7zM83.0 31.5h.7v.7h-.7zM26.8 69.0h.7v.7h-.7zM41.9 81.9h.7v.7h-.7zM100.7 56.1h.7v.7h-.7zM83.7 44.5h.7v.7h-.7zM76.1 35.2h.7v.7h-.7zM30.5 82.2h.7v.7h-.7zM23.9 71.8h.7v.7h-.7zM48.8 59.1h.7v.7h-.7zM88.2 37.0h.7v.7h-.7zM55.3 46.1h.7v.7h-.7zM48.4 68.6h.7v.7h-.7zM65.0 52.0h.7v.7h-.7zM33.2 97.1h.7v.7h-.7zM68.1 54.3h.7v.7h-.7zM98.2 48.2h.7v.7h-.7zM98.8 34.2h.7v.7h-.7zM92.3 42.4h.7v.7h-.7zM89.4 41.2h.7v.7h-.7zM100.6 55.4h.7v.7h-.7zM100.0 44.8h.7v.7h-.7zM85.0 37.0h.7v.7h-.7zM79.8 33.9h.7v.7h-.7zM96.3 44.3h.7v.7h-.7zM79.9 29.6h.7v.7h-.7zM103.2 35.4h.7v.7h-.7zM71.7 55.4h.7v.7h-.7zM74.3 29.9h.7v.7h-.7zM103.5 11.9h.7v.7h-.7zM50.5 75.0h.7v.7h-.7zM63.7 64.8h.7v.7h-.7zM29.5 71.6h.7v.7h-.7zM29.6 87.3h.7v.7h-.7zM37.1 62.3h.7v.7h-.7zM58.2 40.6h.7v.7h-.7zM78.3 33.7h.7v.7h-.7zM95.3 30.5h.7v.7h-.7zM63.4 55.3h.7v.7h-.7zM88.8 43.1h.7v.7h-.7zM80.4 49.9h.7v.7h-.7zM88.4 33.1h.7v.7h-.7zM37.7 91.4h.7v.7h-.7zM24.0 79.3h.7v.7h-.7zM18.2 64.6h.7v.7h-.7zM93.4 49.0h.7v.7h-.7zM70.9 44.8h.7v.7h-.7zM75.2 39.8h.7v.7h-.7zM38.2 95.5h.7v.7h-.7zM83.0 41.9h.7v.7h-.7zM93.2 47.5h.7v.7h-.7zM97.0 56.4h.7v.7h-.7zM50.0 67.5h.7v.7h-.7zM56.2 66.6h.7v.7h-.7zM77.8 46.6h.7v.7h-.7zM77.0 55.7h.7v.7h-.7zM47.0 81.7h.7v.7h-.7zM96.8 51.7h.7v.7h-.7zM91.3 45.3h.7v.7h-.7zM35.3 88.5h.7v.7h-.7zM40.3 66.6h.7v.7h-.7zM45.5 17.9h.7v.7h-.7zM88.2 48.3h.7v.7h-.7zM101.6 27.6h.7v.7h-.7zM95.7 50.4h.7v.7h-.7zM86.4 43.2h.7v.7h-.7zM51.6 60.4h.7v.7h-.7zM49.0 70.8h.7v.7h-.7zM31.5 69.0h.7v.7h-.7zM95.9 44.5h.7v.7h-.7zM31.8 75.0h.7v.7h-.7zM99.5 55.5h.7v.7h-.7zM77.3 38.2h.7v.7h-.7zM100.8 46.6h.7v.7h-.7zM86.2 53.8h.7v.7h-.7zM91.7 47.0h.7v.7h-.7zM26.6 89.0h.7v.7h-.7zM92.3 58.9h.7v.7h-.7zM38.2 73.5h.7v.7h-.7zM97.2 40.8h.7v.7h-.7zM44.5 65.6h.7v.7h-.7zM94.6 41.9h.7v.7h-.7zM77.9 59.4h.7v.7h-.7zM87.4 58.8h.7v.7h-.7zM98.7 38.5h.7v.7h-.7zM89.4 33.0h.7v.7h-.7zM25.6 80.5h.7v.7h-.7zM93.0 30.1h.7v.7h-.7zM91.2 40.5h.7v.7h-.7zM82.5 24.9h.7v.7h-.7zM50.9 91.3h.7v.7h-.7zM29.5 49.1h.7v.7h-.7zM62.8 57.7h.7v.7h-.7zM30.0 74.6h.7v.7h-.7zM97.0 49.0h.7v.7h-.7zM73.3 50.6h.7v.7h-.7zM46.6 79.6h.7v.7h-.7zM100.3 30.9h.7v.7h-.7zM60.4 87.2h.7v.7h-.7zM65.6 54.2h.7v.7h-.7zM90.0 30.9h.7v.7h-.7zM103.9 85.9h.7v.7h-.7zM46.9 76.1h.7v.7h-.7zM39.6 82.4h.7v.7h-.7zM101.2 30.2h.7v.7h-.7zM89.2 49.3h.7v.7h-.7zM64.2 37.1h.7v.7h-.7zM83.8 51.1h.7v.7h-.7zM89.6 33.0h.7v.7h-.7zM57.9 76.4h.7v.7h-.7zM21.1 83.6h.7v.7h-.7zM52.5 67.0h.7v.7h-.7zM54.5 87.1h.7v.7h-.7zM100.0 30.2h.7v.7h-.7zM97.9 42.6h.7v.7h-.7zM83.9 35.3h.7v.7h-.7zM80.2 44.1h.7v.7h-.7zM81.4 31.1h.7v.7h-.7zM41.9 72.3h.7v.7h-.7zM79.3 41.3h.7v.7h-.7zM25.0 79.7h.7v.7h-.7zM79.9 30.8h.7v.7h-.7zM101.9 37.3h.7v.7h-.7zM48.8 67.8h.7v.7h-.7zM95.6 41.6h.7v.7h-.7zM83.7 30.0h.7v.7h-.7zM94.9 44.2h.7v.7h-.7zM101.6 44.6h.7v.7h-.7zM34.0 77.0h.7v.7h-.7zM92.4 58.0h.7v.7h-.7zM100.8 35.9h.7v.7h-.7zM114.7 59.8h.7v.7h-.7zM64.3 48.3h.7v.7h-.7zM85.2 35.8h.7v.7h-.7zM98.6 37.0h.7v.7h-.7zM20.5 79.9h.7v.7h-.7zM92.1 43.1h.7v.7h-.7zM49.7 69.0h.7v.7h-.7zM22.8 86.4h.7v.7h-.7zM70.6 42.4h.7v.7h-.7zM55.0 60.9h.7v.7h-.7zM49.7 89.3h.7v.7h-.7zM84.2 27.9h.7v.7h-.7zM50.6 33.9h.7v.7h-.7zM26.7 73.7h.7v.7h-.7zM68.6 39.5h.7v.7h-.7zM96.2 41.7h.7v.7h-.7zM75.0 38.3h.7v.7h-.7zM95.0 32.9h.7v.7h-.7zM94.9 47.8h.7v.7h-.7zM94.1 57.9h.7v.7h-.7zM56.5 69.6h.7v.7h-.7zM55.4 48.2h.7v.7h-.7zM33.3 73.1h.7v.7h-.7zM98.0 48.2h.7v.7h-.7zM92.7 36.3h.7v.7h-.7zM114.3 87.9h.7v.7h-.7zM82.4 69.5h.7v.7h-.7zM90.3 29.9h.7v.7h-.7zM44.8 64.8h.7v.7h-.7zM50.6 72.5h.7v.7h-.7zM33.7 65.1h.7v.7h-.7zM87.8 49.9h.7v.7h-.7zM62.4 51.7h.7v.7h-.7zM100.8 48.3h.7v.7h-.7zM18.5 73.8h.7v.7h-.7zM98.0 43.1h.7v.7h-.7zM82.0 61.2h.7v.7h-.7zM89.8 50.1h.7v.7h-.7zM24.6 86.0h.7v.7h-.7zM64.3 60.0h.7v.7h-.7zM85.7 34.7h.7v.7h-.7zM27.8 72.9h.7v.7h-.7zM83.1 43.7h.7v.7h-.7zM45.1 67.8h.7v.7h-.7zM28.0 78.2h.7v.7h-.7zM53.0 67.8h.7v.7h-.7zM96.9 45.9h.7v.7h-.7zM54.2 73.2h.7v.7h-.7zM77.4 39.2h.7v.7h-.7zM41.1 45.3h.7v.7h-.7zM57.4 92.0h.7v.7h-.7zM67.2 27.1h.7v.7h-.7zM89.1 45.9h.7v.7h-.7zM95.6 36.9h.7v.7h-.7zM94.8 55.0h.7v.7h-.7zM29.6 69.1h.7v.7h-.7zM40.9 84.3h.7v.7h-.7zM64.1 59.2h.7v.7h-.7zM103.5 42.1h.7v.7h-.7zM36.8 82.3h.7v.7h-.7zM72.3 46.9h.7v.7h-.7zM71.6 44.1h.7v.7h-.7zM98.4 52.6h.7v.7h-.7zM23.4 83.9h.7v.7h-.7zM72.8 58.7h.7v.7h-.7zM55.4 61.0h.7v.7h-.7zM72.8 76.4h.7v.7h-.7zM102.0 28.3h.7v.7h-.7zM99.8 39.0h.7v.7h-.7zM26.4 10.6h.7v.7h-.7zM105.1 35.5h.7v.7h-.7zM34.8 66.5h.7v.7h-.7zM71.9 60.3h.7v.7h-.7zM32.7 81.3h.7v.7h-.7zM48.8 47.2h.7v.7h-.7zM65.5 35.7h.7v.7h-.7zM33.7 65.5h.7v.7h-.7zM77.7 55.7h.7v.7h-.7zM73.3 45.2h.7v.7h-.7zM93.2 43.9h.7v.7h-.7zM94.0 51.9h.7v.7h-.7zM33.9 74.8h.7v.7h-.7zM84.5 29.3h.7v.7h-.7zM69.5 47.5h.7v.7h-.7zM98.0 34.9h.7v.7h-.7zM49.3 79.1h.7v.7h-.7zM49.2 56.5h.7v.7h-.7zM31.3 74.9h.7v.7h-.7zM30.9 21.3h.7v.7h-.7zM100.8 55.4h.7v.7h-.7zM69.2 41.2h.7v.7h-.7zM95.6 38.3h.7v.7h-.7zM94.0 13.5h.7v.7h-.7zM89.2 69.8h.7v.7h-.7zM88.9 32.4h.7v.7h-.7zM41.5 93.9h.7v.7h-.7zM102.0 44.0h.7v.7h-.7zM63.1 48.5h.7v.7h-.7zM92.6 45.7h.7v.7h-.7zM41.6 78.0h.7v.7h-.7zM87.7 45.6h.7v.7h-.7zM88.6 47.5h.7v.7h-.7zM81.4 44.4h.7v.7h-.7zM47.8 70.0h.7v.7h-.7zM100.1 51.2h.7v.7h-.7zM19.0 69.4h.7v.7h-.7zM34.7 88.2h.7v.7h-.7zM77.8 39.5h.7v.7h-.7zM32.0 91.8h.7v.7h-.7zM28.3 96.4h.7v.7h-.7zM28.8 72.7h.7v.7h-.7zM43.0 90.1h.7v.7h-.7zM66.9 45.5h.7v.7h-.7zM35.7 65.9h.7v.7h-.7zM79.0 37.6h.7v.7h-.7zM28.9 78.9h.7v.7h-.7zM53.4 66.6h.7v.7h-.7zM90.3 35.3h.7v.7h-.7zM94.4 50.8h.7v.7h-.7zM94.4 58.1h.7v.7h-.7zM92.6 33.9h.7v.7h-.7zM50.6 52.4h.7v.7h-.7zM88.0 46.2h.7v.7h-.7zM50.5 52.7h.7v.7h-.7zM91.2 45.3h.7v.7h-.7zM77.2 38.2h.7v.7h-.7zM97.0 44.3h.7v.7h-.7zM99.6 33.0h.7v.7h-.7zM79.6 35.0h.7v.7h-.7zM39.2 64.3h.7v.7h-.7zM100.2 39.1h.7v.7h-.7zM102.0 30.6h.7v.7h-.7zM75.1 41.1h.7v.7h-.7zM66.2 47.4h.7v.7h-.7zM91.2 35.5h.7v.7h-.7zM88.7 41.5h.7v.7h-.7zM85.4 29.1h.7v.7h-.7zM58.0 66.8h.7v.7h-.7zM99.1 31.9h.7v.7h-.7zM78.4 39.9h.7v.7h-.7zM23.3 95.3h.7v.7h-.7zM95.5 32.8h.7v.7h-.7zM69.9 40.1h.7v.7h-.7zM38.1 69.2h.7v.7h-.7zM93.4 31.3h.7v.7h-.7zM81.1 48.9h.7v.7h-.7zM102.4 41.2h.7v.7h-.7zM91.1 51.2h.7v.7h-.7zM25.8 76.7h.7v.7h-.7zM36.2 72.3h.7v.7h-.7zM67.2 46.1h.7v.7h-.7zM41.7 63.0h.7v.7h-.7zM90.9 43.7h.7v.7h-.7zM65.9 43.8h.7v.7h-.7zM102.3 57.0h.7v.7h-.7zM97.3 35.8h.7v.7h-.7zM45.1 52.3h.7v.7h-.7zM31.3 72.5h.7v.7h-.7zM89.5 40.6h.7v.7h-.7zM58.0 64.7h.7v.7h-.7zM70.8 95.2h.7v.7h-.7zM93.0 43.7h.7v.7h-.7zM67.5 52.7h.7v.7h-.7zM50.9 63.2h.7v.7h-.7zM88.6 30.8h.7v.7h-.7zM91.2 53.6h.7v.7h-.7zM85.5 40.7h.7v.7h-.7zM90.4 44.7h.7v.7h-.7zM95.1 43.5h.7v.7h-.7zM41.8 82.8h.7v.7h-.7zM79.2 37.2h.7v.7h-.7zM88.3 49.7h.7v.7h-.7zM46.0 67.3h.7v.7h-.7zM46.6 85.1h.7v.7h-.7zM91.4 53.1h.7v.7h-.7zM59.5 45.6h.7v.7h-.7zM35.1 82.0h.7v.7h-.7zM42.2 78.6h.7v.7h-.7zM37.1 60.8h.7v.7h-.7zM52.5 62.9h.7v.7h-.7zM69.3 88.8h.7v.7h-.7zM89.6 42.5h.7v.7h-.7zM87.5 48.6h.7v.7h-.7zM87.4 33.3h.7v.7h-.7zM61.1 47.6h.7v.7h-.7zM68.6 55.6h.7v.7h-.7zM93.7 30.4h.7v.7h-.7zM33.2 79.0h.7v.7h-.7zM91.9 45.4h.7v.7h-.7zM88.6 43.7h.7v.7h-.7zM22.8 81.8h.7v.7h-.7zM79.9 88.3h.7v.7h-.7zM95.3 35.0h.7v.7h-.7zM33.7 95.7h.7v.7h-.7zM95.9 42.9h.7v.7h-.7zM29.9 83.6h.7v.7h-.7zM43.9 79.9h.7v.7h-.7zM81.4 37.4h.7v.7h-.7zM66.9 45.2h.7v.7h-.7zM40.1 66.4h.7v.7h-.7zM47.5 59.8h.7v.7h-.7zM45.8 73.8h.7v.7h-.7zM101.7 51.8h.7v.7h-.7zM90.8 32.2h.7v.7h-.7zM90.4 37.7h.7v.7h-.7zM95.6 44.0h.7v.7h-.7zM31.9 75.6h.7v.7h-.7zM104.0 33.9h.7v.7h-.7zM100.1 52.8h.7v.7h-.7zM102.9 42.7h.7v.7h-.7zM82.6 39.2h.7v.7h-.7zM23.1 83.2h.7v.7h-.7zM94.7 47.5h.7v.7h-.7zM72.2 36.6h.7v.7h-.7zM38.3 10.1h.7v.7h-.7zM85.9 30.2h.7v.7h-.7zM46.6 79.2h.7v.7h-.7zM26.9 80.9h.7v.7h-.7zM25.7 82.3h.7v.7h-.7zM47.3 75.4h.7v.7h-.7zM30.0 59.7h.7v.7h-.7zM71.1 38.3h.7v.7h-.7zM91.8 38.8h.7v.7h-.7zM76.1 97.7h.7v.7h-.7zM84.2 44.7h.7v.7h-.7zM71.0 58.9h.7v.7h-.7zM100.6 32.0h.7v.7h-.7zM34.6 81.4h.7v.7h-.7zM71.1 36.5h.7v.7h-.7zM77.7 35.4h.7v.7h-.7zM95.5 46.4h.7v.7h-.7zM99.3 45.8h.7v.7h-.7zM79.2 31.9h.7v.7h-.7zM91.3 29.2h.7v.7h-.7zM97.9 30.6h.7v.7h-.7zM86.5 31.9h.7v.7h-.7zM84.7 37.3h.7v.7h-.7zM28.3 73.6h.7v.7h-.7zM71.6 41.0h.7v.7h-.7zM99.1 50.9h.7v.7h-.7zM99.0 51.2h.7v.7h-.7zM72.1 24.1h.7v.7h-.7zM71.6 45.1h.7v.7h-.7zM65.0 37.6h.7v.7h-.7zM75.4 34.3h.7v.7h-.7zM95.1 41.9h.7v.7h-.7zM91.1 34.0h.7v.7h-.7zM62.0 59.6h.7v.7h-.7zM99.4 34.7h.7v.7h-.7zM47.8 61.3h.7v.7h-.7zM101.1 58.2h.7v.7h-.7zM33.1 68.7h.7v.7h-.7zM45.7 82.6h.7v.7h-.7zM87.2 80.9h.7v.7h-.7zM76.9 40.6h.7v.7h-.7zM40.0 70.5h.7v.7h-.7zM41.3 82.6h.7v.7h-.7zM90.2 47.3h.7v.7h-.7zM67.0 46.7h.7v.7h-.7zM46.4 47.0h.7v.7h-.7zM85.3 60.7h.7v.7h-.7zM31.6 73.3h.7v.7h-.7zM101.8 30.5h.7v.7h-.7zM83.8 38.7h.7v.7h-.7zM92.2 35.6h.7v.7h-.7zM66.8 37.3h.7v.7h-.7zM69.8 63.7h.7v.7h-.7zM48.2 75.4h.7v.7h-.7zM103.4 42.2h.7v.7h-.7zM32.1 80.4h.7v.7h-.7zM77.3 30.5h.7v.7h-.7zM96.4 58.0h.7v.7h-.7zM62.2 77.6h.7v.7h-.7zM32.0 82.5h.7v.7h-.7zM102.4 39.0h.7v.7h-.7zM33.2 53.5h.7v.7h-.7zM43.8 65.1h.7v.7h-.7zM100.3 43.2h.7v.7h-.7zM67.9 54.8h.7v.7h-.7zM67.5 48.5h.7v.7h-.7zM88.2 31.1h.7v.7h-.7zM59.7 87.4h.7v.7h-.7zM50.1 64.8h.7v.7h-.7zM47.6 81.3h.7v.7h-.7zM71.2 56.6h.7v.7h-.7zM69.4 32.5h.7v.7h-.7zM52.5 52.3h.7v.7h-.7zM93.4 46.2h.7v.7h-.7zM30.2 81.3h.7v.7h-.7zM97.2 40.1h.7v.7h-.7zM78.6 39.4h.7v.7h-.7zM87.3 48.7h.7v.7h-.7zM94.6 40.6h.7v.7h-.7zM41.0 81.0h.7v.7h-.7zM98.2 34.8h.7v.7h-.7zM38.0 73.1h.7v.7h-.7zM103.5 36.6h.7v.7h-.7zM93.2 55.1h.7v.7h-.7zM74.1 34.8h.7v.7h-.7zM36.4 70.0h.7v.7h-.7zM110.4 33.2h.7v.7h-.7zM92.9 29.5h.7v.7h-.7zM42.0 50.8h.7v.7h-.7zM95.4 47.2h.7v.7h-.7zM30.0 68.3h.7v.7h-.7zM33.6 52.7h.7v.7h-.7zM73.6 49.2h.7v.7h-.7zM54.5 67.7h.7v.7h-.7zM89.4 82.0h.7v.7h-.7zM78.9 45.0h.7v.7h-.7zM87.9 45.2h.7v.7h-.7zM43.1 76.1h.7v.7h-.7zM96.8 28.8h.7v.7h-.7zM86.9 27.6h.7v.7h-.7zM42.1 85.1h.7v.7h-.7zM100.9 43.7h.7v.7h-.7zM70.6 45.6h.7v.7h-.7zM70.6 33.1h.7v.7h-.7zM94.4 42.3h.7v.7h-.7zM86.9 46.1h.7v.7h-.7zM40.3 84.4h.7v.7h-.7zM68.7 38.5h.7v.7h-.7zM72.7 76.4h.7v.7h-.7zM99.4 31.5h.7v.7h-.7zM82.6 30.7h.7v.7h-.7zM97.8 54.4h.7v.7h-.7zM81.5 31.8h.7v.7h-.7zM86.6 42.2h.7v.7h-.7zM69.3 56.5h.7v.7h-.7zM100.6 45.1h.7v.7h-.7zM100.0 43.5h.7v.7h-.7zM34.0 80.1h.7v.7h-.7zM49.1 53.0h.7v.7h-.7zM83.7 56.5h.7v.7h-.7zM96.1 40.8h.7v.7h-.7zM89.1 31.7h.7v.7h-.7zM63.8 28.1h.7v.7h-.7zM98.8 50.2h.7v.7h-.7zM99.4 38.7h.7v.7h-.7zM98.2 42.5h.7v.7h-.7zM83.0 37.3h.7v.7h-.7zM94.9 36.7h.7v.7h-.7zM113.5 18.0h.7v.7h-.7zM20.7 93.1h.7v.7h-.7zM42.7 80.0h.7v.7h-.7zM59.7 77.1h.7v.7h-.7zM33.8 80.0h.7v.7h-.7zM92.9 41.1h.7v.7h-.7zM95.3 43.9h.7v.7h-.7zM86.3 31.0h.7v.7h-.7zM68.6 33.8h.7v.7h-.7zM63.5 50.0h.7v.7h-.7zM75.6 42.3h.7v.7h-.7zM47.4 71.7h.7v.7h-.7zM90.0 34.5h.7v.7h-.7zM74.1 43.4h.7v.7h-.7zM95.3 44.8h.7v.7h-.7zM79.7 50.6h.7v.7h-.7zM71.2 42.5h.7v.7h-.7zM79.1 52.3h.7v.7h-.7zM116.8 84.8h.7v.7h-.7zM92.7 51.4h.7v.7h-.7zM105.0 38.8h.7v.7h-.7zM36.1 73.0h.7v.7h-.7zM37.9 83.5h.7v.7h-.7zM92.9 46.6h.7v.7h-.7zM99.8 35.5h.7v.7h-.7zM100.3 33.1h.7v.7h-.7zM90.1 50.6h.7v.7h-.7zM87.8 43.6h.7v.7h-.7z" fill="#2a2a2a" fill-opacity="0.38"/>
</g>
<rect x="60.6" y="20.2" width="26.4" height="38.8" fill="none" stroke="#4a4a4a" stroke-width="0.8"/>
<rect x="87" y="18.5" width="21.5" height="24.5" fill="none" stroke="#3a3a3a" stroke-width="0.8"/>
<rect x="87" y="43" width="20.5" height="27" fill="none" stroke="#555" stroke-width="0.8"/>
<line x1="17.20" y1="8.60" x2="117.80" y2="8.60" stroke="#8a8a8a" stroke-width="0.8" />
<line x1="117.80" y1="8.60" x2="117.80" y2="99.20" stroke="#9a9a9a" stroke-width="0.8" />
<line x1="17.20" y1="8.60" x2="17.20" y2="99.20" stroke="#333" stroke-width="1.1" />
<line x1="17.20" y1="99.20" x2="117.80" y2="99.20" stroke="#333" stroke-width="1.1" />
<line x1="15.70" y1="17.00" x2="17.20" y2="17.00" stroke="#444" stroke-width="0.6" />
<line x1="15.70" y1="40.00" x2="17.20" y2="40.00" stroke="#444" stroke-width="0.6" />
<line x1="15.70" y1="63.00" x2="17.20" y2="63.00" stroke="#444" stroke-width="0.6" />
<line x1="15.70" y1="86.00" x2="17.20" y2="86.00" stroke="#444" stroke-width="0.6" />
<line x1="31.00" y1="99.20" x2="31.00" y2="100.70" stroke="#444" stroke-width="0.6" />
<line x1="56.00" y1="99.20" x2="56.00" y2="100.70" stroke="#444" stroke-width="0.6" />
<line x1="81.00" y1="99.20" x2="81.00" y2="100.70" stroke="#444" stroke-width="0.6" />
<line x1="106.00" y1="99.20" x2="106.00" y2="100.70" stroke="#444" stroke-width="0.6" />
<line x1="19.20" y1="99.20" x2="19.20" y2="100.00" stroke="#666" stroke-width="0.4" />
<line x1="16.40" y1="10.60" x2="17.20" y2="10.60" stroke="#666" stroke-width="0.4" />
<line x1="23.40" y1="99.20" x2="23.40" y2="100.00" stroke="#666" stroke-width="0.4" />
<line x1="16.40" y1="14.40" x2="17.20" y2="14.40" stroke="#666" stroke-width="0.4" />
<line x1="27.60" y1="99.20" x2="27.60" y2="100.00" stroke="#666" stroke-width="0.4" />
<line x1="16.40" y1="18.20" x2="17.20" y2="18.20" stroke="#666" stroke-width="0.4" />
<line x1="31.80" y1="99.20" x2="31.80" y2="100.00" stroke="#666" stroke-width="0.4" />
<line x1="16.40" y1="22.00" x2="17.20" y2="22.00" stroke="#666" stroke-width="0.4" />
<line x1="36.00" y1="99.20" x2="36.00" y2="100.00" stroke="#666" stroke-width="0.4" />
<line x1="16.40" y1="25.80" x2="17.20" y2="25.80" stroke="#666" stroke-width="0.4" />
<line x1="40.20" y1="99.20" x2="40.20" y2="100.00" stroke="#666" stroke-width="0.4" />
<line x1="16.40" y1="29.60" x2="17.20" y2="29.60" stroke="#666" stroke-width="0.4" />
<line x1="44.40" y1="99.20" x2="44.40" y2="100.00" stroke="#666" stroke-width="0.4" />
<line x1="16.40" y1="33.40" x2="17.20" y2="33.40" stroke="#666" stroke-width="0.4" />
<line x1="48.60" y1="99.20" x2="48.60" y2="100.00" stroke="#666" stroke-width="0.4" />
<line x1="16.40" y1="37.20" x2="17.20" y2="37.20" stroke="#666" stroke-width="0.4" />
<line x1="52.80" y1="99.20" x2="52.80" y2="100.00" stroke="#666" stroke-width="0.4" />
<line x1="16.40" y1="41.00" x2="17.20" y2="41.00" stroke="#666" stroke-width="0.4" />
<line x1="57.00" y1="99.20" x2="57.00" y2="100.00" stroke="#666" stroke-width="0.4" />
<line x1="16.40" y1="44.80" x2="17.20" y2="44.80" stroke="#666" stroke-width="0.4" />
<line x1="61.20" y1="99.20" x2="61.20" y2="100.00" stroke="#666" stroke-width="0.4" />
<line x1="16.40" y1="48.60" x2="17.20" y2="48.60" stroke="#666" stroke-width="0.4" />
<line x1="65.40" y1="99.20" x2="65.40" y2="100.00" stroke="#666" stroke-width="0.4" />
<line x1="16.40" y1="52.40" x2="17.20" y2="52.40" stroke="#666" stroke-width="0.4" />
<line x1="69.60" y1="99.20" x2="69.60" y2="100.00" stroke="#666" stroke-width="0.4" />
<line x1="16.40" y1="56.20" x2="17.20" y2="56.20" stroke="#666" stroke-width="0.4" />
<line x1="73.80" y1="99.20" x2="73.80" y2="100.00" stroke="#666" stroke-width="0.4" />
<line x1="16.40" y1="60.00" x2="17.20" y2="60.00" stroke="#666" stroke-width="0.4" />
<line x1="78.00" y1="99.20" x2="78.00" y2="100.00" stroke="#666" stroke-width="0.4" />
<line x1="16.40" y1="63.80" x2="17.20" y2="63.80" stroke="#666" stroke-width="0.4" />
<line x1="82.20" y1="99.20" x2="82.20" y2="100.00" stroke="#666" stroke-width="0.4" />
<line x1="16.40" y1="67.60" x2="17.20" y2="67.60" stroke="#666" stroke-width="0.4" />
<line x1="86.40" y1="99.20" x2="86.40" y2="100.00" stroke="#666" stroke-width="0.4" />
<line x1="16.40" y1="71.40" x2="17.20" y2="71.40" stroke="#666" stroke-width="0.4" />
<line x1="90.60" y1="99.20" x2="90.60" y2="100.00" stroke="#666" stroke-width="0.4" />
<line x1="16.40" y1="75.20" x2="17.20" y2="75.20" stroke="#666" stroke-width="0.4" />
<line x1="94.80" y1="99.20" x2="94.80" y2="100.00" stroke="#666" stroke-width="0.4" />
<line x1="16.40" y1="79.00" x2="17.20" y2="79.00" stroke="#666" stroke-width="0.4" />
<line x1="99.00" y1="99.20" x2="99.00" y2="100.00" stroke="#666" stroke-width="0.4" />
<line x1="16.40" y1="82.80" x2="17.20" y2="82.80" stroke="#666" stroke-width="0.4" />
<line x1="103.20" y1="99.20" x2="103.20" y2="100.00" stroke="#666" stroke-width="0.4" />
<line x1="16.40" y1="86.60" x2="17.20" y2="86.60" stroke="#666" stroke-width="0.4" />
<line x1="107.40" y1="99.20" x2="107.40" y2="100.00" stroke="#666" stroke-width="0.4" />
<line x1="16.40" y1="90.40" x2="17.20" y2="90.40" stroke="#666" stroke-width="0.4" />
<line x1="111.60" y1="99.20" x2="111.60" y2="100.00" stroke="#666" stroke-width="0.4" />
<line x1="16.40" y1="94.20" x2="17.20" y2="94.20" stroke="#666" stroke-width="0.4" />
<line x1="115.80" y1="99.20" x2="115.80" y2="100.00" stroke="#666" stroke-width="0.4" />
<line x1="16.40" y1="98.00" x2="17.20" y2="98.00" stroke="#666" stroke-width="0.4" />
<text x="30.4" y="106.8" font-size="4.2" text-anchor="middle" fill="#444">10<tspan font-size="3" dy="-1.6">1</tspan></text>
<text x="55.4" y="106.8" font-size="4.2" text-anchor="middle" fill="#444">10<tspan font-size="3" dy="-1.6">2</tspan></text>
<text x="80.4" y="106.8" font-size="4.2" text-anchor="middle" fill="#444">10<tspan font-size="3" dy="-1.6">3</tspan></text>
<text x="105.4" y="106.8" font-size="4.2" text-anchor="middle" fill="#444">10<tspan font-size="3" dy="-1.6">4</tspan></text>
<text transform="translate(14.6,86.6) rotate(-90)" font-size="4.2" text-anchor="middle" fill="#444">10<tspan font-size="3" dy="-1.6">1</tspan></text>
<text transform="translate(14.6,63.6) rotate(-90)" font-size="4.2" text-anchor="middle" fill="#444">10<tspan font-size="3" dy="-1.6">2</tspan></text>
<text transform="translate(14.6,40.6) rotate(-90)" font-size="4.2" text-anchor="middle" fill="#444">10<tspan font-size="3" dy="-1.6">3</tspan></text>
<text transform="translate(14.6,17.6) rotate(-90)" font-size="4.2" text-anchor="middle" fill="#444">10<tspan font-size="3" dy="-1.6">4</tspan></text>
<text x="20.30" y="15.30" font-size="4.5" text-anchor="start" fill="#222" font-weight="normal" stroke="#333" stroke-width="0.15">promyelocytes + myelocytes</text>
<text x="95.60" y="13.60" font-size="4.6" text-anchor="start" fill="#222" font-weight="normal" stroke="#333" stroke-width="0.15">mature</text>
<text x="92.00" y="78.60" font-size="4.7" text-anchor="start" fill="#222" font-weight="normal" stroke="#333" stroke-width="0.15">immature</text>
<text transform="translate(10.25,52.00) rotate(-90)" font-size="7.9" text-anchor="middle" fill="#222" >CD11b</text>
<text x="66.80" y="113.50" font-size="7.6" text-anchor="start" fill="#222" font-weight="normal" >Gr-1</text>
<defs><filter id="mottle" x="-20%" y="-20%" width="140%" height="140%"><feTurbulence type="fractalNoise" baseFrequency="0.55" numOctaves="2" seed="5" result="n"/><feColorMatrix in="n" type="matrix" values="0 0 0 0 0.30  0 0 0 0 0.02  0 0 0 0 0.36  4.2 0 0 0 -1.7" result="dk"/><feComposite in="dk" in2="SourceGraphic" operator="in" result="dk2"/><feMerge result="m"><feMergeNode in="SourceGraphic"/><feMergeNode in="dk2"/></feMerge><feGaussianBlur in="m" stdDeviation="0.45"/></filter><filter id="halo" x="-30%" y="-30%" width="160%" height="160%"><feGaussianBlur stdDeviation="1.1"/></filter><filter id="bgn" x="0" y="0" width="100%" height="100%"><feTurbulence type="fractalNoise" baseFrequency="0.12" numOctaves="3" seed="2" result="n"/><feColorMatrix in="n" type="matrix" values="0 0 0 0 0.82  0 0 0 0 0.83  0 0 0 0 0.83  1.2 0 0 0 -0.45" result="c"/><feComposite in="c" in2="SourceGraphic" operator="in" result="c2"/><feMerge><feMergeNode in="SourceGraphic"/><feMergeNode in="c2"/></feMerge></filter></defs>
<defs><clipPath id="cp1"><rect x="130.3" y="0" width="53.2" height="53.5"/></clipPath><clipPath id="cp2"><rect x="131" y="65.6" width="53.5" height="53"/></clipPath><clipPath id="cp3"><rect x="191" y="32" width="53.7" height="53"/></clipPath></defs>
<g clip-path="url(#cp1)">
<rect x="130.3" y="0" width="53.2" height="53.5" fill="#e0dfe1" filter="url(#bgn)"/>
<path d="M136 17 C135.5 13 138 11 140 11.5 C141 12 141.6 12.4 142.6 11 C144 10.4 145.2 11.4 146 12.2 C146.8 11 147.6 10.6 148.6 10.8 C150.6 11.2 152 12.8 152 15.5 C153.5 18.5 153.2 23 150.6 25.6 C148 28.2 143 28.8 139.6 26.8 C136.6 25 135.4 21 136 17 Z" fill="#e2a8e2" stroke="#e2a8e2" stroke-width="2.6" filter="url(#halo)"/>
<path d="M157.2 32 C157 27.5 160.5 25.4 164.5 25.6 C169 25.4 173.6 27.5 174.2 31.8 C174.8 36.5 171.6 40 166.6 40.2 C161.6 40.6 157.4 37 157.2 32 Z" fill="#e2a8e2" stroke="#e2a8e2" stroke-width="2.6" filter="url(#halo)"/>
<path d="M136 17 C135.5 13 138 11 140 11.5 C141 12 141.6 12.4 142.6 11 C144 10.4 145.2 11.4 146 12.2 C146.8 11 147.6 10.6 148.6 10.8 C150.6 11.2 152 12.8 152 15.5 C153.5 18.5 153.2 23 150.6 25.6 C148 28.2 143 28.8 139.6 26.8 C136.6 25 135.4 21 136 17 Z" fill="#6c1c7a" filter="url(#blur05)"/>
<clipPath id="k1"><path d="M136 17 C135.5 13 138 11 140 11.5 C141 12 141.6 12.4 142.6 11 C144 10.4 145.2 11.4 146 12.2 C146.8 11 147.6 10.6 148.6 10.8 C150.6 11.2 152 12.8 152 15.5 C153.5 18.5 153.2 23 150.6 25.6 C148 28.2 143 28.8 139.6 26.8 C136.6 25 135.4 21 136 17 Z"/></clipPath>
<g clip-path="url(#k1)"><g filter="url(#blur05)" opacity="0.75">
<circle cx="137.4" cy="26.1" r="1.7" fill="#3e0a4c"/>
<circle cx="139.6" cy="19.4" r="1.4" fill="#3e0a4c"/>
<circle cx="146.7" cy="25.0" r="1.0" fill="#3e0a4c"/>
<circle cx="135.5" cy="25.9" r="1.4" fill="#3e0a4c"/>
<circle cx="148.7" cy="10.0" r="1.4" fill="#3e0a4c"/>
<circle cx="148.0" cy="14.3" r="1.9" fill="#3e0a4c"/>
<circle cx="151.2" cy="10.6" r="0.9" fill="#3e0a4c"/>
<circle cx="144.7" cy="27.8" r="1.3" fill="#3e0a4c"/>
<circle cx="138.9" cy="18.0" r="0.9" fill="#3e0a4c"/>
<circle cx="139.0" cy="18.3" r="1.4" fill="#3e0a4c"/>
<circle cx="139.2" cy="14.4" r="1.1" fill="#3e0a4c"/>
<circle cx="143.3" cy="15.5" r="0.9" fill="#3e0a4c"/>
<circle cx="150.1" cy="20.6" r="1.6" fill="#3e0a4c"/>
<circle cx="138.3" cy="28.9" r="1.8" fill="#3e0a4c"/>
<circle cx="137.2" cy="16.3" r="1.7" fill="#3e0a4c"/>
<circle cx="147.8" cy="27.8" r="1.4" fill="#3e0a4c"/>
<circle cx="149.9" cy="22.7" r="1.2" fill="#3e0a4c"/>
<circle cx="145.6" cy="26.8" r="1.8" fill="#3e0a4c"/>
<circle cx="144.1" cy="21.2" r="0.9" fill="#3e0a4c"/>
<circle cx="139.4" cy="25.2" r="1.4" fill="#3e0a4c"/>
<circle cx="138.1" cy="20.4" r="1.7" fill="#3e0a4c"/>
<circle cx="147.1" cy="17.1" r="1.4" fill="#3e0a4c"/>
<circle cx="144.2" cy="24.8" r="1.5" fill="#3e0a4c"/>
<circle cx="142.1" cy="19.3" r="0.9" fill="#3e0a4c"/>
<circle cx="135.8" cy="23.4" r="2.0" fill="#3e0a4c"/>
<circle cx="145.7" cy="17.5" r="1.1" fill="#3e0a4c"/>
<circle cx="144.0" cy="28.7" r="1.7" fill="#3e0a4c"/>
<circle cx="144.7" cy="26.3" r="1.2" fill="#3e0a4c"/>
<circle cx="144.2" cy="28.1" r="1.5" fill="#3e0a4c"/>
<circle cx="143.3" cy="15.1" r="1.5" fill="#3e0a4c"/>
<circle cx="152.2" cy="10.1" r="1.8" fill="#3e0a4c"/>
<circle cx="149.8" cy="26.8" r="1.7" fill="#3e0a4c"/>
<circle cx="149.6" cy="19.9" r="1.5" fill="#3e0a4c"/>
<circle cx="142.7" cy="11.1" r="1.9" fill="#3e0a4c"/>
<circle cx="145.3" cy="13.8" r="1.5" fill="#3e0a4c"/>
<circle cx="143.7" cy="16.8" r="1.3" fill="#3e0a4c"/>
<circle cx="144.7" cy="21.8" r="1.6" fill="#3e0a4c"/>
<circle cx="143.2" cy="10.5" r="1.2" fill="#3e0a4c"/>
<circle cx="138.2" cy="21.1" r="1.8" fill="#3e0a4c"/>
<circle cx="149.4" cy="25.1" r="1.8" fill="#3e0a4c"/>
<circle cx="139.6" cy="26.0" r="1.6" fill="#3e0a4c"/>
<circle cx="136.5" cy="10.3" r="0.9" fill="#3e0a4c"/>
<circle cx="148.6" cy="14.7" r="1.0" fill="#3e0a4c"/>
<circle cx="146.2" cy="16.5" r="1.0" fill="#3e0a4c"/>
<circle cx="137.9" cy="20.0" r="1.1" fill="#3e0a4c"/>
<circle cx="139.9" cy="23.5" r="1.4" fill="#3e0a4c"/>
<circle cx="140.8" cy="19.0" r="0.9" fill="#3e0a4c"/>
<circle cx="142.0" cy="18.0" r="1.1" fill="#3e0a4c"/>
<circle cx="137.0" cy="27.1" r="1.5" fill="#3e0a4c"/>
<circle cx="138.8" cy="21.5" r="1.8" fill="#3e0a4c"/>
<circle cx="135.4" cy="10.3" r="1.1" fill="#3e0a4c"/>
<circle cx="147.9" cy="13.0" r="1.7" fill="#3e0a4c"/>
<circle cx="147.2" cy="20.3" r="1.1" fill="#3e0a4c"/>
<circle cx="152.6" cy="25.2" r="1.5" fill="#3e0a4c"/>
<circle cx="139.0" cy="22.3" r="1.3" fill="#3e0a4c"/>
<circle cx="145.4" cy="16.1" r="1.6" fill="#3e0a4c"/>
<circle cx="136.1" cy="15.7" r="2.0" fill="#3e0a4c"/>
<circle cx="150.8" cy="15.8" r="1.8" fill="#3e0a4c"/>
<circle cx="140.6" cy="27.8" r="1.7" fill="#3e0a4c"/>
<circle cx="142.5" cy="14.8" r="0.9" fill="#3e0a4c"/>
</g></g>
<path d="M157.2 32 C157 27.5 160.5 25.4 164.5 25.6 C169 25.4 173.6 27.5 174.2 31.8 C174.8 36.5 171.6 40 166.6 40.2 C161.6 40.6 157.4 37 157.2 32 Z" fill="#661a74" filter="url(#blur05)"/>
<clipPath id="k2"><path d="M157.2 32 C157 27.5 160.5 25.4 164.5 25.6 C169 25.4 173.6 27.5 174.2 31.8 C174.8 36.5 171.6 40 166.6 40.2 C161.6 40.6 157.4 37 157.2 32 Z"/></clipPath>
<g clip-path="url(#k2)"><g filter="url(#blur05)" opacity="0.75">
<circle cx="174.2" cy="40.2" r="1.0" fill="#3e0a4c"/>
<circle cx="158.5" cy="38.4" r="1.7" fill="#3e0a4c"/>
<circle cx="169.1" cy="29.9" r="1.6" fill="#3e0a4c"/>
<circle cx="167.9" cy="34.3" r="1.1" fill="#3e0a4c"/>
<circle cx="164.8" cy="31.3" r="1.7" fill="#3e0a4c"/>
<circle cx="174.9" cy="40.2" r="1.5" fill="#3e0a4c"/>
<circle cx="165.0" cy="29.3" r="0.9" fill="#3e0a4c"/>
<circle cx="157.5" cy="32.4" r="1.3" fill="#3e0a4c"/>
<circle cx="163.8" cy="39.3" r="1.5" fill="#3e0a4c"/>
<circle cx="167.1" cy="28.8" r="0.9" fill="#3e0a4c"/>
<circle cx="162.9" cy="27.2" r="1.5" fill="#3e0a4c"/>
<circle cx="175.0" cy="35.8" r="1.1" fill="#3e0a4c"/>
<circle cx="173.1" cy="37.7" r="1.7" fill="#3e0a4c"/>
<circle cx="173.3" cy="37.2" r="1.8" fill="#3e0a4c"/>
<circle cx="163.4" cy="40.7" r="2.0" fill="#3e0a4c"/>
<circle cx="159.9" cy="37.1" r="1.7" fill="#3e0a4c"/>
<circle cx="165.3" cy="33.5" r="1.4" fill="#3e0a4c"/>
<circle cx="173.6" cy="33.0" r="1.8" fill="#3e0a4c"/>
<circle cx="163.4" cy="39.1" r="1.9" fill="#3e0a4c"/>
<circle cx="165.3" cy="34.1" r="1.9" fill="#3e0a4c"/>
<circle cx="170.0" cy="32.8" r="1.1" fill="#3e0a4c"/>
<circle cx="162.8" cy="36.2" r="1.1" fill="#3e0a4c"/>
<circle cx="173.3" cy="29.3" r="1.9" fill="#3e0a4c"/>
<circle cx="162.6" cy="40.3" r="1.7" fill="#3e0a4c"/>
<circle cx="166.1" cy="33.3" r="1.6" fill="#3e0a4c"/>
<circle cx="167.6" cy="30.0" r="1.1" fill="#3e0a4c"/>
<circle cx="166.2" cy="39.9" r="1.6" fill="#3e0a4c"/>
<circle cx="158.4" cy="38.1" r="1.7" fill="#3e0a4c"/>
<circle cx="173.3" cy="28.1" r="1.7" fill="#3e0a4c"/>
<circle cx="158.1" cy="35.4" r="1.2" fill="#3e0a4c"/>
<circle cx="161.1" cy="39.0" r="1.0" fill="#3e0a4c"/>
<circle cx="166.4" cy="38.7" r="1.2" fill="#3e0a4c"/>
<circle cx="160.8" cy="39.1" r="1.4" fill="#3e0a4c"/>
<circle cx="169.9" cy="25.5" r="1.3" fill="#3e0a4c"/>
<circle cx="160.1" cy="35.8" r="1.0" fill="#3e0a4c"/>
<circle cx="174.2" cy="25.4" r="1.7" fill="#3e0a4c"/>
<circle cx="157.4" cy="29.1" r="1.8" fill="#3e0a4c"/>
<circle cx="159.8" cy="27.9" r="1.7" fill="#3e0a4c"/>
<circle cx="163.9" cy="25.7" r="2.0" fill="#3e0a4c"/>
<circle cx="159.7" cy="25.6" r="1.3" fill="#3e0a4c"/>
<circle cx="168.1" cy="36.9" r="1.0" fill="#3e0a4c"/>
<circle cx="163.1" cy="25.5" r="1.4" fill="#3e0a4c"/>
<circle cx="170.8" cy="36.8" r="1.9" fill="#3e0a4c"/>
<circle cx="170.6" cy="38.8" r="1.7" fill="#3e0a4c"/>
<circle cx="165.5" cy="28.6" r="1.6" fill="#3e0a4c"/>
<circle cx="162.7" cy="26.6" r="1.4" fill="#3e0a4c"/>
<circle cx="172.7" cy="27.0" r="1.5" fill="#3e0a4c"/>
<circle cx="164.1" cy="33.2" r="1.1" fill="#3e0a4c"/>
<circle cx="174.3" cy="29.1" r="1.6" fill="#3e0a4c"/>
<circle cx="164.6" cy="25.3" r="1.5" fill="#3e0a4c"/>
<circle cx="159.5" cy="25.9" r="0.9" fill="#3e0a4c"/>
<circle cx="159.9" cy="26.5" r="1.6" fill="#3e0a4c"/>
<circle cx="166.1" cy="40.7" r="1.9" fill="#3e0a4c"/>
<circle cx="174.9" cy="28.7" r="1.4" fill="#3e0a4c"/>
<circle cx="161.5" cy="34.5" r="1.6" fill="#3e0a4c"/>
</g></g>
<path d="M139.6 18.8 C142.8 18.2 146.4 19.6 148.6 21.4 C146.8 23.6 142.6 22.8 139.6 18.8 Z M143.5 17.6 L145.5 17.4 L145 19.4 Z" fill="#f6e2f6" filter="url(#blur05)"/>
<path d="M164.8 36.4 C166.4 34 168.2 31.6 170.6 29.6 C170.6 32.6 168.6 35.8 164.8 36.4 Z M162.6 35.4 L166.6 34.2 L165.8 36.6 Z M167.6 33.4 L171 34 L168.6 35.4 Z" fill="#f4def4" filter="url(#blur05)"/>
<circle cx="156.6" cy="11.2" r="1.5" fill="none" stroke="#cdbfd3" stroke-width="0.7" filter="url(#blur05)"/>
</g>
<g clip-path="url(#cp2)">
<rect x="131" y="65.6" width="53.5" height="53" fill="#dddbe1" filter="url(#bgn)"/>
<path d="M144.8 87.5 C144.4 81.5 148.6 77.6 153.6 78 C156.5 76 162.5 75.8 166 77.2 C170 78.4 172 82 171.6 86 C172.6 90.8 170.6 95.6 166.8 98 C163.5 100.4 160.2 100.6 157.8 99.5 C155.2 101 151.2 100.6 148.8 97.8 C145.8 95 144.8 91.4 144.8 87.5 Z" fill="#e4b2ea" stroke="#e4b2ea" stroke-width="3" filter="url(#halo)"/>
<path d="M144.8 87.5 C144.4 81.5 148.6 77.6 153.6 78 C156.5 76 162.5 75.8 166 77.2 C170 78.4 172 82 171.6 86 C172.6 90.8 170.6 95.6 166.8 98 C163.5 100.4 160.2 100.6 157.8 99.5 C155.2 101 151.2 100.6 148.8 97.8 C145.8 95 144.8 91.4 144.8 87.5 Z" fill="#8a2aa8" filter="url(#blur05)"/>
<clipPath id="k3"><path d="M144.8 87.5 C144.4 81.5 148.6 77.6 153.6 78 C156.5 76 162.5 75.8 166 77.2 C170 78.4 172 82 171.6 86 C172.6 90.8 170.6 95.6 166.8 98 C163.5 100.4 160.2 100.6 157.8 99.5 C155.2 101 151.2 100.6 148.8 97.8 C145.8 95 144.8 91.4 144.8 87.5 Z"/></clipPath>
<g clip-path="url(#k3)"><g filter="url(#blur05)" opacity="0.6">
<circle cx="150.9" cy="89.6" r="1.5" fill="#5a0f78"/>
<circle cx="161.5" cy="91.6" r="1.1" fill="#5a0f78"/>
<circle cx="144.4" cy="96.9" r="1.3" fill="#5a0f78"/>
<circle cx="150.8" cy="100.9" r="1.6" fill="#5a0f78"/>
<circle cx="168.3" cy="87.9" r="1.8" fill="#5a0f78"/>
<circle cx="148.4" cy="91.9" r="2.1" fill="#5a0f78"/>
<circle cx="159.2" cy="94.5" r="1.9" fill="#5a0f78"/>
<circle cx="145.9" cy="95.0" r="1.8" fill="#5a0f78"/>
<circle cx="152.7" cy="76.8" r="2.1" fill="#5a0f78"/>
<circle cx="157.7" cy="94.0" r="2.1" fill="#5a0f78"/>
<circle cx="164.7" cy="99.0" r="1.5" fill="#5a0f78"/>
<circle cx="167.2" cy="87.1" r="2.2" fill="#5a0f78"/>
<circle cx="169.5" cy="78.4" r="1.2" fill="#5a0f78"/>
<circle cx="150.3" cy="100.1" r="1.6" fill="#5a0f78"/>
<circle cx="162.2" cy="83.5" r="1.7" fill="#5a0f78"/>
<circle cx="155.2" cy="84.8" r="1.8" fill="#5a0f78"/>
<circle cx="160.9" cy="98.6" r="1.9" fill="#5a0f78"/>
<circle cx="170.9" cy="97.4" r="2.3" fill="#5a0f78"/>
<circle cx="163.5" cy="80.1" r="2.1" fill="#5a0f78"/>
<circle cx="172.0" cy="98.6" r="1.7" fill="#5a0f78"/>
<circle cx="164.7" cy="81.3" r="2.1" fill="#5a0f78"/>
<circle cx="160.6" cy="83.1" r="1.1" fill="#5a0f78"/>
<circle cx="168.8" cy="100.7" r="1.1" fill="#5a0f78"/>
<circle cx="167.2" cy="86.3" r="1.2" fill="#5a0f78"/>
<circle cx="152.5" cy="95.2" r="2.1" fill="#5a0f78"/>
<circle cx="145.3" cy="91.4" r="1.1" fill="#5a0f78"/>
<circle cx="164.8" cy="84.3" r="2.1" fill="#5a0f78"/>
<circle cx="172.4" cy="88.6" r="2.3" fill="#5a0f78"/>
<circle cx="153.0" cy="77.9" r="1.8" fill="#5a0f78"/>
<circle cx="144.9" cy="80.9" r="1.5" fill="#5a0f78"/>
<circle cx="161.7" cy="79.9" r="1.1" fill="#5a0f78"/>
<circle cx="169.2" cy="83.8" r="2.2" fill="#5a0f78"/>
<circle cx="170.0" cy="85.4" r="1.6" fill="#5a0f78"/>
<circle cx="159.1" cy="92.1" r="1.8" fill="#5a0f78"/>
<circle cx="160.2" cy="91.5" r="2.2" fill="#5a0f78"/>
<circle cx="158.7" cy="86.8" r="1.9" fill="#5a0f78"/>
<circle cx="150.9" cy="83.5" r="2.3" fill="#5a0f78"/>
<circle cx="159.1" cy="89.7" r="1.0" fill="#5a0f78"/>
<circle cx="156.0" cy="90.5" r="1.0" fill="#5a0f78"/>
<circle cx="161.9" cy="91.8" r="1.1" fill="#5a0f78"/>
<circle cx="162.2" cy="87.7" r="1.9" fill="#5a0f78"/>
<circle cx="154.2" cy="93.7" r="2.0" fill="#5a0f78"/>
<circle cx="144.6" cy="77.5" r="1.9" fill="#5a0f78"/>
<circle cx="171.9" cy="82.3" r="1.6" fill="#5a0f78"/>
<circle cx="161.2" cy="84.0" r="1.5" fill="#5a0f78"/>
<circle cx="153.1" cy="85.2" r="1.8" fill="#5a0f78"/>
<circle cx="152.7" cy="85.4" r="2.0" fill="#5a0f78"/>
<circle cx="144.8" cy="90.2" r="2.0" fill="#5a0f78"/>
<circle cx="153.0" cy="81.6" r="2.0" fill="#5a0f78"/>
<circle cx="150.9" cy="80.7" r="1.6" fill="#5a0f78"/>
<circle cx="164.2" cy="78.5" r="1.4" fill="#5a0f78"/>
<circle cx="153.7" cy="96.8" r="1.6" fill="#5a0f78"/>
<circle cx="168.8" cy="80.2" r="1.4" fill="#5a0f78"/>
<circle cx="162.9" cy="98.1" r="1.6" fill="#5a0f78"/>
<circle cx="150.5" cy="79.0" r="1.7" fill="#5a0f78"/>
<circle cx="149.5" cy="96.2" r="2.1" fill="#5a0f78"/>
<circle cx="149.3" cy="83.0" r="2.0" fill="#5a0f78"/>
<circle cx="162.6" cy="96.2" r="1.4" fill="#5a0f78"/>
<circle cx="147.8" cy="83.3" r="2.0" fill="#5a0f78"/>
<circle cx="151.9" cy="84.7" r="1.5" fill="#5a0f78"/>
<circle cx="156.2" cy="86.2" r="2.2" fill="#5a0f78"/>
<circle cx="148.5" cy="76.1" r="2.2" fill="#5a0f78"/>
<circle cx="169.5" cy="100.7" r="1.6" fill="#5a0f78"/>
<circle cx="171.6" cy="99.2" r="1.3" fill="#5a0f78"/>
<circle cx="165.6" cy="96.9" r="1.9" fill="#5a0f78"/>
<circle cx="159.1" cy="83.2" r="1.4" fill="#5a0f78"/>
<circle cx="150.6" cy="77.7" r="1.8" fill="#5a0f78"/>
<circle cx="152.3" cy="96.3" r="1.1" fill="#5a0f78"/>
<circle cx="170.2" cy="93.3" r="2.2" fill="#5a0f78"/>
<circle cx="170.0" cy="98.5" r="1.8" fill="#5a0f78"/>
</g></g>
<circle cx="157.6" cy="87.2" r="1.7" fill="#f3d8f4" filter="url(#blur05)"/>
<path d="M157.6 95 L156 99.4 L158.2 99 Z" fill="#ecc8ef" filter="url(#blur05)"/>
<path d="M168 68 C172 70 176 72 179 76" stroke="#d9c6de" stroke-width="2" fill="none" filter="url(#blur05)"/>
<circle cx="158.8" cy="103.3" r="1" fill="#4a3a55" filter="url(#blur05)"/>
<circle cx="140.6" cy="113.2" r="1.2" fill="#3a3050" filter="url(#blur05)"/>
</g>
<g clip-path="url(#cp3)">
<rect x="191" y="32" width="53.7" height="53" fill="#e1e0e2" filter="url(#bgn)"/>
<ellipse cx="213.8" cy="45.2" rx="9.1" ry="6.9" fill="#dd9fe0" transform="rotate(22 213.8 45.2)" filter="url(#halo)"/>
<ellipse cx="214.6" cy="56.8" rx="6.9" ry="7.1000000000000005" fill="#dd9fe0" transform="rotate(-20 214.6 56.8)" filter="url(#halo)"/>
<ellipse cx="206.8" cy="65.0" rx="6.7" ry="7.5" fill="#dd9fe0" transform="rotate(-35 206.8 65.0)" filter="url(#halo)"/>
<ellipse cx="214.6" cy="70.8" rx="7.2" ry="6.9" fill="#dd9fe0" transform="rotate(-30 214.6 70.8)" filter="url(#halo)"/>
<ellipse cx="213.8" cy="45.2" rx="8.2" ry="6.0" fill="#4c0c5a" transform="rotate(22 213.8 45.2)" filter="url(#blur05)"/>
<ellipse cx="214.6" cy="56.8" rx="6.0" ry="6.2" fill="#4c0c5a" transform="rotate(-20 214.6 56.8)" filter="url(#blur05)"/>
<ellipse cx="206.8" cy="65.0" rx="5.8" ry="6.6" fill="#4c0c5a" transform="rotate(-35 206.8 65.0)" filter="url(#blur05)"/>
<ellipse cx="214.6" cy="70.8" rx="6.3" ry="6.0" fill="#4c0c5a" transform="rotate(-30 214.6 70.8)" filter="url(#blur05)"/>
<ellipse cx="212.2" cy="45.4" rx="3.28" ry="1.80" fill="#e98fe2" transform="rotate(-18 212.2 45.4)" filter="url(#blur05)"/>
<ellipse cx="214.8" cy="56.8" rx="2.40" ry="1.86" fill="#e98fe2" transform="rotate(-60 214.8 56.8)" filter="url(#blur05)"/>
<ellipse cx="207.4" cy="64.6" rx="2.32" ry="1.98" fill="#e98fe2" transform="rotate(-75 207.4 64.6)" filter="url(#blur05)"/>
<ellipse cx="215.4" cy="71.0" rx="2.52" ry="1.80" fill="#e98fe2" transform="rotate(-70 215.4 71.0)" filter="url(#blur05)"/>
<circle cx="203" cy="34" r="0.9" fill="#666" filter="url(#blur05)"/>
<ellipse cx="207" cy="41.5" rx="2.2" ry="1.6" fill="#4c0c5a" filter="url(#blur05)"/>
<circle cx="227" cy="44" r="1.2" fill="#cbb9cf" filter="url(#blur05)"/>
</g>
<line x1="108.50" y1="25.20" x2="127.30" y2="25.20" stroke="#111" stroke-width="1.3" />
<path d="M131.30 25.20 L126.80 22.80 L127.93 25.20 L126.80 27.60 Z" fill="#111"/>
<line x1="107.50" y1="61.00" x2="187.80" y2="61.00" stroke="#111" stroke-width="1.3" />
<path d="M191.80 61.00 L187.30 58.60 L188.43 61.00 L187.30 63.40 Z" fill="#111"/>
<line x1="75.10" y1="59.00" x2="75.10" y2="84.60" stroke="#111" stroke-width="1.3" />
<path d="M74.45 84.4 H130" stroke="#111" stroke-width="1.3" fill="none"/>
<path d="M134.8 84.4 L126 79.4 L128.2 84.4 L126 89.4 Z" fill="#111"/>
<text x="247.30" y="9.93" font-size="11.5" text-anchor="start" fill="#000" font-weight="bold" >B</text>
<line x1="260.10" y1="119.60" x2="260.10" y2="12.00" stroke="#111" stroke-width="1.5" />
<path d="M260.1 6.6 L256.8 13.2 L260.1 11.8 L263.4 13.2 Z" fill="#111"/>
<text transform="translate(257.37,68.60) rotate(-90)" font-size="7.2" text-anchor="middle" fill="#222" >counts</text>
<line x1="268.80" y1="128.10" x2="380.00" y2="128.10" stroke="#111" stroke-width="1.5" />
<path d="M385.2 128.1 L378.4 124.8 L379.8 128.1 L378.4 131.4 Z" fill="#111"/>
<text x="323.20" y="135.20" font-size="7.2" text-anchor="middle" fill="#222" font-weight="normal" >BrdU</text>
<rect x="268.7" y="7.3" width="49.10" height="45.70" fill="#fff" stroke="#777" stroke-width="0.6"/>
<path d="M272.6 53.0 L272.6 53.0 L273.1 51.1 L273.5 50.2 L273.9 46.2 L274.4 42.2 L274.8 41.3 L275.3 40.3 L275.7 32.7 L276.2 27.7 L276.6 27.3 L277.1 26.0 L277.5 29.0 L278.0 33.8 L278.4 36.1 L278.9 32.8 L279.3 34.3 L279.8 34.7 L280.2 36.0 L280.7 37.2 L281.1 39.6 L281.6 41.1 L282.0 39.3 L282.5 40.6 L282.9 37.8 L283.4 42.0 L283.8 40.4 L284.3 42.8 L284.7 40.2 L285.2 35.0 L285.6 40.7 L286.1 33.0 L286.5 33.1 L287.0 30.9 L287.4 24.4 L287.9 22.3 L288.3 13.3 L288.8 22.0 L289.2 8.3 L289.7 19.2 L290.1 10.9 L290.6 21.5 L291.0 8.3 L291.5 8.3 L291.9 12.7 L292.4 12.0 L292.8 15.5 L293.3 24.8 L293.7 23.6 L294.2 22.3 L294.6 23.1 L295.1 25.4 L295.5 27.9 L296.0 28.3 L296.4 30.5 L296.9 29.5 L297.3 34.8 L297.8 34.6 L298.2 37.6 L298.7 41.6 L299.1 41.5 L299.6 45.2 L300.0 45.5 L300.5 49.1 L300.9 48.3 L301.4 50.1 L301.8 51.7 L302.3 53.0 L302.7 52.1 L303.2 52.5 L303.6 51.9 L304.1 52.1 L304.5 52.9 L305.0 52.4 L305.4 52.5 L305.4 53.0 Z" fill="#7c7c7c" stroke="#111" stroke-width="0.75" stroke-linejoin="round"/>
<line x1="282.30" y1="7.30" x2="282.30" y2="53.00" stroke="#777" stroke-width="0.55" />
<line x1="291.40" y1="7.30" x2="291.40" y2="53.00" stroke="#aaa" stroke-width="0.55" />
<line x1="303.60" y1="7.30" x2="303.60" y2="53.00" stroke="#777" stroke-width="0.55" />
<line x1="305.50" y1="52.60" x2="311.80" y2="52.60" stroke="#444" stroke-width="0.6" />
<text x="296.80" y="13.70" font-size="3.7" text-anchor="start" fill="#444" font-weight="normal" >BrdU pos</text>
<text x="271.70" y="57.60" font-size="3.4" text-anchor="middle" fill="#555" font-weight="normal" >0</text>
<text x="275.70" y="57.60" font-size="3.4" text-anchor="middle" fill="#555" font-weight="normal" >10²</text>
<text x="290.80" y="57.60" font-size="3.4" text-anchor="middle" fill="#555" font-weight="normal" >10³</text>
<text x="303.60" y="57.60" font-size="3.4" text-anchor="middle" fill="#555" font-weight="normal" >10⁴</text>
<text x="315.80" y="57.60" font-size="3.4" text-anchor="middle" fill="#555" font-weight="normal" >10⁵</text>
<text x="266.70" y="59.60" font-size="3" text-anchor="middle" fill="#666" font-weight="normal" >-10²</text>
<line x1="267.50" y1="53.00" x2="268.70" y2="53.00" stroke="#444" stroke-width="0.6" />
<text transform="translate(266.8,53.0) rotate(-90)" font-size="3.4" text-anchor="middle" fill="#444">0</text>
<line x1="267.50" y1="44.46" x2="268.70" y2="44.46" stroke="#444" stroke-width="0.6" />
<text transform="translate(266.8,44.5) rotate(-90)" font-size="3.4" text-anchor="middle" fill="#444">20</text>
<line x1="267.50" y1="35.92" x2="268.70" y2="35.92" stroke="#444" stroke-width="0.6" />
<text transform="translate(266.8,35.9) rotate(-90)" font-size="3.4" text-anchor="middle" fill="#444">40</text>
<line x1="267.50" y1="27.38" x2="268.70" y2="27.38" stroke="#444" stroke-width="0.6" />
<text transform="translate(266.8,27.4) rotate(-90)" font-size="3.4" text-anchor="middle" fill="#444">60</text>
<line x1="267.50" y1="18.84" x2="268.70" y2="18.84" stroke="#444" stroke-width="0.6" />
<text transform="translate(266.8,18.8) rotate(-90)" font-size="3.4" text-anchor="middle" fill="#444">80</text>
<line x1="267.50" y1="10.30" x2="268.70" y2="10.30" stroke="#444" stroke-width="0.6" />
<text transform="translate(266.8,10.3) rotate(-90)" font-size="3.4" text-anchor="middle" fill="#444">100</text>
<text x="291.40" y="5.70" font-size="7.6" text-anchor="middle" fill="#222" font-weight="normal" >wt</text>
<rect x="334.8" y="8.0" width="49.00" height="44.60" fill="#fff" stroke="#777" stroke-width="0.6"/>
<path d="M338.8 52.6 L338.8 52.6 L339.2 52.4 L339.7 50.3 L340.1 49.2 L340.6 48.9 L341.0 48.3 L341.5 47.9 L341.9 47.1 L342.4 45.4 L342.8 44.8 L343.3 46.8 L343.7 45.8 L344.2 46.4 L344.6 44.8 L345.1 46.2 L345.5 47.8 L346.0 47.5 L346.4 44.7 L346.9 45.4 L347.3 45.4 L347.8 44.4 L348.2 43.5 L348.7 40.4 L349.1 39.7 L349.6 38.8 L350.0 39.5 L350.5 35.2 L350.9 39.0 L351.4 37.8 L351.8 33.7 L352.3 30.2 L352.7 20.6 L353.2 30.2 L353.6 28.9 L354.1 25.6 L354.5 16.8 L355.0 13.1 L355.4 21.9 L355.9 19.1 L356.3 11.0 L356.8 15.6 L357.2 11.8 L357.7 13.6 L358.1 12.5 L358.6 16.0 L359.0 17.4 L359.5 22.3 L359.9 18.6 L360.4 28.2 L360.8 27.9 L361.3 26.3 L361.7 32.1 L362.2 36.3 L362.6 36.2 L363.1 41.3 L363.5 44.8 L364.0 41.8 L364.4 43.6 L364.9 45.3 L365.3 46.1 L365.8 49.2 L366.2 50.9 L366.7 52.0 L367.1 51.4 L367.6 51.4 L368.0 51.5 L368.5 52.5 L368.9 52.3 L369.4 52.5 L369.8 52.6 L369.8 52.6 Z" fill="#7c7c7c" stroke="#111" stroke-width="0.75" stroke-linejoin="round"/>
<line x1="348.50" y1="8.00" x2="348.50" y2="52.60" stroke="#777" stroke-width="0.55" />
<line x1="357.60" y1="8.00" x2="357.60" y2="52.60" stroke="#aaa" stroke-width="0.55" />
<line x1="369.80" y1="8.00" x2="369.80" y2="52.60" stroke="#777" stroke-width="0.55" />
<line x1="370.20" y1="52.20" x2="377.80" y2="52.20" stroke="#444" stroke-width="0.6" />
<text x="363.00" y="14.40" font-size="3.7" text-anchor="start" fill="#444" font-weight="normal" >BrdU pos</text>
<text x="337.80" y="57.20" font-size="3.4" text-anchor="middle" fill="#555" font-weight="normal" >0</text>
<text x="341.80" y="57.20" font-size="3.4" text-anchor="middle" fill="#555" font-weight="normal" >10²</text>
<text x="357.00" y="57.20" font-size="3.4" text-anchor="middle" fill="#555" font-weight="normal" >10³</text>
<text x="369.80" y="57.20" font-size="3.4" text-anchor="middle" fill="#555" font-weight="normal" >10⁴</text>
<text x="381.80" y="57.20" font-size="3.4" text-anchor="middle" fill="#555" font-weight="normal" >10⁵</text>
<text x="332.80" y="59.20" font-size="3" text-anchor="middle" fill="#666" font-weight="normal" >-10²</text>
<line x1="333.60" y1="52.60" x2="334.80" y2="52.60" stroke="#444" stroke-width="0.6" />
<text transform="translate(332.9,52.6) rotate(-90)" font-size="3.4" text-anchor="middle" fill="#444">0</text>
<line x1="333.60" y1="48.44" x2="334.80" y2="48.44" stroke="#444" stroke-width="0.6" />
<text transform="translate(332.9,48.4) rotate(-90)" font-size="3.4" text-anchor="middle" fill="#444">8</text>
<line x1="333.60" y1="44.28" x2="334.80" y2="44.28" stroke="#444" stroke-width="0.6" />
<text transform="translate(332.9,44.3) rotate(-90)" font-size="3.4" text-anchor="middle" fill="#444">16</text>
<line x1="333.60" y1="40.12" x2="334.80" y2="40.12" stroke="#444" stroke-width="0.6" />
<text transform="translate(332.9,40.1) rotate(-90)" font-size="3.4" text-anchor="middle" fill="#444">24</text>
<line x1="333.60" y1="35.96" x2="334.80" y2="35.96" stroke="#444" stroke-width="0.6" />
<text transform="translate(332.9,36.0) rotate(-90)" font-size="3.4" text-anchor="middle" fill="#444">32</text>
<line x1="333.60" y1="31.80" x2="334.80" y2="31.80" stroke="#444" stroke-width="0.6" />
<text transform="translate(332.9,31.8) rotate(-90)" font-size="3.4" text-anchor="middle" fill="#444">40</text>
<line x1="333.60" y1="27.64" x2="334.80" y2="27.64" stroke="#444" stroke-width="0.6" />
<text transform="translate(332.9,27.6) rotate(-90)" font-size="3.4" text-anchor="middle" fill="#444">48</text>
<line x1="333.60" y1="23.48" x2="334.80" y2="23.48" stroke="#444" stroke-width="0.6" />
<text transform="translate(332.9,23.5) rotate(-90)" font-size="3.4" text-anchor="middle" fill="#444">56</text>
<line x1="333.60" y1="19.32" x2="334.80" y2="19.32" stroke="#444" stroke-width="0.6" />
<text transform="translate(332.9,19.3) rotate(-90)" font-size="3.4" text-anchor="middle" fill="#444">64</text>
<line x1="333.60" y1="15.16" x2="334.80" y2="15.16" stroke="#444" stroke-width="0.6" />
<text transform="translate(332.9,15.2) rotate(-90)" font-size="3.4" text-anchor="middle" fill="#444">72</text>
<line x1="333.60" y1="11.00" x2="334.80" y2="11.00" stroke="#444" stroke-width="0.6" />
<text transform="translate(332.9,11.0) rotate(-90)" font-size="3.4" text-anchor="middle" fill="#444">80</text>
<text x="357.60" y="6.40" font-size="7.6" text-anchor="middle" fill="#222"><tspan font-style="italic">Btk</tspan>-ko</text>
<rect x="268.7" y="73.2" width="48.90" height="45.80" fill="#fff" stroke="#777" stroke-width="0.6"/>
<path d="M270.4 119.0 L270.4 119.0 L270.8 117.5 L271.3 118.0 L271.7 116.8 L272.2 115.3 L272.6 114.1 L273.1 115.1 L273.5 113.6 L274.0 112.1 L274.4 113.2 L274.9 111.9 L275.3 112.5 L275.8 109.7 L276.2 106.0 L276.7 106.1 L277.1 108.9 L277.6 111.5 L278.0 110.6 L278.5 112.6 L278.9 111.7 L279.4 112.9 L279.8 113.5 L280.3 111.7 L280.7 111.4 L281.2 112.1 L281.6 113.9 L282.1 113.3 L282.5 113.5 L283.0 113.5 L283.4 111.5 L283.9 108.1 L284.3 109.7 L284.8 106.1 L285.2 105.8 L285.7 104.6 L286.1 103.4 L286.6 101.8 L287.0 100.5 L287.5 104.0 L287.9 96.1 L288.4 97.0 L288.8 91.0 L289.3 91.7 L289.7 88.7 L290.2 88.8 L290.6 82.8 L291.1 87.6 L291.5 80.1 L292.0 82.3 L292.4 76.3 L292.9 79.9 L293.3 92.4 L293.8 82.7 L294.2 92.7 L294.7 95.7 L295.1 96.6 L295.6 98.4 L296.0 95.6 L296.5 101.2 L296.9 105.1 L297.4 106.9 L297.8 106.8 L298.3 108.5 L298.7 112.1 L299.2 114.1 L299.6 114.1 L300.1 115.1 L300.5 116.6 L301.0 115.8 L301.4 117.4 L301.9 119.0 L302.3 117.1 L302.8 119.0 L303.2 118.5 L303.7 117.5 L304.1 118.4 L304.6 118.9 L304.6 119.0 Z" fill="#7c7c7c" stroke="#111" stroke-width="0.75" stroke-linejoin="round"/>
<line x1="282.50" y1="73.20" x2="282.50" y2="119.00" stroke="#777" stroke-width="0.55" />
<line x1="292.20" y1="73.20" x2="292.20" y2="119.00" stroke="#aaa" stroke-width="0.55" />
<line x1="303.70" y1="73.20" x2="303.70" y2="119.00" stroke="#777" stroke-width="0.55" />
<line x1="304.70" y1="118.60" x2="311.60" y2="118.60" stroke="#444" stroke-width="0.6" />
<text x="297.60" y="79.60" font-size="3.7" text-anchor="start" fill="#444" font-weight="normal" >BrdU pos</text>
<text x="271.70" y="123.60" font-size="3.4" text-anchor="middle" fill="#555" font-weight="normal" >0</text>
<text x="275.70" y="123.60" font-size="3.4" text-anchor="middle" fill="#555" font-weight="normal" >10²</text>
<text x="291.60" y="123.60" font-size="3.4" text-anchor="middle" fill="#555" font-weight="normal" >10³</text>
<text x="303.70" y="123.60" font-size="3.4" text-anchor="middle" fill="#555" font-weight="normal" >10⁴</text>
<text x="315.60" y="123.60" font-size="3.4" text-anchor="middle" fill="#555" font-weight="normal" >10⁵</text>
<text x="266.70" y="125.60" font-size="3" text-anchor="middle" fill="#666" font-weight="normal" >-10²</text>
<line x1="267.50" y1="119.00" x2="268.70" y2="119.00" stroke="#444" stroke-width="0.6" />
<text transform="translate(266.8,119.0) rotate(-90)" font-size="3.4" text-anchor="middle" fill="#444">0</text>
<line x1="267.50" y1="110.44" x2="268.70" y2="110.44" stroke="#444" stroke-width="0.6" />
<text transform="translate(266.8,110.4) rotate(-90)" font-size="3.4" text-anchor="middle" fill="#444">20</text>
<line x1="267.50" y1="101.88" x2="268.70" y2="101.88" stroke="#444" stroke-width="0.6" />
<text transform="translate(266.8,101.9) rotate(-90)" font-size="3.4" text-anchor="middle" fill="#444">40</text>
<line x1="267.50" y1="93.32" x2="268.70" y2="93.32" stroke="#444" stroke-width="0.6" />
<text transform="translate(266.8,93.3) rotate(-90)" font-size="3.4" text-anchor="middle" fill="#444">60</text>
<line x1="267.50" y1="84.76" x2="268.70" y2="84.76" stroke="#444" stroke-width="0.6" />
<text transform="translate(266.8,84.8) rotate(-90)" font-size="3.4" text-anchor="middle" fill="#444">80</text>
<line x1="267.50" y1="76.20" x2="268.70" y2="76.20" stroke="#444" stroke-width="0.6" />
<text transform="translate(266.8,76.2) rotate(-90)" font-size="3.4" text-anchor="middle" fill="#444">100</text>
<text x="292.20" y="71.60" font-size="7.6" text-anchor="middle" fill="#222" font-weight="normal" >wt</text>
<rect x="334.8" y="73.2" width="49.00" height="45.40" fill="#fff" stroke="#777" stroke-width="0.6"/>
<path d="M338.0 118.6 L338.0 118.6 L338.4 117.7 L338.9 117.2 L339.3 117.9 L339.8 117.8 L340.2 117.6 L340.7 117.1 L341.1 115.3 L341.6 115.4 L342.0 114.6 L342.5 115.9 L342.9 113.6 L343.4 114.6 L343.8 113.6 L344.3 113.9 L344.7 114.4 L345.2 111.6 L345.6 112.3 L346.1 112.4 L346.5 112.5 L347.0 110.9 L347.4 110.3 L347.9 109.6 L348.3 107.6 L348.8 107.5 L349.2 107.8 L349.7 105.3 L350.1 105.5 L350.6 103.9 L351.0 100.1 L351.5 97.2 L351.9 95.0 L352.4 90.1 L352.8 93.6 L353.3 94.7 L353.7 84.3 L354.2 85.8 L354.6 85.5 L355.1 81.1 L355.5 81.4 L356.0 77.0 L356.4 82.5 L356.9 81.5 L357.3 78.5 L357.8 80.9 L358.2 80.8 L358.7 78.9 L359.1 74.2 L359.6 77.8 L360.0 84.0 L360.5 83.3 L360.9 87.0 L361.4 92.4 L361.8 93.7 L362.3 94.8 L362.7 96.4 L363.2 102.2 L363.6 100.8 L364.1 105.1 L364.5 105.9 L365.0 109.4 L365.4 111.1 L365.9 113.9 L366.3 113.8 L366.8 113.4 L367.2 117.8 L367.7 117.5 L368.1 116.8 L368.6 117.4 L369.0 117.9 L369.0 118.6 Z" fill="#7c7c7c" stroke="#111" stroke-width="0.75" stroke-linejoin="round"/>
<line x1="348.50" y1="73.20" x2="348.50" y2="118.60" stroke="#777" stroke-width="0.55" />
<line x1="357.60" y1="73.20" x2="357.60" y2="118.60" stroke="#aaa" stroke-width="0.55" />
<line x1="369.80" y1="73.20" x2="369.80" y2="118.60" stroke="#777" stroke-width="0.55" />
<line x1="369.50" y1="118.20" x2="377.80" y2="118.20" stroke="#444" stroke-width="0.6" />
<text x="363.00" y="79.60" font-size="3.7" text-anchor="start" fill="#444" font-weight="normal" >BrdU pos</text>
<text x="337.80" y="123.20" font-size="3.4" text-anchor="middle" fill="#555" font-weight="normal" >0</text>
<text x="341.80" y="123.20" font-size="3.4" text-anchor="middle" fill="#555" font-weight="normal" >10²</text>
<text x="357.00" y="123.20" font-size="3.4" text-anchor="middle" fill="#555" font-weight="normal" >10³</text>
<text x="369.80" y="123.20" font-size="3.4" text-anchor="middle" fill="#555" font-weight="normal" >10⁴</text>
<text x="381.80" y="123.20" font-size="3.4" text-anchor="middle" fill="#555" font-weight="normal" >10⁵</text>
<text x="332.80" y="125.20" font-size="3" text-anchor="middle" fill="#666" font-weight="normal" >-10²</text>
<line x1="333.60" y1="118.60" x2="334.80" y2="118.60" stroke="#444" stroke-width="0.6" />
<text transform="translate(332.9,118.6) rotate(-90)" font-size="3.4" text-anchor="middle" fill="#444">0</text>
<line x1="333.60" y1="114.36" x2="334.80" y2="114.36" stroke="#444" stroke-width="0.6" />
<text transform="translate(332.9,114.4) rotate(-90)" font-size="3.4" text-anchor="middle" fill="#444">8</text>
<line x1="333.60" y1="110.12" x2="334.80" y2="110.12" stroke="#444" stroke-width="0.6" />
<text transform="translate(332.9,110.1) rotate(-90)" font-size="3.4" text-anchor="middle" fill="#444">16</text>
<line x1="333.60" y1="105.88" x2="334.80" y2="105.88" stroke="#444" stroke-width="0.6" />
<text transform="translate(332.9,105.9) rotate(-90)" font-size="3.4" text-anchor="middle" fill="#444">24</text>
<line x1="333.60" y1="101.64" x2="334.80" y2="101.64" stroke="#444" stroke-width="0.6" />
<text transform="translate(332.9,101.6) rotate(-90)" font-size="3.4" text-anchor="middle" fill="#444">32</text>
<line x1="333.60" y1="97.40" x2="334.80" y2="97.40" stroke="#444" stroke-width="0.6" />
<text transform="translate(332.9,97.4) rotate(-90)" font-size="3.4" text-anchor="middle" fill="#444">40</text>
<line x1="333.60" y1="93.16" x2="334.80" y2="93.16" stroke="#444" stroke-width="0.6" />
<text transform="translate(332.9,93.2) rotate(-90)" font-size="3.4" text-anchor="middle" fill="#444">48</text>
<line x1="333.60" y1="88.92" x2="334.80" y2="88.92" stroke="#444" stroke-width="0.6" />
<text transform="translate(332.9,88.9) rotate(-90)" font-size="3.4" text-anchor="middle" fill="#444">56</text>
<line x1="333.60" y1="84.68" x2="334.80" y2="84.68" stroke="#444" stroke-width="0.6" />
<text transform="translate(332.9,84.7) rotate(-90)" font-size="3.4" text-anchor="middle" fill="#444">64</text>
<line x1="333.60" y1="80.44" x2="334.80" y2="80.44" stroke="#444" stroke-width="0.6" />
<text transform="translate(332.9,80.4) rotate(-90)" font-size="3.4" text-anchor="middle" fill="#444">72</text>
<line x1="333.60" y1="76.20" x2="334.80" y2="76.20" stroke="#444" stroke-width="0.6" />
<text transform="translate(332.9,76.2) rotate(-90)" font-size="3.4" text-anchor="middle" fill="#444">80</text>
<text x="357.60" y="71.60" font-size="7.6" text-anchor="middle" fill="#222"><tspan font-style="italic">Btk</tspan>-ko</text>
<text transform="translate(390.90,30.00) rotate(-90)" font-size="7.3" text-anchor="middle" fill="#222" >promyelocytes/</text>
<text transform="translate(399.50,30.00) rotate(-90)" font-size="7.3" text-anchor="middle" fill="#222" >myelocytes</text>
<text transform="translate(391.40,96.30) rotate(-90)" font-size="7.3" text-anchor="middle" fill="#222" >immature</text>
<text transform="translate(397.30,96.00) rotate(-90)" font-size="7.3" text-anchor="middle" fill="#222" >neutrophils</text>
<rect x="440.60" y="35.54" width="12.40" height="68.16" fill="#616161" stroke="#4c4c4c" stroke-width="0.6" />
<line x1="446.80" y1="35.54" x2="446.80" y2="32.87" stroke="#222" stroke-width="0.8" />
<line x1="445.20" y1="32.87" x2="448.40" y2="32.87" stroke="#222" stroke-width="0.8" />
<rect x="453.00" y="27.96" width="12.60" height="75.74" fill="#bababa" stroke="#a6a6a6" stroke-width="0.6" />
<line x1="459.30" y1="27.96" x2="459.30" y2="25.29" stroke="#222" stroke-width="0.8" />
<line x1="457.70" y1="25.29" x2="460.90" y2="25.29" stroke="#222" stroke-width="0.8" />
<rect x="485.00" y="26.90" width="12.20" height="76.80" fill="#616161" stroke="#4c4c4c" stroke-width="0.6" />
<line x1="491.10" y1="26.90" x2="491.10" y2="25.29" stroke="#222" stroke-width="0.8" />
<line x1="489.50" y1="25.29" x2="492.70" y2="25.29" stroke="#222" stroke-width="0.8" />
<rect x="497.20" y="23.87" width="12.80" height="79.83" fill="#bababa" stroke="#a6a6a6" stroke-width="0.6" />
<line x1="503.60" y1="23.87" x2="503.60" y2="22.08" stroke="#222" stroke-width="0.8" />
<line x1="502.00" y1="22.08" x2="505.20" y2="22.08" stroke="#222" stroke-width="0.8" />
<line x1="431.20" y1="14.30" x2="431.20" y2="104.30" stroke="#111" stroke-width="1.6" />
<line x1="429.40" y1="14.60" x2="431.20" y2="14.60" stroke="#111" stroke-width="1.4400000000000002" />
<text x="428.80" y="17.34" font-size="7.6" text-anchor="end" fill="#222" font-weight="normal" >100</text>
<line x1="429.40" y1="32.42" x2="431.20" y2="32.42" stroke="#111" stroke-width="1.4400000000000002" />
<text x="428.80" y="35.16" font-size="7.6" text-anchor="end" fill="#222" font-weight="normal" >80</text>
<line x1="429.40" y1="50.24" x2="431.20" y2="50.24" stroke="#111" stroke-width="1.4400000000000002" />
<text x="428.80" y="52.98" font-size="7.6" text-anchor="end" fill="#222" font-weight="normal" >60</text>
<line x1="429.40" y1="68.06" x2="431.20" y2="68.06" stroke="#111" stroke-width="1.4400000000000002" />
<text x="428.80" y="70.80" font-size="7.6" text-anchor="end" fill="#222" font-weight="normal" >40</text>
<line x1="429.40" y1="85.88" x2="431.20" y2="85.88" stroke="#111" stroke-width="1.4400000000000002" />
<text x="428.80" y="88.62" font-size="7.6" text-anchor="end" fill="#222" font-weight="normal" >20</text>
<line x1="429.40" y1="103.70" x2="431.20" y2="103.70" stroke="#111" stroke-width="1.4400000000000002" />
<text x="428.80" y="106.44" font-size="7.6" text-anchor="end" fill="#222" font-weight="normal" >0</text>
<line x1="431.20" y1="103.70" x2="519.60" y2="103.70" stroke="#111" stroke-width="1.4" />
<line x1="475.60" y1="103.70" x2="475.60" y2="105.50" stroke="#111" stroke-width="1.0" />
<line x1="519.40" y1="103.70" x2="519.40" y2="105.50" stroke="#111" stroke-width="1.0" />
<text transform="translate(414.62,59.40) rotate(-90)" font-size="7.4" text-anchor="middle" fill="#222" >BrdU positive cells [%]</text>
<rect x="435.80" y="3.80" width="3.10" height="3.10" fill="#555" stroke="none" stroke-width="0" />
<text x="441.60" y="7.80" font-size="6.95" text-anchor="start" fill="#333" font-weight="normal" >wt (n=5)</text>
<rect x="435.80" y="13.50" width="3.10" height="3.10" fill="#b0b0b0" stroke="none" stroke-width="0" />
<text x="441.60" y="17.50" font-size="6.95" fill="#333"><tspan font-style="italic">Btk</tspan>-ko (n=5)</text>
<text x="455.00" y="113.80" font-size="7.15" text-anchor="middle" fill="#222" font-weight="normal" >promyelocytes/</text>
<text x="455.00" y="122.50" font-size="7.15" text-anchor="middle" fill="#222" font-weight="normal" >myelocytes</text>
<text x="499.10" y="113.10" font-size="7.15" text-anchor="middle" fill="#222" font-weight="normal" >immature</text>
<text x="499.40" y="121.90" font-size="7.15" text-anchor="middle" fill="#222" font-weight="normal" >neutrophils</text>
<text x="0.50" y="149.53" font-size="11.5" text-anchor="start" fill="#000" font-weight="bold" >C</text>
<rect x="43.10" y="187.74" width="12.00" height="45.66" fill="#616161" stroke="#4c4c4c" stroke-width="0.6" />
<line x1="49.10" y1="187.74" x2="49.10" y2="185.55" stroke="#222" stroke-width="0.8" />
<line x1="47.50" y1="185.55" x2="50.70" y2="185.55" stroke="#222" stroke-width="0.8" />
<rect x="55.10" y="190.38" width="13.00" height="43.02" fill="#bababa" stroke="#a6a6a6" stroke-width="0.6" />
<line x1="61.60" y1="190.38" x2="61.60" y2="189.32" stroke="#222" stroke-width="0.8" />
<line x1="60.00" y1="189.32" x2="63.20" y2="189.32" stroke="#222" stroke-width="0.8" />
<rect x="86.90" y="203.72" width="12.20" height="29.68" fill="#616161" stroke="#4c4c4c" stroke-width="0.6" />
<line x1="93.00" y1="203.72" x2="93.00" y2="201.44" stroke="#222" stroke-width="0.8" />
<line x1="91.40" y1="201.44" x2="94.60" y2="201.44" stroke="#222" stroke-width="0.8" />
<rect x="99.10" y="196.96" width="12.80" height="36.44" fill="#bababa" stroke="#a6a6a6" stroke-width="0.6" />
<line x1="105.50" y1="196.96" x2="105.50" y2="194.68" stroke="#222" stroke-width="0.8" />
<line x1="103.90" y1="194.68" x2="107.10" y2="194.68" stroke="#222" stroke-width="0.8" />
<rect x="131.00" y="224.80" width="12.50" height="8.60" fill="#616161" stroke="#4c4c4c" stroke-width="0.6" />
<line x1="137.25" y1="224.80" x2="137.25" y2="223.39" stroke="#222" stroke-width="0.8" />
<line x1="135.65" y1="223.39" x2="138.85" y2="223.39" stroke="#222" stroke-width="0.8" />
<rect x="143.50" y="229.01" width="12.80" height="4.39" fill="#bababa" stroke="#a6a6a6" stroke-width="0.6" />
<line x1="149.90" y1="229.01" x2="149.90" y2="227.96" stroke="#222" stroke-width="0.8" />
<line x1="148.30" y1="227.96" x2="151.50" y2="227.96" stroke="#222" stroke-width="0.8" />
<line x1="33.20" y1="145.30" x2="33.20" y2="234.00" stroke="#111" stroke-width="1.6" />
<line x1="31.40" y1="145.60" x2="33.20" y2="145.60" stroke="#111" stroke-width="1.4400000000000002" />
<text x="30.80" y="148.34" font-size="7.6" text-anchor="end" fill="#222" font-weight="normal" >100</text>
<line x1="31.40" y1="163.16" x2="33.20" y2="163.16" stroke="#111" stroke-width="1.4400000000000002" />
<text x="30.80" y="165.90" font-size="7.6" text-anchor="end" fill="#222" font-weight="normal" >80</text>
<line x1="31.40" y1="180.72" x2="33.20" y2="180.72" stroke="#111" stroke-width="1.4400000000000002" />
<text x="30.80" y="183.46" font-size="7.6" text-anchor="end" fill="#222" font-weight="normal" >60</text>
<line x1="31.40" y1="198.28" x2="33.20" y2="198.28" stroke="#111" stroke-width="1.4400000000000002" />
<text x="30.80" y="201.02" font-size="7.6" text-anchor="end" fill="#222" font-weight="normal" >40</text>
<line x1="31.40" y1="215.84" x2="33.20" y2="215.84" stroke="#111" stroke-width="1.4400000000000002" />
<text x="30.80" y="218.58" font-size="7.6" text-anchor="end" fill="#222" font-weight="normal" >20</text>
<line x1="31.40" y1="233.40" x2="33.20" y2="233.40" stroke="#111" stroke-width="1.4400000000000002" />
<text x="30.80" y="236.14" font-size="7.6" text-anchor="end" fill="#222" font-weight="normal" >0</text>
<line x1="33.20" y1="233.40" x2="165.80" y2="233.40" stroke="#111" stroke-width="1.4" />
<line x1="76.90" y1="233.40" x2="76.90" y2="235.20" stroke="#111" stroke-width="1.0" />
<line x1="121.30" y1="233.40" x2="121.30" y2="235.20" stroke="#111" stroke-width="1.0" />
<line x1="165.60" y1="233.40" x2="165.60" y2="235.20" stroke="#111" stroke-width="1.0" />
<text x="105.80" y="194.31" font-size="9.6" text-anchor="middle" fill="#111" font-weight="bold" letter-spacing="0.6">**</text>
<text x="150.10" y="226.81" font-size="9.6" text-anchor="middle" fill="#111" font-weight="bold" letter-spacing="0.6">**</text>
<rect x="38.30" y="148.30" width="3.10" height="3.10" fill="#555" stroke="none" stroke-width="0" />
<text x="44.10" y="152.30" font-size="6.95" text-anchor="start" fill="#333" font-weight="normal" >wt (n=5)</text>
<rect x="38.30" y="157.30" width="3.10" height="3.10" fill="#b0b0b0" stroke="none" stroke-width="0" />
<text x="44.10" y="161.30" font-size="6.95" fill="#333"><tspan font-style="italic">Btk</tspan>-ko (n=5)</text>
<text x="55.00" y="241.70" font-size="7.15" text-anchor="middle" fill="#222" font-weight="normal" >promyelocytes/</text>
<text x="55.00" y="250.00" font-size="7.15" text-anchor="middle" fill="#222" font-weight="normal" >myelocytes</text>
<text x="99.00" y="241.10" font-size="7.15" text-anchor="middle" fill="#222" font-weight="normal" >immature</text>
<text x="99.00" y="249.70" font-size="7.15" text-anchor="middle" fill="#222" font-weight="normal" >neutrophils</text>
<text x="143.40" y="241.10" font-size="7.15" text-anchor="middle" fill="#222" font-weight="normal" >mature</text>
<text x="143.40" y="249.70" font-size="7.15" text-anchor="middle" fill="#222" font-weight="normal" >neutrophils</text>
<text transform="translate(8.10,188.5) rotate(-90)" font-size="7.3" text-anchor="middle" fill="#222">% of CD11b<tspan font-size="4.5" dy="-2.6">+</tspan><tspan dy="2.6">/Gr-1</tspan><tspan font-size="4.5" dy="-2.6">+</tspan></text>
<text transform="translate(16.46,188.50) rotate(-90)" font-size="7.15" text-anchor="middle" fill="#222" >population</text>
<text x="179.10" y="148.94" font-size="11.5" text-anchor="start" fill="#000" font-weight="bold" >D</text>
<rect x="219.80" y="211.20" width="12.10" height="21.80" fill="#616161" stroke="#4c4c4c" stroke-width="0.6" />
<line x1="225.85" y1="211.20" x2="225.85" y2="204.22" stroke="#222" stroke-width="0.8" />
<line x1="224.25" y1="204.22" x2="227.45" y2="204.22" stroke="#222" stroke-width="0.8" />
<rect x="231.90" y="195.94" width="13.10" height="37.06" fill="#bababa" stroke="#a6a6a6" stroke-width="0.6" />
<line x1="238.45" y1="195.94" x2="238.45" y2="193.32" stroke="#222" stroke-width="0.8" />
<line x1="236.85" y1="193.32" x2="240.05" y2="193.32" stroke="#222" stroke-width="0.8" />
<rect x="264.00" y="198.99" width="12.90" height="34.01" fill="#616161" stroke="#4c4c4c" stroke-width="0.6" />
<line x1="270.45" y1="198.99" x2="270.45" y2="196.20" stroke="#222" stroke-width="0.8" />
<line x1="268.85" y1="196.20" x2="272.05" y2="196.20" stroke="#222" stroke-width="0.8" />
<rect x="276.90" y="209.46" width="12.50" height="23.54" fill="#bababa" stroke="#a6a6a6" stroke-width="0.6" />
<line x1="283.15" y1="209.46" x2="283.15" y2="205.27" stroke="#222" stroke-width="0.8" />
<line x1="281.55" y1="205.27" x2="284.75" y2="205.27" stroke="#222" stroke-width="0.8" />
<line x1="209.50" y1="145.50" x2="209.50" y2="233.60" stroke="#111" stroke-width="1.6" />
<line x1="207.70" y1="145.80" x2="209.50" y2="145.80" stroke="#111" stroke-width="1.4400000000000002" />
<text x="207.10" y="148.54" font-size="7.6" text-anchor="end" fill="#222" font-weight="normal" >100</text>
<line x1="207.70" y1="163.24" x2="209.50" y2="163.24" stroke="#111" stroke-width="1.4400000000000002" />
<text x="207.10" y="165.98" font-size="7.6" text-anchor="end" fill="#222" font-weight="normal" >80</text>
<line x1="207.70" y1="180.68" x2="209.50" y2="180.68" stroke="#111" stroke-width="1.4400000000000002" />
<text x="207.10" y="183.42" font-size="7.6" text-anchor="end" fill="#222" font-weight="normal" >60</text>
<line x1="207.70" y1="198.12" x2="209.50" y2="198.12" stroke="#111" stroke-width="1.4400000000000002" />
<text x="207.10" y="200.86" font-size="7.6" text-anchor="end" fill="#222" font-weight="normal" >40</text>
<line x1="207.70" y1="215.56" x2="209.50" y2="215.56" stroke="#111" stroke-width="1.4400000000000002" />
<text x="207.10" y="218.30" font-size="7.6" text-anchor="end" fill="#222" font-weight="normal" >20</text>
<line x1="207.70" y1="233.00" x2="209.50" y2="233.00" stroke="#111" stroke-width="1.4400000000000002" />
<text x="207.10" y="235.74" font-size="7.6" text-anchor="end" fill="#222" font-weight="normal" >0</text>
<line x1="209.50" y1="233.00" x2="299.60" y2="233.00" stroke="#111" stroke-width="1.4" />
<line x1="254.10" y1="233.00" x2="254.10" y2="234.80" stroke="#111" stroke-width="1.0" />
<line x1="299.40" y1="233.00" x2="299.40" y2="234.80" stroke="#111" stroke-width="1.0" />
<text x="238.50" y="193.71" font-size="9.6" text-anchor="middle" fill="#111" font-weight="bold" letter-spacing="0.6">**</text>
<text x="283.10" y="206.01" font-size="9.6" text-anchor="middle" fill="#111" font-weight="bold" letter-spacing="0.6">**</text>
<rect x="215.80" y="146.70" width="3.10" height="3.10" fill="#555" stroke="none" stroke-width="0" />
<text x="221.60" y="150.70" font-size="6.95" text-anchor="start" fill="#333" font-weight="normal" >wt (n=5)</text>
<rect x="215.80" y="155.50" width="3.10" height="3.10" fill="#b0b0b0" stroke="none" stroke-width="0" />
<text x="221.60" y="159.50" font-size="6.95" fill="#333"><tspan font-style="italic">Btk</tspan>-ko (n=5)</text>
<text x="231.70" y="241.30" font-size="7.15" text-anchor="middle" fill="#222" font-weight="normal" >immature</text>
<text x="276.00" y="241.30" font-size="7.15" text-anchor="middle" fill="#222" font-weight="normal" >mature</text>
<line x1="215.00" y1="244.40" x2="290.60" y2="244.40" stroke="#111" stroke-width="1.2" />
<text x="252.90" y="253.00" font-size="7.15" text-anchor="middle" fill="#222" font-weight="normal" >20 h rmGM-CSF</text>
<text transform="translate(187.10,190) rotate(-90)" font-size="7.3" text-anchor="middle" fill="#222">% of CD11b<tspan font-size="4.5" dy="-2.6">+</tspan><tspan dy="2.6">/Gr-1</tspan><tspan font-size="4.5" dy="-2.6">+</tspan></text>
<text transform="translate(195.86,188.10) rotate(-90)" font-size="7.15" text-anchor="middle" fill="#222" >population</text>
<text x="321.60" y="148.94" font-size="11.5" text-anchor="start" fill="#000" font-weight="bold" >E</text>
<line x1="362.00" y1="155.20" x2="362.00" y2="229.40" stroke="#555" stroke-width="0.9" />
<line x1="360.40" y1="155.60" x2="362.00" y2="155.60" stroke="#555" stroke-width="0.8" />
<text x="357.40" y="158.20" font-size="7.2" text-anchor="end" fill="#222" font-weight="normal" >200</text>
<line x1="360.40" y1="174.05" x2="362.00" y2="174.05" stroke="#555" stroke-width="0.8" />
<text x="357.40" y="176.65" font-size="7.2" text-anchor="end" fill="#222" font-weight="normal" >150</text>
<line x1="360.40" y1="192.50" x2="362.00" y2="192.50" stroke="#555" stroke-width="0.8" />
<text x="357.40" y="195.10" font-size="7.2" text-anchor="end" fill="#222" font-weight="normal" >100</text>
<line x1="360.40" y1="210.95" x2="362.00" y2="210.95" stroke="#555" stroke-width="0.8" />
<text x="357.40" y="213.55" font-size="7.2" text-anchor="end" fill="#222" font-weight="normal" >50</text>
<line x1="360.40" y1="229.40" x2="362.00" y2="229.40" stroke="#555" stroke-width="0.8" />
<text x="357.40" y="232.00" font-size="7.2" text-anchor="end" fill="#222" font-weight="normal" >0</text>
<line x1="362.00" y1="229.40" x2="415.80" y2="229.40" stroke="#777" stroke-width="0.9" />
<line x1="375.50" y1="229.40" x2="375.50" y2="230.70" stroke="#777" stroke-width="0.7" />
<line x1="401.50" y1="229.40" x2="401.50" y2="230.70" stroke="#777" stroke-width="0.7" />
<line x1="375.50" y1="166.50" x2="375.50" y2="172.50" stroke="#333" stroke-width="1.0" />
<line x1="375.50" y1="191.50" x2="375.50" y2="203.50" stroke="#333" stroke-width="1.0" />
<line x1="371.60" y1="166.50" x2="380.00" y2="166.50" stroke="#333" stroke-width="1.0" />
<line x1="371.60" y1="203.50" x2="380.00" y2="203.50" stroke="#333" stroke-width="1.0" />
<rect x="366.5" y="172.5" width="18.00" height="19.00" fill="#fff" stroke="#333" stroke-width="1.0"/>
<line x1="366.50" y1="189.50" x2="384.50" y2="189.50" stroke="#333" stroke-width="1.1" />
<line x1="401.50" y1="191.50" x2="401.50" y2="196.50" stroke="#333" stroke-width="1.0" />
<line x1="401.50" y1="206.50" x2="401.50" y2="218.50" stroke="#333" stroke-width="1.0" />
<line x1="397.00" y1="191.50" x2="406.10" y2="191.50" stroke="#333" stroke-width="1.0" />
<line x1="397.00" y1="218.50" x2="406.10" y2="218.50" stroke="#333" stroke-width="1.0" />
<rect x="392.5" y="196.5" width="18.00" height="10.00" fill="#fff" stroke="#333" stroke-width="1.0"/>
<line x1="392.50" y1="201.50" x2="410.50" y2="201.50" stroke="#333" stroke-width="1.1" />
<text x="401.60" y="191.41" font-size="9.6" text-anchor="middle" fill="#111" font-weight="bold" letter-spacing="0.6">***</text>
<text transform="translate(341.39,187.90) rotate(-90)" font-size="6.9" text-anchor="middle" fill="#222" >number of granules / cell</text>
<text x="375.60" y="238.70" font-size="7.15" text-anchor="middle" fill="#222" font-weight="normal" >wt</text>
<text x="401.5" y="238.7" font-size="7.3" text-anchor="middle" fill="#222"><tspan font-style="italic">Btk</tspan>-ko</text>
<text x="375.60" y="247.40" font-size="7.15" text-anchor="middle" fill="#222" font-weight="normal" >(n=18)</text>
<text x="401.50" y="247.40" font-size="7.15" text-anchor="middle" fill="#222" font-weight="normal" >(n=18)</text>
<line x1="451.90" y1="156.00" x2="451.90" y2="229.40" stroke="#555" stroke-width="0.9" />
<line x1="450.30" y1="156.30" x2="451.90" y2="156.30" stroke="#555" stroke-width="0.8" />
<text x="447.60" y="158.90" font-size="7.2" text-anchor="end" fill="#222" font-weight="normal" >8</text>
<line x1="450.30" y1="174.58" x2="451.90" y2="174.58" stroke="#555" stroke-width="0.8" />
<text x="447.60" y="177.18" font-size="7.2" text-anchor="end" fill="#222" font-weight="normal" >6</text>
<line x1="450.30" y1="192.85" x2="451.90" y2="192.85" stroke="#555" stroke-width="0.8" />
<text x="447.60" y="195.45" font-size="7.2" text-anchor="end" fill="#222" font-weight="normal" >4</text>
<line x1="450.30" y1="211.12" x2="451.90" y2="211.12" stroke="#555" stroke-width="0.8" />
<text x="447.60" y="213.72" font-size="7.2" text-anchor="end" fill="#222" font-weight="normal" >2</text>
<line x1="450.30" y1="229.40" x2="451.90" y2="229.40" stroke="#555" stroke-width="0.8" />
<text x="447.60" y="232.00" font-size="7.2" text-anchor="end" fill="#222" font-weight="normal" >0</text>
<line x1="451.90" y1="229.40" x2="503.20" y2="229.40" stroke="#777" stroke-width="0.9" />
<line x1="465.20" y1="229.40" x2="465.20" y2="230.70" stroke="#777" stroke-width="0.7" />
<line x1="491.30" y1="229.40" x2="491.30" y2="230.70" stroke="#777" stroke-width="0.7" />
<line x1="465.50" y1="176.50" x2="465.50" y2="184.50" stroke="#333" stroke-width="1.0" />
<line x1="465.50" y1="194.50" x2="465.50" y2="201.50" stroke="#333" stroke-width="1.0" />
<line x1="460.60" y1="176.50" x2="469.80" y2="176.50" stroke="#333" stroke-width="1.0" />
<line x1="460.60" y1="201.50" x2="469.80" y2="201.50" stroke="#333" stroke-width="1.0" />
<rect x="456.5" y="184.5" width="18.00" height="10.00" fill="#fff" stroke="#333" stroke-width="1.0"/>
<line x1="456.50" y1="189.50" x2="474.50" y2="189.50" stroke="#333" stroke-width="1.1" />
<line x1="491.50" y1="198.50" x2="491.50" y2="201.50" stroke="#333" stroke-width="1.0" />
<line x1="491.50" y1="212.50" x2="491.50" y2="217.50" stroke="#333" stroke-width="1.0" />
<line x1="487.00" y1="198.50" x2="495.50" y2="198.50" stroke="#333" stroke-width="1.0" />
<line x1="487.00" y1="217.50" x2="495.50" y2="217.50" stroke="#333" stroke-width="1.0" />
<rect x="481.5" y="201.5" width="18.00" height="11.00" fill="#fff" stroke="#333" stroke-width="1.0"/>
<line x1="481.50" y1="202.50" x2="499.50" y2="202.50" stroke="#333" stroke-width="1.1" />
<text x="491.60" y="198.51" font-size="9.6" text-anchor="middle" fill="#111" font-weight="bold" letter-spacing="0.6">***</text>
<text transform="translate(438.80,191.7) rotate(-90)" font-size="7.45" text-anchor="middle" fill="#222">number of granules / [µm<tspan font-size="4.5" dy="-2.6">2</tspan><tspan dy="2.6">] cytosol</tspan></text>
<text x="465.00" y="239.60" font-size="7.15" text-anchor="middle" fill="#222" font-weight="normal" >wt</text>
<text x="491.5" y="239.6" font-size="7.3" text-anchor="middle" fill="#222"><tspan font-style="italic">Btk</tspan>-ko</text>
<text x="465.00" y="248.10" font-size="7.15" text-anchor="middle" fill="#222" font-weight="normal" >(n=18)</text>
<text x="491.50" y="248.10" font-size="7.15" text-anchor="middle" fill="#222" font-weight="normal" >(n=18)</text>
<text x="2.10" y="267.03" font-size="11.5" text-anchor="start" fill="#000" font-weight="bold" >F</text>
<rect x="43.10" y="307.64" width="12.40" height="49.06" fill="#616161" stroke="#4c4c4c" stroke-width="0.6" />
<line x1="49.30" y1="307.64" x2="49.30" y2="284.45" stroke="#222" stroke-width="0.7" />
<line x1="47.70" y1="284.45" x2="50.90" y2="284.45" stroke="#222" stroke-width="0.7" />
<rect x="55.50" y="351.35" width="12.40" height="5.35" fill="#bababa" stroke="#a6a6a6" stroke-width="0.6" />
<line x1="61.70" y1="351.35" x2="61.70" y2="346.00" stroke="#222" stroke-width="0.7" />
<line x1="60.10" y1="346.00" x2="63.30" y2="346.00" stroke="#222" stroke-width="0.7" />
<rect x="85.70" y="310.32" width="13.10" height="46.38" fill="#616161" stroke="#4c4c4c" stroke-width="0.6" />
<line x1="92.25" y1="310.32" x2="92.25" y2="296.49" stroke="#222" stroke-width="0.7" />
<line x1="90.65" y1="296.49" x2="93.85" y2="296.49" stroke="#222" stroke-width="0.7" />
<rect x="98.80" y="354.92" width="12.10" height="1.78" fill="#bababa" stroke="#a6a6a6" stroke-width="0.6" />
<line x1="104.85" y1="354.92" x2="104.85" y2="352.24" stroke="#222" stroke-width="0.7" />
<line x1="103.25" y1="352.24" x2="106.45" y2="352.24" stroke="#222" stroke-width="0.7" />
<rect x="128.50" y="311.21" width="12.90" height="45.49" fill="#616161" stroke="#4c4c4c" stroke-width="0.6" />
<line x1="134.95" y1="311.21" x2="134.95" y2="301.40" stroke="#222" stroke-width="0.7" />
<line x1="133.35" y1="301.40" x2="136.55" y2="301.40" stroke="#222" stroke-width="0.7" />
<rect x="141.40" y="352.24" width="12.30" height="4.46" fill="#bababa" stroke="#a6a6a6" stroke-width="0.6" />
<line x1="147.55" y1="352.24" x2="147.55" y2="350.01" stroke="#222" stroke-width="0.7" />
<line x1="145.95" y1="350.01" x2="149.15" y2="350.01" stroke="#222" stroke-width="0.7" />
<line x1="33.20" y1="267.20" x2="33.20" y2="357.30" stroke="#111" stroke-width="1.6" />
<line x1="31.40" y1="267.50" x2="33.20" y2="267.50" stroke="#111" stroke-width="1.4400000000000002" />
<text x="30.80" y="270.24" font-size="7.6" text-anchor="end" fill="#222" font-weight="normal" >2.0</text>
<line x1="31.40" y1="289.80" x2="33.20" y2="289.80" stroke="#111" stroke-width="1.4400000000000002" />
<text x="30.80" y="292.54" font-size="7.6" text-anchor="end" fill="#222" font-weight="normal" >1.5</text>
<line x1="31.40" y1="312.10" x2="33.20" y2="312.10" stroke="#111" stroke-width="1.4400000000000002" />
<text x="30.80" y="314.84" font-size="7.6" text-anchor="end" fill="#222" font-weight="normal" >1.0</text>
<line x1="31.40" y1="334.40" x2="33.20" y2="334.40" stroke="#111" stroke-width="1.4400000000000002" />
<text x="30.80" y="337.14" font-size="7.6" text-anchor="end" fill="#222" font-weight="normal" >0.5</text>
<line x1="31.40" y1="356.70" x2="33.20" y2="356.70" stroke="#111" stroke-width="1.4400000000000002" />
<text x="30.80" y="359.44" font-size="7.6" text-anchor="end" fill="#222" font-weight="normal" >0</text>
<line x1="33.20" y1="356.70" x2="162.20" y2="356.70" stroke="#111" stroke-width="1.4" />
<line x1="76.60" y1="356.70" x2="76.60" y2="358.50" stroke="#111" stroke-width="1.0" />
<line x1="120.00" y1="356.70" x2="120.00" y2="358.50" stroke="#111" stroke-width="1.0" />
<line x1="162.00" y1="356.70" x2="162.00" y2="358.50" stroke="#111" stroke-width="1.0" />
<rect x="38.30" y="266.70" width="3.10" height="3.10" fill="#555" stroke="none" stroke-width="0" />
<text x="44.10" y="270.70" font-size="6.95" text-anchor="start" fill="#333" font-weight="normal" >wt (n=4)</text>
<rect x="38.30" y="276.00" width="3.10" height="3.10" fill="#b0b0b0" stroke="none" stroke-width="0" />
<text x="44.10" y="280.00" font-size="6.95" fill="#333"><tspan font-style="italic">Btk</tspan>-ko (n=5)</text>
<text x="57.50" y="366.30" font-size="7.15" text-anchor="middle" fill="#222" font-weight="normal" font-style="italic" >Elane</text>
<text x="98.30" y="366.30" font-size="7.15" text-anchor="middle" fill="#222" font-weight="normal" font-style="italic" >Ltf</text>
<text x="140.70" y="366.30" font-size="7.15" text-anchor="middle" fill="#222" font-weight="normal" font-style="italic" >Mpo</text>
<text transform="translate(16.45,311.70) rotate(-90)" font-size="7.5" text-anchor="middle" fill="#222" >relative mRNA expression</text>
<text x="178.50" y="266.44" font-size="11.5" text-anchor="start" fill="#000" font-weight="bold" >G</text>
<line x1="208.70" y1="266.50" x2="208.70" y2="356.40" stroke="#111" stroke-width="1.4" />
<line x1="206.90" y1="355.80" x2="208.70" y2="355.80" stroke="#111" stroke-width="1.2" />
<line x1="206.90" y1="338.00" x2="208.70" y2="338.00" stroke="#111" stroke-width="1.2" />
<text x="206.10" y="340.60" font-size="7.3" text-anchor="end" fill="#222" font-weight="normal" >1</text>
<line x1="206.90" y1="320.20" x2="208.70" y2="320.20" stroke="#111" stroke-width="1.2" />
<text x="206.10" y="322.80" font-size="7.3" text-anchor="end" fill="#222" font-weight="normal" >2</text>
<line x1="206.90" y1="302.40" x2="208.70" y2="302.40" stroke="#111" stroke-width="1.2" />
<text x="206.10" y="305.00" font-size="7.3" text-anchor="end" fill="#222" font-weight="normal" >3</text>
<line x1="206.90" y1="284.60" x2="208.70" y2="284.60" stroke="#111" stroke-width="1.2" />
<text x="206.10" y="287.20" font-size="7.3" text-anchor="end" fill="#222" font-weight="normal" >4</text>
<line x1="206.90" y1="266.80" x2="208.70" y2="266.80" stroke="#111" stroke-width="1.2" />
<text x="206.10" y="269.40" font-size="7.3" text-anchor="end" fill="#222" font-weight="normal" >5</text>
<line x1="208.70" y1="355.80" x2="298.00" y2="355.80" stroke="#111" stroke-width="1.4" />
<line x1="208.70" y1="355.80" x2="208.70" y2="357.60" stroke="#111" stroke-width="1.2" />
<text x="208.70" y="365.10" font-size="7.3" text-anchor="middle" fill="#222" font-weight="normal" >0</text>
<line x1="230.92" y1="355.80" x2="230.92" y2="357.60" stroke="#111" stroke-width="1.2" />
<text x="230.92" y="365.10" font-size="7.3" text-anchor="middle" fill="#222" font-weight="normal" >30</text>
<line x1="253.15" y1="355.80" x2="253.15" y2="357.60" stroke="#111" stroke-width="1.2" />
<text x="253.15" y="365.10" font-size="7.3" text-anchor="middle" fill="#222" font-weight="normal" >60</text>
<line x1="275.37" y1="355.80" x2="275.37" y2="357.60" stroke="#111" stroke-width="1.2" />
<text x="275.37" y="365.10" font-size="7.3" text-anchor="middle" fill="#222" font-weight="normal" >90</text>
<line x1="297.60" y1="355.80" x2="297.60" y2="357.60" stroke="#111" stroke-width="1.2" />
<text x="297.60" y="365.10" font-size="7.3" text-anchor="middle" fill="#222" font-weight="normal" >120</text>
<line x1="230.92" y1="317.53" x2="230.92" y2="321.09" stroke="#333" stroke-width="0.7" />
<line x1="229.62" y1="317.53" x2="232.22" y2="317.53" stroke="#333" stroke-width="0.7" />
<line x1="229.62" y1="321.09" x2="232.22" y2="321.09" stroke="#333" stroke-width="0.7" />
<line x1="253.15" y1="280.15" x2="253.15" y2="283.71" stroke="#333" stroke-width="0.7" />
<line x1="251.85" y1="280.15" x2="254.45" y2="280.15" stroke="#333" stroke-width="0.7" />
<line x1="251.85" y1="283.71" x2="254.45" y2="283.71" stroke="#333" stroke-width="0.7" />
<line x1="275.37" y1="269.47" x2="275.37" y2="273.03" stroke="#333" stroke-width="0.7" />
<line x1="274.07" y1="269.47" x2="276.67" y2="269.47" stroke="#333" stroke-width="0.7" />
<line x1="274.07" y1="273.03" x2="276.67" y2="273.03" stroke="#333" stroke-width="0.7" />
<line x1="297.60" y1="266.80" x2="297.60" y2="268.58" stroke="#333" stroke-width="0.7" />
<line x1="296.30" y1="266.80" x2="298.90" y2="266.80" stroke="#333" stroke-width="0.7" />
<line x1="296.30" y1="268.58" x2="298.90" y2="268.58" stroke="#333" stroke-width="0.7" />
<line x1="230.92" y1="328.74" x2="230.92" y2="331.24" stroke="#333" stroke-width="0.7" />
<line x1="229.62" y1="328.74" x2="232.22" y2="328.74" stroke="#333" stroke-width="0.7" />
<line x1="229.62" y1="331.24" x2="232.22" y2="331.24" stroke="#333" stroke-width="0.7" />
<line x1="253.15" y1="301.51" x2="253.15" y2="308.63" stroke="#333" stroke-width="0.7" />
<line x1="251.85" y1="301.51" x2="254.45" y2="301.51" stroke="#333" stroke-width="0.7" />
<line x1="251.85" y1="308.63" x2="254.45" y2="308.63" stroke="#333" stroke-width="0.7" />
<line x1="275.37" y1="292.61" x2="275.37" y2="299.73" stroke="#333" stroke-width="0.7" />
<line x1="274.07" y1="292.61" x2="276.67" y2="292.61" stroke="#333" stroke-width="0.7" />
<line x1="274.07" y1="299.73" x2="276.67" y2="299.73" stroke="#333" stroke-width="0.7" />
<line x1="297.60" y1="290.47" x2="297.60" y2="294.75" stroke="#333" stroke-width="0.7" />
<line x1="296.30" y1="290.47" x2="298.90" y2="290.47" stroke="#333" stroke-width="0.7" />
<line x1="296.30" y1="294.75" x2="298.90" y2="294.75" stroke="#333" stroke-width="0.7" />
<polyline points="208.70,338.00 230.92,329.99 253.15,305.07 275.37,296.17 297.60,292.61" fill="none" stroke="#111" stroke-width="1.75"/>
<polyline points="208.70,338.00 230.92,319.31 253.15,281.93 275.37,271.25 297.60,267.69" fill="none" stroke="#111" stroke-width="1.75" stroke-dasharray="5.5 1.8 1.5 1.8"/>
<path d="M208.70 335.40 L211.56 340.08 L205.84 340.08 Z" fill="#111"/>
<path d="M230.92 327.39 L233.78 332.07 L228.06 332.07 Z" fill="#111"/>
<path d="M253.15 302.47 L256.01 307.15 L250.29 307.15 Z" fill="#111"/>
<path d="M275.37 293.57 L278.23 298.25 L272.51 298.25 Z" fill="#111"/>
<path d="M297.60 290.01 L300.46 294.69 L294.74 294.69 Z" fill="#111"/>
<rect x="206.30" y="335.60" width="4.80" height="4.80" fill="#111"/>
<rect x="228.52" y="316.91" width="4.80" height="4.80" fill="#111"/>
<rect x="250.75" y="279.53" width="4.80" height="4.80" fill="#111"/>
<rect x="272.97" y="268.85" width="4.80" height="4.80" fill="#111"/>
<rect x="295.20" y="265.29" width="4.80" height="4.80" fill="#111"/>
<line x1="255.30" y1="338.00" x2="263.00" y2="338.00" stroke="#111" stroke-width="2.0" />
<line x1="268.50" y1="338.00" x2="271.50" y2="338.00" stroke="#111" stroke-width="2.0" />
<rect x="260.50" y="335.30" width="5.40" height="5.40" fill="#111"/>
<rect x="262.00" y="336.80" width="2.40" height="2.40" fill="#fff"/>
<line x1="255.30" y1="347.50" x2="270.70" y2="347.50" stroke="#111" stroke-width="2.0" />
<path d="M263.50 344.50 L266.80 349.90 L260.20 349.90 Z" fill="#111"/>
<text x="275.20" y="340.60" font-size="7.4" text-anchor="start" fill="#222" font-weight="normal" >wt</text>
<text x="273.60" y="350.10" font-size="7.4" fill="#222"><tspan font-style="italic">Btk</tspan>-ko</text>
<text x="253.75" y="375.70" font-size="7.2" text-anchor="middle" fill="#222" font-weight="normal" >time [min]</text>
<text transform="translate(188.56,310.40) rotate(-90)" font-size="7.55" text-anchor="middle" fill="#222" >relative elastase</text>
<text transform="translate(195.66,310.40) rotate(-90)" font-size="7.55" text-anchor="middle" fill="#222" >activity [RFU]</text>
<text x="321.60" y="267.03" font-size="11.5" text-anchor="start" fill="#000" font-weight="bold" >H</text>
<line x1="346.80" y1="268.00" x2="346.80" y2="356.90" stroke="#111" stroke-width="1.4" />
<line x1="345.00" y1="356.30" x2="346.80" y2="356.30" stroke="#111" stroke-width="1.2" />
<line x1="345.00" y1="338.70" x2="346.80" y2="338.70" stroke="#111" stroke-width="1.2" />
<text x="344.20" y="341.30" font-size="7.3" text-anchor="end" fill="#222" font-weight="normal" >1</text>
<line x1="345.00" y1="321.10" x2="346.80" y2="321.10" stroke="#111" stroke-width="1.2" />
<text x="344.20" y="323.70" font-size="7.3" text-anchor="end" fill="#222" font-weight="normal" >2</text>
<line x1="345.00" y1="303.50" x2="346.80" y2="303.50" stroke="#111" stroke-width="1.2" />
<text x="344.20" y="306.10" font-size="7.3" text-anchor="end" fill="#222" font-weight="normal" >3</text>
<line x1="345.00" y1="285.90" x2="346.80" y2="285.90" stroke="#111" stroke-width="1.2" />
<text x="344.20" y="288.50" font-size="7.3" text-anchor="end" fill="#222" font-weight="normal" >4</text>
<line x1="345.00" y1="268.30" x2="346.80" y2="268.30" stroke="#111" stroke-width="1.2" />
<text x="344.20" y="270.90" font-size="7.3" text-anchor="end" fill="#222" font-weight="normal" >5</text>
<line x1="346.80" y1="356.30" x2="438.41" y2="356.30" stroke="#111" stroke-width="1.4" />
<line x1="346.80" y1="356.30" x2="346.80" y2="358.10" stroke="#111" stroke-width="1.2" />
<text x="346.80" y="365.60" font-size="7.3" text-anchor="middle" fill="#222" font-weight="normal" >0</text>
<line x1="377.20" y1="356.30" x2="377.20" y2="358.10" stroke="#111" stroke-width="1.2" />
<text x="377.20" y="365.60" font-size="7.3" text-anchor="middle" fill="#222" font-weight="normal" >60</text>
<line x1="407.60" y1="356.30" x2="407.60" y2="358.10" stroke="#111" stroke-width="1.2" />
<text x="407.60" y="365.60" font-size="7.3" text-anchor="middle" fill="#222" font-weight="normal" >120</text>
<line x1="438.01" y1="356.30" x2="438.01" y2="358.10" stroke="#111" stroke-width="1.2" />
<text x="438.01" y="365.60" font-size="7.3" text-anchor="middle" fill="#222" font-weight="normal" >180</text>
<line x1="377.20" y1="299.98" x2="377.20" y2="317.58" stroke="#333" stroke-width="0.7" />
<line x1="375.90" y1="299.98" x2="378.50" y2="299.98" stroke="#333" stroke-width="0.7" />
<line x1="375.90" y1="317.58" x2="378.50" y2="317.58" stroke="#333" stroke-width="0.7" />
<line x1="407.60" y1="282.38" x2="407.60" y2="299.98" stroke="#333" stroke-width="0.7" />
<line x1="406.30" y1="282.38" x2="408.90" y2="282.38" stroke="#333" stroke-width="0.7" />
<line x1="406.30" y1="299.98" x2="408.90" y2="299.98" stroke="#333" stroke-width="0.7" />
<line x1="438.01" y1="277.10" x2="438.01" y2="289.42" stroke="#333" stroke-width="0.7" />
<line x1="436.71" y1="277.10" x2="439.31" y2="277.10" stroke="#333" stroke-width="0.7" />
<line x1="436.71" y1="289.42" x2="439.31" y2="289.42" stroke="#333" stroke-width="0.7" />
<line x1="377.20" y1="320.22" x2="377.20" y2="321.98" stroke="#333" stroke-width="0.7" />
<line x1="375.90" y1="320.22" x2="378.50" y2="320.22" stroke="#333" stroke-width="0.7" />
<line x1="375.90" y1="321.98" x2="378.50" y2="321.98" stroke="#333" stroke-width="0.7" />
<line x1="407.60" y1="304.38" x2="407.60" y2="306.14" stroke="#333" stroke-width="0.7" />
<line x1="406.30" y1="304.38" x2="408.90" y2="304.38" stroke="#333" stroke-width="0.7" />
<line x1="406.30" y1="306.14" x2="408.90" y2="306.14" stroke="#333" stroke-width="0.7" />
<line x1="438.01" y1="298.22" x2="438.01" y2="299.98" stroke="#333" stroke-width="0.7" />
<line x1="436.71" y1="298.22" x2="439.31" y2="298.22" stroke="#333" stroke-width="0.7" />
<line x1="436.71" y1="299.98" x2="439.31" y2="299.98" stroke="#333" stroke-width="0.7" />
<polyline points="346.80,338.70 377.20,321.10 407.60,305.26 438.01,299.10" fill="none" stroke="#111" stroke-width="1.75"/>
<polyline points="346.80,338.70 377.20,308.78 407.60,291.18 438.01,283.26" fill="none" stroke="#111" stroke-width="1.75" stroke-dasharray="5.5 1.8 1.5 1.8"/>
<path d="M346.80 336.10 L349.66 340.78 L343.94 340.78 Z" fill="#111"/>
<path d="M377.20 318.50 L380.06 323.18 L374.34 323.18 Z" fill="#111"/>
<path d="M407.60 302.66 L410.46 307.34 L404.74 307.34 Z" fill="#111"/>
<path d="M438.01 296.50 L440.87 301.18 L435.15 301.18 Z" fill="#111"/>
<rect x="344.40" y="336.30" width="4.80" height="4.80" fill="#111"/>
<rect x="374.80" y="306.38" width="4.80" height="4.80" fill="#111"/>
<rect x="405.20" y="288.78" width="4.80" height="4.80" fill="#111"/>
<rect x="435.61" y="280.86" width="4.80" height="4.80" fill="#111"/>
<line x1="397.80" y1="338.80" x2="405.50" y2="338.80" stroke="#111" stroke-width="2.0" />
<line x1="411.00" y1="338.80" x2="414.00" y2="338.80" stroke="#111" stroke-width="2.0" />
<rect x="403.00" y="336.10" width="5.40" height="5.40" fill="#111"/>
<rect x="404.50" y="337.60" width="2.40" height="2.40" fill="#fff"/>
<line x1="397.80" y1="348.00" x2="413.20" y2="348.00" stroke="#111" stroke-width="2.0" />
<path d="M406.00 345.00 L409.30 350.40 L402.70 350.40 Z" fill="#111"/>
<text x="417.70" y="341.40" font-size="7.4" text-anchor="start" fill="#222" font-weight="normal" >wt</text>
<text x="416.10" y="350.60" font-size="7.4" fill="#222"><tspan font-style="italic">Btk</tspan>-ko</text>
<text x="393.00" y="376.20" font-size="7.2" text-anchor="middle" fill="#222" font-weight="normal" >time [min]</text>
<text transform="translate(326.86,312.40) rotate(-90)" font-size="7.55" text-anchor="middle" fill="#222" >relative gelatinase</text>
<text transform="translate(334.96,312.40) rotate(-90)" font-size="7.55" text-anchor="middle" fill="#222" >activity [RFU]</text>
</svg></body></html>
